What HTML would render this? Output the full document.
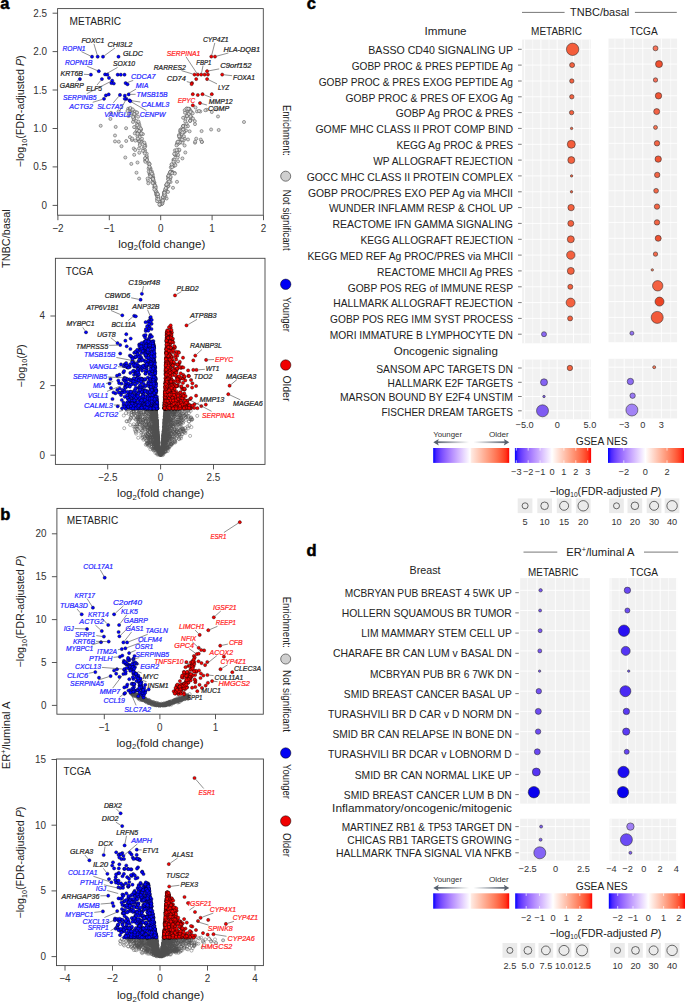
<!DOCTYPE html>
<html><head><meta charset="utf-8"><style>
html,body{margin:0;padding:0;background:#fff;}
svg{display:block;font-family:"Liberation Sans", sans-serif;}
</style></head><body>
<svg width="685" height="1003" viewBox="0 0 685 1003">
<rect width="685" height="1003" fill="#fff"/>
<defs><marker id="mg" markerWidth="4.94" markerHeight="4.94" refX="2.47" refY="2.47" markerUnits="userSpaceOnUse" overflow="visible"><circle cx="2.47" cy="2.47" r="1.55" fill="none" stroke="#505050" stroke-width="0.42"/></marker><marker id="mgw" markerWidth="5.10" markerHeight="5.10" refX="2.55" refY="2.55" markerUnits="userSpaceOnUse" overflow="visible"><circle cx="2.55" cy="2.55" r="1.55" fill="#d8d8d8" stroke="#4a4a4a" stroke-width="0.5"/></marker><marker id="mb" markerWidth="4.96" markerHeight="4.96" refX="2.48" refY="2.48" markerUnits="userSpaceOnUse" overflow="visible"><circle cx="2.48" cy="2.48" r="1.6" fill="#0000ff" stroke="#000" stroke-width="0.38"/></marker><marker id="mr" markerWidth="4.96" markerHeight="4.96" refX="2.48" refY="2.48" markerUnits="userSpaceOnUse" overflow="visible"><circle cx="2.48" cy="2.48" r="1.6" fill="#f50000" stroke="#000" stroke-width="0.38"/></marker></defs>
<rect x="57.6" y="8.6" width="205.7" height="206.6" fill="none" stroke="#444" stroke-width="0.9"/>
<line x1="52.6" y1="205.4" x2="57.6" y2="205.4" stroke="#444" stroke-width="0.9"/>
<text x="41.6" y="208.8" font-size="10.6" fill="#333" textLength="5.5" lengthAdjust="spacingAndGlyphs">0</text>
<line x1="52.6" y1="166.9" x2="57.6" y2="166.9" stroke="#444" stroke-width="0.9"/>
<text x="33.3" y="170.4" font-size="10.6" fill="#333" textLength="13.8" lengthAdjust="spacingAndGlyphs">0.5</text>
<line x1="52.6" y1="128.5" x2="57.6" y2="128.5" stroke="#444" stroke-width="0.9"/>
<text x="33.3" y="131.9" font-size="10.6" fill="#333" textLength="13.8" lengthAdjust="spacingAndGlyphs">1.0</text>
<line x1="52.6" y1="90.0" x2="57.6" y2="90.0" stroke="#444" stroke-width="0.9"/>
<text x="33.3" y="93.5" font-size="10.6" fill="#333" textLength="13.8" lengthAdjust="spacingAndGlyphs">1.5</text>
<line x1="52.6" y1="51.6" x2="57.6" y2="51.6" stroke="#444" stroke-width="0.9"/>
<text x="33.3" y="55.0" font-size="10.6" fill="#333" textLength="13.8" lengthAdjust="spacingAndGlyphs">2.0</text>
<line x1="52.6" y1="13.2" x2="57.6" y2="13.2" stroke="#444" stroke-width="0.9"/>
<text x="33.3" y="16.6" font-size="10.6" fill="#333" textLength="13.8" lengthAdjust="spacingAndGlyphs">2.5</text>
<line x1="57.9" y1="215.2" x2="57.9" y2="220.2" stroke="#444" stroke-width="0.9"/>
<text x="52.2" y="231.9" font-size="10.6" fill="#333" textLength="11.3" lengthAdjust="spacingAndGlyphs">−2</text>
<line x1="109.3" y1="215.2" x2="109.3" y2="220.2" stroke="#444" stroke-width="0.9"/>
<text x="103.6" y="231.9" font-size="10.6" fill="#333" textLength="11.3" lengthAdjust="spacingAndGlyphs">−1</text>
<line x1="160.7" y1="215.2" x2="160.7" y2="220.2" stroke="#444" stroke-width="0.9"/>
<text x="157.9" y="231.9" font-size="10.6" fill="#333" textLength="5.5" lengthAdjust="spacingAndGlyphs">0</text>
<line x1="212.1" y1="215.2" x2="212.1" y2="220.2" stroke="#444" stroke-width="0.9"/>
<text x="209.3" y="231.9" font-size="10.6" fill="#333" textLength="5.5" lengthAdjust="spacingAndGlyphs">1</text>
<line x1="263.5" y1="215.2" x2="263.5" y2="220.2" stroke="#444" stroke-width="0.9"/>
<text x="260.7" y="231.9" font-size="10.6" fill="#333" textLength="5.5" lengthAdjust="spacingAndGlyphs">2</text>
<path d="M178.4 141.6 162.1 201.4 186.5 116.5 162.1 203.4 140.0 128.6 159.8 205.1 216.4 109.3 170.6 182.0 134.0 117.1 172.4 172.2 150.6 168.6 142.9 134.1 218.7 130.0 161.7 204.0 154.5 182.8 178.9 150.7 100.7 125.8 195.0 142.7 143.3 148.8 115.0 135.5 189.4 108.9 177.7 157.3 162.5 200.9 138.7 140.9 173.0 187.8 189.0 109.8 176.0 155.0 133.2 111.3 164.0 194.3 182.3 127.8 173.9 166.1 174.7 173.0 161.6 203.6 181.3 139.4 201.6 131.1 206.7 109.8 168.5 186.0 180.2 131.8 179.6 137.7 162.7 201.5 153.2 180.5 158.4 198.3 167.8 183.1 139.1 178.6 150.3 174.5 142.4 142.5 184.6 145.5 172.4 165.5 118.6 111.5 156.0 192.2 126.2 141.0 184.7 110.2 144.8 144.1 131.0 109.1 165.3 190.7 162.4 203.4 135.3 127.1 179.4 143.0 140.6 130.6 150.5 172.7 186.0 130.5 191.3 117.6 173.4 159.9 149.5 164.0 136.5 172.7 151.8 173.7 175.3 155.1 186.5 124.4 187.9 126.2 140.6 134.4 188.0 139.5 155.1 187.7 139.6 141.7 145.3 146.0 146.5 159.5 163.1 198.1 185.3 152.5 152.2 176.9 168.2 178.9 156.3 194.8 176.9 144.3 159.3 201.3 191.4 112.0 137.0 123.7 153.0 178.9 138.6 122.7 136.2 120.9 156.4 193.4 184.7 117.5 142.2 141.9 154.3 187.2 150.7 176.9 170.2 178.9 181.2 135.7 155.8 191.1 152.6 182.4 137.5 162.5 136.3 131.6 129.9 137.1 157.7 197.5 133.8 148.5 138.1 116.7 152.1 178.0 172.2 171.8 154.3 184.6 164.1 192.2 190.3 120.4 171.7 164.8 151.9 171.6 157.6 194.5 166.1 189.9 152.9 177.8 153.3 182.5 180.3 129.8 183.4 129.1 184.3 132.0 174.7 164.3 169.5 173.8 162.7 201.6 141.3 142.6 150.2 169.4 145.0 150.2 129.9 113.2 174.1 159.3 135.2 150.0 166.6 198.5 134.2 154.8 144.7 147.2 170.8 167.3 148.5 162.5 158.7 200.3 183.6 125.8 195.2 141.6 154.1 184.0 170.8 171.2 195.0 124.1 178.3 149.6 149.7 173.9 144.1 145.5 181.2 133.1 200.3 111.5 153.8 181.6 131.7 110.0 184.7 138.8 148.5 163.9 133.5 117.7 118.8 141.7 163.6 197.3 137.8 132.0 152.7 174.3 159.2 201.2 177.5 144.2 163.3 197.5 200.8 139.6 133.0 121.9 166.9 187.5 189.6 131.3 115.0 141.4 164.1 197.1 157.5 194.9 165.3 191.2 186.0 112.6 170.8 172.8 173.3 164.3 185.6 126.5 163.8 198.8 165.5 196.1 131.3 163.9 139.2 124.5 146.8 157.0 148.0 180.5 133.8 111.7 174.2 163.3 183.5 140.4 178.0 161.3 211.1 129.5 145.1 160.5 146.6 155.9 168.2 185.7 167.5 182.8 140.1 143.8 168.0 184.0 175.4 165.2 157.4 194.2 172.3 165.6 152.7 176.0 178.1 154.8 182.4 142.8 158.6 200.2 196.2 138.7 134.8 133.4 187.5 113.7 174.9 150.4 166.2 189.0 152.3 181.7 190.4 110.6 180.5 130.8 153.2 177.8 190.5 116.8 160.0 203.9 185.5 119.1 144.3 142.6 164.1 197.2 190.4 117.3 138.4 121.6 140.8 129.3 154.6 187.1 172.1 167.2 138.2 139.1 121.5 146.2 146.7 153.7 115.7 126.9 168.2 176.4 135.0 111.6 164.1 192.8 149.5 164.1 145.4 161.8 133.9 119.3 136.8 112.7 153.5 179.8 156.7 192.2 138.6 128.3 189.1 108.9 174.5 159.9 171.6 164.3 155.5 188.8 182.4 158.4 168.3 176.7 165.1 189.4 155.1 189.5 202.0 141.9 170.5 177.2 155.5 190.7 110.4 118.9 133.6 118.6 142.0 138.7 185.0 112.7 179.6 136.8 141.4 133.5 139.6 126.3 179.4 149.8 147.6 178.6 182.0 139.6 138.7 130.6 181.4 131.3 158.0 197.5 158.2 198.0 137.4 125.2 183.1 125.9 190.2 120.9 128.2 108.7 156.7 194.3 171.3 172.4 138.6 135.5 173.5 161.7 179.4 136.1 183.1 126.1 145.3 158.4 137.5 136.2 156.9 193.7 150.1 173.5 139.0 148.4 190.4 114.4 140.8 129.4 134.7 114.9 186.5 123.5 157.4 196.4 183.9 131.8 139.0 127.4 132.0 140.0 144.7 151.8 157.5 196.4 157.8 194.1 132.3 112.6 183.9 136.2 125.3 157.5 169.5 173.8 185.2 121.4 179.7 142.3 170.5 171.8 166.4 185.0 190.5 116.1 149.7 173.9 178.9 135.1 201.8 141.9 168.0 191.9 111.0 112.8 137.1 130.2 166.2 185.2 146.9 159.0 162.8 200.6 139.3 152.7 148.6 168.5 150.4 175.0 130.0 108.7 148.3 183.3 162.9 197.0 134.1 127.1 158.4 197.0 194.8 121.1 133.4 115.5 151.0 176.3 168.8 177.6 142.4 144.4 135.4 140.6 139.8 145.2 168.2 179.5 177.0 181.8 181.9 134.1 164.2 195.4 165.0 193.6 170.1 172.1 150.0 171.1 145.1 158.2 134.4 114.0 155.7 186.5 149.7 167.3 133.1 117.0 174.7 154.5 126.1 128.2 177.0 152.6 177.2 142.4 137.5 133.7 183.1 129.6 182.5 132.5 187.0 108.5 164.6 194.8 165.8 188.0 197.0 111.4 189.2 112.5 176.6 150.1 175.6 153.7 156.9 198.9 188.8 114.0 152.5 178.2 150.3 176.4 155.5 187.8 151.1 173.0 142.9 150.8 140.7 128.6 137.0 112.5 186.5 108.7 159.3 204.4 130.3 108.8 146.9 160.0 148.7 171.6 164.4 192.7 139.7 137.1 158.6 201.3 153.0 179.0 190.1 120.8 172.2 173.2 192.7 113.3 169.2 181.5 166.6 184.4 154.3 189.4 183.1 117.8 128.8 113.5 132.2 138.6 154.9 185.5 169.0 175.6 157.1 201.1 139.1 131.0 153.2 183.0 211.8 112.0 174.2 153.8 158.4 199.2 150.7 172.1 179.1 136.3 177.9 141.7 152.6 183.1 170.5 176.9 149.4 166.7 188.3 108.7 174.8 173.6 151.9 173.6 168.4 175.8 137.9 138.6 176.5 145.4 144.8 153.4 195.5 107.5 205.3 110.2 190.5 112.0 199.0 111.0 218.0 116.5 244.0 122.0 187.0 116.0 193.0 118.5 130.4 108.0 132.8 109.5 127.5 111.0 131.0 113.5 128.5 116.0" fill="none" stroke="none" marker-start="url(#mgw)" marker-mid="url(#mgw)" marker-end="url(#mgw)"/>
<line x1="93.9" y1="43.8" x2="97.2" y2="54.9" stroke="#333" stroke-width="0.55"/>
<text x="81.4" y="42.8" font-size="7.4" fill="#222" font-style="italic" textLength="22.9" lengthAdjust="spacingAndGlyphs" stroke="#222" stroke-width="0.22">FOXC1</text>
<line x1="81.4" y1="51.6" x2="90.3" y2="55.9" stroke="#333" stroke-width="0.55"/>
<text x="62.5" y="50.6" font-size="7.4" fill="#2626ff" font-style="italic" textLength="22.9" lengthAdjust="spacingAndGlyphs" stroke="#2626ff" stroke-width="0.22">ROPN1</text>
<line x1="115.0" y1="48.0" x2="104.5" y2="55.6" stroke="#333" stroke-width="0.55"/>
<text x="107.4" y="47.0" font-size="7.4" fill="#222" font-style="italic" textLength="25.0" lengthAdjust="spacingAndGlyphs" stroke="#222" stroke-width="0.22">CHI3L2</text>
<text x="122.9" y="56.2" font-size="7.4" fill="#222" font-style="italic" textLength="20.0" lengthAdjust="spacingAndGlyphs" stroke="#222" stroke-width="0.22">GLDC</text>
<line x1="87.1" y1="66.2" x2="97.1" y2="70.5" stroke="#333" stroke-width="0.55"/>
<text x="64.9" y="65.2" font-size="7.4" fill="#2626ff" font-style="italic" textLength="27.6" lengthAdjust="spacingAndGlyphs" stroke="#2626ff" stroke-width="0.22">ROPN1B</text>
<line x1="117.6" y1="67.4" x2="106.8" y2="73.5" stroke="#333" stroke-width="0.55"/>
<text x="113.0" y="66.4" font-size="7.4" fill="#222" font-style="italic" textLength="22.0" lengthAdjust="spacingAndGlyphs" stroke="#222" stroke-width="0.22">SOX10</text>
<line x1="84.0" y1="74.3" x2="89.0" y2="74.6" stroke="#333" stroke-width="0.55"/>
<text x="60.5" y="76.2" font-size="7.4" fill="#222" font-style="italic" textLength="22.5" lengthAdjust="spacingAndGlyphs" stroke="#222" stroke-width="0.22">KRT6B</text>
<line x1="133.2" y1="80.4" x2="127.4" y2="82.5" stroke="#333" stroke-width="0.55"/>
<text x="131.1" y="79.4" font-size="7.4" fill="#2626ff" font-style="italic" textLength="24.4" lengthAdjust="spacingAndGlyphs" stroke="#2626ff" stroke-width="0.22">CDCA7</text>
<line x1="76.6" y1="81.5" x2="78.4" y2="80.2" stroke="#333" stroke-width="0.55"/>
<text x="59.8" y="87.7" font-size="7.4" fill="#222" font-style="italic" textLength="24.0" lengthAdjust="spacingAndGlyphs" stroke="#222" stroke-width="0.22">GABRP</text>
<line x1="97.0" y1="85.0" x2="100.7" y2="80.6" stroke="#333" stroke-width="0.55"/>
<text x="86.2" y="91.2" font-size="7.4" fill="#222" font-style="italic" textLength="15.8" lengthAdjust="spacingAndGlyphs" stroke="#222" stroke-width="0.22">ELF5</text>
<line x1="136.1" y1="89.0" x2="126.4" y2="94.7" stroke="#333" stroke-width="0.55"/>
<text x="135.8" y="88.0" font-size="7.4" fill="#2626ff" font-style="italic" textLength="12.6" lengthAdjust="spacingAndGlyphs" stroke="#2626ff" stroke-width="0.22">MIA</text>
<line x1="86.7" y1="93.7" x2="110.5" y2="81.6" stroke="#333" stroke-width="0.55"/>
<text x="63.0" y="99.9" font-size="7.4" fill="#2626ff" font-style="italic" textLength="33.4" lengthAdjust="spacingAndGlyphs" stroke="#2626ff" stroke-width="0.22">SERPINB5</text>
<line x1="135.6" y1="94.3" x2="130.6" y2="94.4" stroke="#333" stroke-width="0.55"/>
<text x="136.6" y="96.7" font-size="7.4" fill="#2626ff" font-style="italic" textLength="31.0" lengthAdjust="spacingAndGlyphs" stroke="#2626ff" stroke-width="0.22">TMSB15B</text>
<line x1="92.7" y1="102.3" x2="102.2" y2="99.4" stroke="#333" stroke-width="0.55"/>
<text x="69.3" y="108.5" font-size="7.4" fill="#2626ff" font-style="italic" textLength="23.7" lengthAdjust="spacingAndGlyphs" stroke="#2626ff" stroke-width="0.22">ACTG2</text>
<line x1="113.3" y1="102.8" x2="118.8" y2="96.3" stroke="#333" stroke-width="0.55"/>
<text x="97.2" y="109.0" font-size="7.4" fill="#2626ff" font-style="italic" textLength="26.0" lengthAdjust="spacingAndGlyphs" stroke="#2626ff" stroke-width="0.22">SLC7A5</text>
<line x1="140.3" y1="102.0" x2="131.4" y2="100.7" stroke="#333" stroke-width="0.55"/>
<text x="141.3" y="106.9" font-size="7.4" fill="#2626ff" font-style="italic" textLength="28.0" lengthAdjust="spacingAndGlyphs" stroke="#2626ff" stroke-width="0.22">CALML3</text>
<line x1="119.7" y1="111.0" x2="125.5" y2="100.5" stroke="#333" stroke-width="0.55"/>
<text x="104.3" y="117.2" font-size="7.4" fill="#2626ff" font-style="italic" textLength="26.8" lengthAdjust="spacingAndGlyphs" stroke="#2626ff" stroke-width="0.22">VANGL2</text>
<line x1="146.5" y1="110.7" x2="131.9" y2="102.2" stroke="#333" stroke-width="0.55"/>
<text x="139.8" y="116.9" font-size="7.4" fill="#2626ff" font-style="italic" textLength="25.6" lengthAdjust="spacingAndGlyphs" stroke="#2626ff" stroke-width="0.22">CENPW</text>
<line x1="214.8" y1="42.9" x2="211.8" y2="54.8" stroke="#333" stroke-width="0.55"/>
<text x="202.9" y="41.9" font-size="7.4" fill="#222" font-style="italic" textLength="25.7" lengthAdjust="spacingAndGlyphs" stroke="#222" stroke-width="0.22">CYP4Z1</text>
<line x1="228.4" y1="53.0" x2="216.8" y2="56.1" stroke="#333" stroke-width="0.55"/>
<text x="223.4" y="52.0" font-size="7.4" fill="#222" font-style="italic" textLength="36.6" lengthAdjust="spacingAndGlyphs" stroke="#222" stroke-width="0.22">HLA‐DQB1</text>
<line x1="186.0" y1="56.8" x2="196.7" y2="73.0" stroke="#333" stroke-width="0.55"/>
<text x="166.8" y="55.8" font-size="7.4" fill="#ff2020" font-style="italic" textLength="33.6" lengthAdjust="spacingAndGlyphs" stroke="#ff2020" stroke-width="0.22">SERPINA1</text>
<line x1="203.0" y1="65.6" x2="201.6" y2="72.7" stroke="#333" stroke-width="0.55"/>
<text x="196.2" y="64.6" font-size="7.4" fill="#222" font-style="italic" textLength="15.1" lengthAdjust="spacingAndGlyphs" stroke="#222" stroke-width="0.22">FBP1</text>
<line x1="181.4" y1="70.6" x2="192.7" y2="74.0" stroke="#333" stroke-width="0.55"/>
<text x="153.7" y="69.6" font-size="7.4" fill="#222" font-style="italic" textLength="32.1" lengthAdjust="spacingAndGlyphs" stroke="#222" stroke-width="0.22">RARRES2</text>
<line x1="219.2" y1="68.9" x2="209.0" y2="70.8" stroke="#333" stroke-width="0.55"/>
<text x="220.2" y="68.3" font-size="7.4" fill="#222" font-style="italic" textLength="31.4" lengthAdjust="spacingAndGlyphs" stroke="#222" stroke-width="0.22">C9orf152</text>
<line x1="232.1" y1="75.7" x2="224.1" y2="74.8" stroke="#333" stroke-width="0.55"/>
<text x="233.1" y="79.7" font-size="7.4" fill="#222" font-style="italic" textLength="21.8" lengthAdjust="spacingAndGlyphs" stroke="#222" stroke-width="0.22">FOXA1</text>
<line x1="186.8" y1="81.6" x2="190.2" y2="82.5" stroke="#333" stroke-width="0.55"/>
<text x="166.8" y="81.4" font-size="7.4" fill="#222" font-style="italic" textLength="19.0" lengthAdjust="spacingAndGlyphs" stroke="#222" stroke-width="0.22">CD74</text>
<line x1="217.0" y1="83.9" x2="208.8" y2="79.9" stroke="#333" stroke-width="0.55"/>
<text x="218.0" y="89.7" font-size="7.4" fill="#222" font-style="italic" textLength="11.2" lengthAdjust="spacingAndGlyphs" stroke="#222" stroke-width="0.22">LYZ</text>
<text x="177.7" y="102.8" font-size="7.4" fill="#ff2020" font-style="italic" textLength="17.6" lengthAdjust="spacingAndGlyphs" stroke="#ff2020" stroke-width="0.22">EPYC</text>
<line x1="211.2" y1="97.5" x2="204.3" y2="94.9" stroke="#333" stroke-width="0.55"/>
<text x="208.8" y="103.7" font-size="7.4" fill="#222" font-style="italic" textLength="23.8" lengthAdjust="spacingAndGlyphs" stroke="#222" stroke-width="0.22">MMP12</text>
<line x1="206.9" y1="105.0" x2="201.8" y2="103.6" stroke="#333" stroke-width="0.55"/>
<text x="207.9" y="110.7" font-size="7.4" fill="#222" font-style="italic" textLength="21.3" lengthAdjust="spacingAndGlyphs" stroke="#222" stroke-width="0.22">COMP</text>
<path d="M92.0 56.7 97.7 56.7 103.0 56.7 118.5 56.7 98.8 71.2 90.9 74.7 105.1 74.4 107.4 74.7 117.7 74.7 120.8 74.7 124.5 74.7 79.9 79.1 101.9 79.1 109.0 77.9 112.2 80.7 111.4 83.1 113.8 83.5 125.6 83.1 127.5 84.3 105.9 95.4 108.7 94.4 104.0 98.8 120.0 94.9 124.8 95.7 128.7 94.4 126.4 98.8 129.5 100.4 130.3 101.2 124.8 98.8" fill="none" stroke="none" marker-start="url(#mb)" marker-mid="url(#mb)" marker-end="url(#mb)"/>
<path d="M211.3 56.6 215.0 56.6 194.5 74.6 197.8 74.6 201.2 74.6 204.6 74.6 207.9 74.6 207.1 71.2 196.2 79.1 207.1 79.1 222.2 74.6 192.0 83.0 191.6 84.1 192.8 94.2 197.8 95.0 202.5 94.2 211.8 94.2 200.0 103.1 192.8 105.3" fill="none" stroke="none" marker-start="url(#mr)" marker-mid="url(#mr)" marker-end="url(#mr)"/>
<text x="69.6" y="24.5" font-size="11.2" fill="#222" textLength="51.5" lengthAdjust="spacingAndGlyphs">METABRIC</text>
<rect x="55.4" y="258.3" width="209.6" height="206.1" fill="none" stroke="#444" stroke-width="0.9"/>
<line x1="50.4" y1="455.2" x2="55.4" y2="455.2" stroke="#444" stroke-width="0.9"/>
<text x="39.4" y="458.6" font-size="10.6" fill="#333" textLength="5.5" lengthAdjust="spacingAndGlyphs">0</text>
<line x1="50.4" y1="385.6" x2="55.4" y2="385.6" stroke="#444" stroke-width="0.9"/>
<text x="39.4" y="389.0" font-size="10.6" fill="#333" textLength="5.5" lengthAdjust="spacingAndGlyphs">2</text>
<line x1="50.4" y1="316.0" x2="55.4" y2="316.0" stroke="#444" stroke-width="0.9"/>
<text x="39.4" y="319.4" font-size="10.6" fill="#333" textLength="5.5" lengthAdjust="spacingAndGlyphs">4</text>
<line x1="107.7" y1="464.4" x2="107.7" y2="469.4" stroke="#444" stroke-width="0.9"/>
<text x="97.9" y="481.1" font-size="10.6" fill="#333" textLength="19.6" lengthAdjust="spacingAndGlyphs">−2.5</text>
<line x1="160.6" y1="464.4" x2="160.6" y2="469.4" stroke="#444" stroke-width="0.9"/>
<text x="157.8" y="481.1" font-size="10.6" fill="#333" textLength="5.5" lengthAdjust="spacingAndGlyphs">0</text>
<line x1="213.5" y1="464.4" x2="213.5" y2="469.4" stroke="#444" stroke-width="0.9"/>
<text x="206.6" y="481.1" font-size="10.6" fill="#333" textLength="13.8" lengthAdjust="spacingAndGlyphs">2.5</text>
<path d="M167.6 432.0 147.9 434.0 154.5 424.8 159.8 452.8 137.3 426.3 156.1 443.0 152.6 441.9 160.8 454.3 153.7 413.4 163.5 437.0 145.5 429.0 165.4 409.8 162.8 452.2 166.5 419.9 168.5 415.6 138.6 410.4 165.9 409.9 142.1 425.5 156.3 431.3 157.3 429.2 168.9 424.3 164.3 446.7 170.0 420.5 163.4 438.2 173.3 418.2 153.5 413.0 146.5 424.6 156.1 420.7 138.9 430.9 173.3 409.9 157.5 435.0 164.8 429.8 165.5 412.4 181.4 422.6 155.9 411.1 158.0 442.2 146.8 418.8 173.8 413.5 164.6 419.3 145.4 435.6 137.6 417.4 166.4 419.2 175.2 411.0 157.4 454.6 185.2 418.1 165.0 415.9 135.9 432.2 165.8 429.7 154.1 433.2 155.4 416.2 161.5 453.1 170.9 440.5 155.9 410.8 154.6 442.6 168.7 433.9 147.2 426.9 163.1 439.5 138.5 416.9 162.8 445.8 149.8 419.7 144.3 428.8 165.9 420.6 166.7 421.8 146.8 435.9 155.0 425.8 141.3 435.0 165.0 437.1 165.2 413.0 164.9 417.1 162.8 444.7 166.0 423.9 164.2 426.7 161.7 450.3 164.9 416.3 170.8 423.1 170.3 424.1 158.0 437.7 182.2 413.4 170.8 425.0 157.7 449.5 152.9 440.3 165.5 409.4 149.9 410.0 188.2 417.2 163.2 440.9 166.3 413.6 165.7 410.9 167.6 417.4 164.1 426.4 166.6 438.0 156.2 440.4 149.0 423.7 174.4 424.4 139.0 422.1 170.8 428.4 157.2 434.8 156.7 428.2 155.1 431.0 135.5 419.4 155.5 440.0 173.1 412.8 156.2 449.5 176.5 414.9 145.6 421.5 147.7 427.6 150.8 426.9 150.4 442.6 170.6 437.2 152.1 435.0 155.0 411.4 164.4 436.1 140.3 419.6 167.8 451.0 150.8 428.6 164.5 423.2 157.7 433.5 142.6 422.3 190.7 410.9 148.3 420.7 163.4 435.1 166.6 419.5 154.0 426.6 157.1 449.0 163.1 438.9 157.0 424.8 164.6 449.1 153.0 436.7 154.0 427.7 174.2 441.6 150.8 412.7 157.6 448.1 155.9 412.4 154.6 436.3 157.9 436.9 156.8 433.5 154.6 415.0 164.0 434.2 167.4 414.9 152.1 420.7 153.3 414.1 154.6 424.9 155.8 446.0 164.7 421.4 150.6 412.2 156.8 445.7 157.4 434.2 152.1 446.6 158.0 438.2 151.7 427.4 155.4 424.9 156.9 429.4 164.7 437.2 165.5 440.6 163.3 436.9 165.0 437.1 165.1 417.3 157.0 434.9 158.4 443.5 151.8 428.2 179.7 434.1 174.6 424.2 156.3 415.8 158.4 443.8 152.1 414.9 163.5 433.6 184.9 409.7 188.6 416.3 164.9 416.0 174.8 429.5 169.6 432.7 155.1 426.9 157.6 443.1 164.9 433.6 146.5 418.2 153.4 415.2 157.0 449.0 154.5 436.7 171.4 428.6 171.0 422.3 187.6 426.5 174.3 432.4 157.1 429.1 168.6 409.8 154.0 450.4 153.7 421.7 146.5 443.9 139.6 417.9 156.2 447.2 167.6 429.7 154.0 432.1 159.6 451.1 176.2 438.2 157.3 437.2 155.7 425.8 156.1 419.9 148.9 414.2 157.5 440.3 176.9 410.5 156.6 420.1 166.8 427.9 170.3 419.3 163.6 440.2 154.9 419.7 156.8 423.2 149.3 442.4 137.0 418.4 154.7 409.9 155.3 412.5 147.8 437.1 171.4 412.4 190.1 435.9 153.1 411.0 170.5 443.1 152.1 418.8 134.0 411.9 154.5 416.1 156.5 420.4 180.4 417.5 166.0 416.3 164.4 437.9 126.0 413.1 156.6 420.0 166.1 413.7 173.3 423.4 156.6 421.1 162.8 445.9 172.4 443.5 168.9 438.1 150.7 441.8 157.5 432.6 164.4 423.7 170.2 425.5 161.6 453.7 167.6 428.1 156.3 418.6 164.6 429.7 163.6 437.2 156.7 425.8 163.8 431.8 157.4 431.1 184.7 415.1 152.3 413.9 167.3 439.5 156.5 419.5 165.4 437.2 163.9 430.2 148.1 442.4 156.2 436.6 136.1 433.6 183.6 429.0 163.5 433.4 157.8 434.9 158.0 438.9 171.5 411.1 173.0 411.9 148.1 430.5 147.0 443.1 189.4 425.4 176.3 414.6 168.0 429.4 151.3 447.2 163.1 445.3 157.7 435.5 139.9 424.5 163.0 453.0 151.3 408.6 151.9 426.1 165.7 432.8 155.5 443.9 156.9 423.6 163.6 451.1 140.7 414.3 157.0 437.4 126.5 409.2 158.2 440.6 181.1 417.7 174.9 439.7 140.9 412.2 158.2 441.5 153.9 439.1 161.0 454.5 137.0 424.4 158.3 442.8 157.7 437.2 154.0 445.7 163.4 434.8 173.4 412.1 168.8 447.3 169.4 429.2 155.1 418.3 157.9 438.3 166.5 437.5 163.4 439.5 164.5 426.7 165.7 438.5 153.9 436.4 158.0 440.2 152.3 416.9 155.4 429.5 144.1 419.4 179.1 434.6 165.9 451.6 157.3 433.5 163.0 441.3 158.1 439.3 156.0 441.8 162.8 442.8 144.4 437.0 165.4 423.2 134.8 426.8 157.4 434.3 156.2 431.6 144.8 414.2 169.5 425.5 169.4 446.5 160.1 453.7 173.0 414.8 155.9 441.6 179.0 434.9 154.7 408.7 142.6 424.1 156.7 423.6 148.9 424.7 171.0 411.2 166.5 425.9 141.5 430.0 177.3 430.1 161.5 453.9 156.5 436.5 164.0 442.3 163.9 437.7 154.0 433.7 157.2 427.4 158.2 449.7 167.7 427.3 157.0 431.9 155.3 438.9 155.1 450.3 150.7 418.6 157.9 441.2 163.3 440.3 157.9 442.4 165.4 411.7 178.7 411.5 165.8 439.3 164.5 422.8 163.3 438.5 183.6 430.7 155.2 423.2 166.3 419.3 155.8 416.8 156.6 435.0 159.2 448.7 162.5 448.1 149.2 432.1 177.7 434.8 154.8 424.3 170.2 418.9 157.6 446.0 166.6 418.7 154.8 419.2 156.5 444.0 144.7 414.6 172.4 420.9 155.6 432.2 157.1 441.6 153.6 416.8 134.2 418.0 154.2 449.2 179.0 424.8 146.7 436.1 147.3 436.5 147.3 444.0 181.0 438.3 149.3 424.1 164.7 432.0 197.2 415.9 181.8 431.2 154.0 417.4 144.3 424.2 158.3 448.7 166.9 413.8 151.8 418.7 153.9 416.2 153.8 443.8 165.9 433.3 169.2 408.8 171.8 417.0 166.1 417.4 156.2 415.7 164.7 427.6 135.4 431.0 158.1 441.0 145.8 414.0 162.4 452.0 155.3 409.2 167.7 433.0 131.8 414.9 154.0 418.4 158.1 438.7 140.2 420.5 165.3 424.5 156.8 444.2 177.6 417.4 174.3 414.3 163.0 443.3 165.4 412.5 157.2 453.7 155.3 411.5 155.3 418.6 159.3 449.6 179.5 413.9 154.4 448.7 157.5 431.9 171.3 428.5 154.5 415.6 180.0 426.6 155.5 443.1 150.0 428.4 149.7 430.0 164.7 427.2 165.4 415.7 174.5 411.3 154.0 419.4 145.5 432.2 178.9 438.7 163.7 452.8 162.9 444.1 153.2 419.7 156.3 429.0 168.6 414.3 156.8 441.9 166.3 412.0 167.7 419.9 154.4 434.1 154.6 434.6 157.5 436.3 157.2 429.0 143.1 422.0 165.5 417.5 177.9 419.7 152.2 417.2 163.2 440.6 173.2 442.6 174.7 437.2 168.5 420.8 159.2 449.1 165.2 427.9 166.8 422.4 143.5 439.8 123.8 415.5 165.0 443.2 167.9 447.3 146.5 440.5 168.4 442.8 163.5 444.0 153.1 424.0 143.2 414.4 166.4 411.0 168.7 410.4 164.3 424.3 147.9 428.0 158.7 450.3 177.7 411.0 157.1 432.4 167.5 446.1 156.6 447.4 138.7 412.7 148.2 423.6 170.2 421.2 150.9 415.9 157.6 440.0 171.5 445.1 156.1 434.3 165.0 419.5 155.8 423.1 191.0 417.9 161.6 451.6 139.1 414.1 165.4 411.8 149.9 418.3 140.7 413.1 166.3 437.9 155.5 438.5 158.1 439.0 156.2 428.2 155.7 408.7 150.8 426.9 153.7 440.2 165.8 443.4 157.7 436.8 159.5 453.9 177.9 421.8 160.5 454.9 142.2 438.0 170.0 415.1 152.8 412.1 168.7 412.3 156.1 413.0 165.5 409.3 165.9 435.1 153.3 410.0 181.9 422.3 167.4 442.3 152.3 431.2 158.9 447.3 151.4 431.1 177.3 422.0 139.1 423.8 176.0 434.7 164.2 429.0 156.6 444.4 155.7 426.8 185.4 433.0 144.8 409.7 162.3 447.5 167.0 447.9 164.0 431.2 161.0 454.0 163.2 437.2 164.5 426.8 145.7 434.0 138.7 421.7 149.2 424.9 157.5 437.7 178.6 419.7 149.5 442.2 166.7 411.3 159.6 450.6 165.8 410.7 157.8 449.4 152.8 419.0 157.7 443.9 167.0 413.1 158.9 449.5 167.8 438.4 158.0 437.5 181.6 434.2 164.4 427.1 153.6 430.9 156.4 426.5 126.9 409.4 154.9 426.9 179.1 415.8 139.5 419.4 156.5 424.0 152.4 448.5 163.4 435.5 152.5 426.5 184.7 431.6 167.3 415.6 153.3 427.4 177.9 409.8 163.5 448.8 165.7 445.0 156.2 414.4 154.8 429.3 164.5 428.3 156.4 416.9 162.4 454.3 166.5 417.8 167.0 446.9 174.5 416.4 163.4 442.0 166.2 415.6 162.0 449.3 175.1 416.0 156.4 422.3 158.2 440.4 151.3 411.2 147.6 434.0 154.8 429.3 156.3 417.5 157.0 424.3 167.5 425.1 180.1 412.0 155.1 409.1 163.9 429.6 164.5 440.1 166.5 412.6 153.7 444.4 146.8 411.3 186.3 414.0 160.9 453.7 151.7 412.4 163.8 436.7 164.5 439.8 166.7 429.6 164.6 424.9 158.9 448.4 164.1 427.3 155.9 417.0 142.7 416.7 163.9 437.9 151.0 413.9 174.3 428.7 173.1 417.8 147.3 413.3 155.5 411.3 139.8 411.2 165.2 451.9 173.3 427.0 188.9 413.1 165.0 416.8 161.8 450.4 185.3 428.1 159.1 449.2 175.4 442.0 164.0 432.0 163.6 437.8 161.9 450.7 158.6 448.2 149.2 410.8 164.1 434.9 162.3 451.3 154.7 426.8 158.8 447.5 164.1 425.8 154.7 423.1 166.0 411.5 152.9 431.4 163.0 443.8 150.9 416.4 140.4 417.6 148.9 419.6 187.2 410.4 157.1 426.4 174.8 414.4 144.0 427.7 133.8 424.3 163.6 433.2 153.7 423.1 169.3 412.7 161.1 453.3 157.3 430.1 166.6 436.4 166.3 418.8 169.9 430.0 163.0 447.5 191.1 417.3 154.9 419.3 149.7 414.4 169.2 436.0 154.3 416.5 166.6 408.7 138.2 437.8 155.3 429.4 165.3 412.8 156.3 415.3 171.9 433.6 165.6 420.1 162.9 441.4 158.0 438.1 157.8 441.3 151.1 443.7 176.1 431.6 156.0 444.5 169.7 420.9 152.2 411.3 163.5 442.4 155.8 409.3 165.3 422.7 174.7 414.3 168.4 426.1 165.6 409.1 158.7 446.4 181.5 420.7 167.5 433.3 163.8 447.7 157.2 427.5 138.4 417.9 162.8 446.0 157.0 426.0 145.8 444.7 167.7 421.6 166.2 413.5 155.3 416.0 152.3 427.9 158.3 442.3 157.4 436.7 164.5 430.4 141.3 432.6 168.6 444.0 168.2 415.5 146.0 412.2 159.2 451.6 160.9 453.8 157.4 430.8 156.7 421.7 149.3 437.8 129.2 412.0 167.3 416.4 164.8 419.4 163.1 438.8 161.7 452.5 153.6 439.7 158.3 442.1 160.8 454.7 156.1 414.9 164.6 422.8 158.0 439.8 150.2 428.8 158.9 448.3 166.0 435.3 155.3 429.2 142.7 430.8 153.3 450.3 165.4 426.6 168.1 424.1 157.3 429.1 154.4 420.2 182.4 428.9 177.0 409.7 158.3 445.9 165.6 435.2 155.7 410.2 174.6 412.0 154.8 425.5 169.3 410.7 182.4 434.2 135.2 415.9 163.6 436.3 155.5 412.3 148.6 416.2 157.1 426.5 166.6 429.5 153.2 416.9 168.4 415.9 172.4 414.7 190.1 419.1 167.6 438.1 154.9 442.5 179.9 410.3 167.2 427.2 164.5 443.3 172.6 424.2 141.0 410.1 158.3 446.1 169.0 411.4 157.9 451.6 156.8 442.5 174.6 433.4 159.2 453.0 170.0 436.3 162.5 447.3 191.0 419.3 146.7 427.7 141.9 415.5 167.7 429.6 181.1 436.4 156.5 428.2 155.5 410.1 162.7 444.1 133.6 412.4 164.9 422.7 165.8 434.2 163.8 430.8 177.9 421.2 153.2 415.9 168.7 448.5 192.1 419.4 157.5 443.8 138.4 422.8 155.4 443.0 150.6 434.0 166.4 441.1 167.0 409.3 164.2 436.8 157.5 435.6 165.3 434.4 165.0 428.7 167.2 432.6 183.5 408.7 161.3 452.2 165.1 414.8 152.8 437.3 153.1 431.4 158.1 441.9 182.3 428.3 172.1 443.2 152.3 416.1 151.5 435.0 156.7 431.7 147.4 433.0 158.1 438.3 164.3 432.1 157.4 431.2 154.5 416.6 154.8 422.1 154.3 410.8 164.9 421.1 174.8 414.4 177.0 431.1 150.9 437.2 165.5 421.4 154.1 444.2 151.6 430.4 166.3 420.6 157.3 435.0 152.8 443.0 164.8 436.6 156.9 442.2 174.4 410.9 156.2 436.8 175.1 433.1 167.6 409.7 169.4 433.8 172.2 422.7 155.3 413.1 150.0 437.6 167.6 445.4 166.4 409.9 154.4 418.7 136.9 409.5 153.4 437.2 164.6 446.3 163.3 435.9 172.6 410.1 171.8 419.6 155.6 411.6 146.5 440.5 156.8 422.1 169.4 434.8 156.1 414.3 162.6 447.3 164.4 444.4 166.5 435.2 153.5 412.3 171.1 439.2 178.9 409.0 145.9 421.3 137.5 419.6 164.0 438.6 168.7 420.6 180.3 430.2 165.8 419.2 168.9 431.6 165.8 413.9 156.1 442.0 177.3 411.1 148.1 425.6 151.4 417.7 152.4 420.2 167.2 422.1 166.4 411.5 154.0 437.3 156.7 435.8 165.4 418.9 169.1 421.2 158.7 447.3 160.0 452.4 148.5 414.3 155.8 412.6 158.4 442.2 157.8 448.8 162.1 449.3 156.9 425.4 157.5 448.6 150.6 425.5 165.3 441.5 163.8 443.8 156.8 427.3 167.3 415.5 173.4 432.3 163.7 432.2 164.9 419.5 156.0 437.7 165.5 419.1 166.8 427.6 173.9 432.3 165.0 414.2 152.4 408.7 179.8 423.0 156.9 424.6 168.7 436.0 151.4 412.9 171.7 410.5 165.1 425.6 157.4 438.5 188.5 410.9 172.6 426.6 157.4 432.9 164.8 444.5 138.0 419.0 147.3 417.7 166.4 429.7 158.2 450.8 189.0 421.4 155.8 424.5 142.7 436.7 166.8 435.9 148.5 443.5 168.8 412.4 150.6 436.4 163.7 442.7 165.3 414.0 157.8 438.9 131.0 410.4 172.8 431.9 155.1 448.1 168.3 436.0 150.6 442.0 157.4 432.3 166.3 421.8 181.2 417.3 168.2 431.6 162.8 450.0 162.8 443.2 170.4 444.3 155.8 439.8 171.9 424.6 170.2 426.8 164.1 432.9 142.9 434.9 165.1 414.3 155.7 418.1 145.7 419.8 143.4 412.2 165.4 410.3 157.5 448.7 165.1 443.2 152.4 421.6 136.1 419.7 137.4 414.0 157.4 439.6 164.9 424.7 156.1 414.8 163.3 454.6 155.3 411.3 167.8 447.2 171.1 434.0 131.1 418.1 165.0 433.3 158.9 451.8 183.4 421.4 153.9 410.9 156.9 426.5 166.4 439.5 146.7 423.1 167.1 442.4 154.9 422.8 164.5 429.0 164.8 440.3 172.6 437.1 170.3 430.8 138.5 417.8 155.3 428.3 163.4 435.2 152.5 437.7 156.9 447.9 150.2 438.3 171.1 444.1 181.9 429.1 169.3 418.3 140.2 416.5 184.8 415.5 171.9 410.7 155.9 414.8 163.3 436.5 153.8 447.4 163.4 435.4 164.4 423.0 184.1 432.2 156.1 414.0 158.3 453.4 155.7 423.4 145.2 425.1 180.3 415.3 163.7 431.3 148.9 432.0 188.1 428.3 158.0 439.2 165.5 428.3 166.0 439.5 165.6 417.8 166.1 433.5 180.3 414.3 169.9 426.4 169.5 420.3 161.2 454.2 159.0 447.8 156.1 417.8 154.1 431.2 156.1 423.0 168.0 419.3 183.2 431.2 158.3 441.4 167.4 416.3 148.2 438.6 156.7 452.9 181.6 427.1 155.9 442.8 165.8 424.0 143.4 421.7 155.8 439.4 176.1 414.4 156.4 449.0 164.5 446.7 156.9 424.8 167.2 425.1 155.0 412.2 150.0 410.2 153.0 436.9 174.3 436.9 163.5 439.3 177.3 436.0 151.7 412.1 165.5 449.0 149.7 409.4 158.9 451.1 136.8 428.9 181.2 419.0 191.5 420.0 165.4 449.7 148.4 441.0 183.1 429.6 179.1 421.7 165.9 411.0 149.2 444.8 173.5 420.3 145.1 418.7 151.4 416.0 154.5 430.9 157.1 426.5 159.3 451.4 153.3 410.9 162.2 448.0 156.6 432.7 170.3 415.2 164.5 420.7 172.8 408.7 174.6 441.1 154.3 417.9 153.5 434.7 159.1 449.8 164.3 437.9 176.8 429.3 167.4 448.4 156.7 437.8 156.8 423.0 157.4 440.3 171.0 433.5 146.9 412.9 154.1 443.5 159.6 453.8 169.2 436.6 175.7 419.4 148.4 421.9 164.1 436.3 162.3 448.6 162.0 449.0 165.0 415.5 165.7 440.4 162.9 445.9 128.1 409.3 168.0 419.2 153.0 412.2 135.8 426.7 157.3 445.2 150.4 429.3 177.3 419.7 171.0 438.8 153.7 443.8 126.5 421.3 158.4 442.8 168.4 425.0 144.3 427.3 179.7 437.5 172.6 412.9 154.2 427.4 166.7 441.0 150.5 440.5 160.1 453.7 168.5 435.0 164.9 418.9 142.6 426.7 162.3 451.8 166.6 418.7 156.4 426.2 155.6 439.7 162.8 445.5 154.6 418.2 154.4 440.8 157.8 436.6 147.5 441.8 154.0 439.8 128.7 413.8 165.0 418.3 156.4 417.5 152.3 421.7 147.4 415.7 165.3 433.0 170.7 432.6 164.3 429.4 155.7 423.0 178.4 428.8 182.3 420.0 154.7 418.4 140.0 416.6 167.3 414.5 151.6 422.2 156.1 417.5 166.7 434.6 164.8 418.1 154.8 442.8 163.9 433.1 173.9 422.3 160.2 453.7 162.0 452.8 161.0 453.4 181.7 409.6 165.8 447.7 170.6 435.1 156.6 420.0 162.5 453.0 151.5 435.3 180.7 415.9 144.2 438.7 159.3 449.3 164.9 419.7 163.5 440.1 179.4 417.1 157.4 435.1 178.0 408.6 165.7 410.3 157.8 440.1 163.5 452.5 130.7 417.1 170.1 411.7 156.3 444.3 172.6 423.2 166.7 409.8 156.8 442.3 176.7 429.6 163.6 433.9 167.7 435.2 133.2 411.2 159.2 448.9 154.4 423.7 167.2 447.5 142.2 431.1 145.7 409.3 157.4 436.9 152.4 414.2 154.4 443.9 157.9 441.8 163.3 438.7 153.9 415.2 152.0 409.9 166.3 443.1 182.6 419.8 161.8 449.6 154.9 427.4 156.4 421.9 156.8 422.9 147.5 410.8 133.2 411.3 130.7 418.4 152.3 409.3 167.1 436.1 174.8 411.9 154.6 436.3 167.2 438.2 169.0 422.2 162.3 455.1 162.5 448.5 185.4 414.5 167.8 418.3 165.8 419.1 151.3 425.3 157.0 424.8 164.4 422.0 164.1 441.8 154.4 411.8 150.4 449.2 166.1 418.5 171.9 438.7 160.4 454.3 138.9 426.8 171.7 416.9 164.3 423.8 164.1 426.5 163.7 431.8 164.1 449.9 184.0 415.9 169.6 431.8 164.6 448.1 146.9 424.6 158.2 445.9 148.9 428.4 163.1 440.7 133.7 414.0 180.1 430.6 164.6 420.6 168.0 447.3 166.4 410.4 163.2 440.6 151.3 434.2 155.8 413.4 181.3 413.5 164.5 421.5 156.9 424.3 159.2 448.9 171.5 444.1 154.8 446.5 148.1 422.4 166.0 415.2 176.2 425.6 154.7 435.2 148.9 423.7 155.5 437.2 155.6 411.8 157.2 438.1 156.1 447.6 156.3 447.0 155.4 425.0 163.4 440.6 124.2 428.2 162.9 452.3 165.6 411.7 192.2 419.1 156.9 424.9 166.0 447.2 165.1 423.0 156.1 415.2 165.2 420.1 163.4 435.1 143.1 408.7 161.8 451.4 165.0 431.1 154.2 425.2 145.5 409.0 156.1 413.5 139.1 414.5 168.9 416.9 169.5 427.4 155.8 447.8 157.2 438.5 164.4 434.1 166.7 435.8 155.8 412.4 156.7 421.2 163.6 443.6 179.9 415.3 178.8 417.9 151.0 427.3 156.4 426.4 168.9 437.2 158.0 441.1 172.4 429.6 165.5 429.5 156.5 427.2 159.9 455.1 134.9 429.5 147.8 429.8 151.6 426.7 164.2 430.4 157.4 434.1 157.9 449.5 145.1 418.4 162.1 450.2 158.5 450.6 185.7 416.7 130.2 424.9 155.8 409.3 155.3 410.9 164.3 425.1 156.8 427.5 163.5 446.7 169.3 414.6 160.5 454.9 165.2 421.2 163.0 443.3 154.5 434.0 175.8 423.6 164.0 427.3 173.2 425.6 153.7 447.0 153.6 432.9 155.7 409.4 157.6 435.5 149.7 410.5 165.3 410.1 142.5 428.3 134.6 413.9 173.6 431.0 156.0 427.6 173.1 436.5 156.6 436.9 172.2 414.8 157.6 440.8 180.6 424.8 138.0 429.5 155.2 414.1 163.7 438.6 179.1 439.2 169.8 446.5 164.8 419.6 183.2 414.0 181.7 418.2 149.9 437.5 162.9 449.3 157.8 435.9 156.6 438.6 164.9 416.5 151.9 432.1 162.3 447.4 176.9 433.7 151.4 419.5 157.5 431.8 152.1 416.9 154.0 446.9 155.9 412.0 165.1 413.7 177.6 424.8 176.9 431.6 165.2 416.3 167.1 420.5 170.1 439.2 164.2 434.8 163.5 443.7 157.3 443.9 177.7 424.4 174.5 412.6 167.9 417.1 156.6 420.2 156.0 415.6 165.6 428.8 157.7 433.9 128.9 421.1 164.9 428.2 157.4 440.9 157.3 433.9 168.4 414.8 155.8 410.8 170.7 420.5 137.4 423.6 155.7 424.5 162.6 450.3 143.3 427.0 164.9 415.9 157.0 429.1 143.2 425.7 165.1 451.1 168.0 410.5 178.4 421.7 154.8 436.9 152.4 448.5 140.8 422.2 157.4 447.9 163.7 431.3 168.5 420.3 154.3 442.0 164.7 419.8 166.8 440.2 129.9 419.7 158.1 441.4 133.5 426.5 165.2 418.1 149.7 445.2 184.9 411.4 151.9 413.9 163.7 438.1 156.7 420.9 147.5 429.3 158.6 446.1 164.2 429.7 164.1 452.6 186.3 417.5 167.6 427.9 150.9 419.0 171.2 424.9 174.1 410.1 175.9 421.6 156.5 420.3 165.5 408.6 156.5 431.3 169.3 440.2 166.6 409.0 162.9 441.9 165.1 413.5 143.7 412.8 164.9 439.6 171.6 426.1 158.5 449.9 162.2 448.0 166.5 441.0 156.7 420.8 131.6 412.0 157.2 429.6 183.1 422.9 163.7 436.0 157.5 448.5 156.2 414.7 165.5 418.6 163.1 440.9 171.9 409.6 149.9 409.1 164.8 419.7 156.4 420.3 154.9 425.9 162.7 446.2 151.6 435.3 168.3 417.0 133.1 409.1 127.1 421.3 158.0 437.4 155.9 420.2 153.1 434.0 164.6 440.7 158.1 439.9 166.2 432.4 156.0 412.9 136.7 411.1 167.6 448.6 175.0 433.3 152.7 413.0 149.2 437.5 174.2 419.7 157.7 435.3 166.3 429.3 152.9 429.6 188.9 421.5 167.7 413.8 153.1 417.9 153.8 426.2 154.8 419.7 162.3 449.6 163.2 439.6 152.1 414.9 164.2 432.9 151.0 421.2 154.7 418.1 164.0 432.3 153.1 442.3 174.1 426.6 179.0 411.9 143.6 414.1 180.7 431.8 156.8 446.5 165.6 445.8 157.8 442.9 131.3 415.2 162.7 446.1 156.9 423.0 180.9 418.3 156.4 428.4 159.0 451.9 185.5 430.7 155.4 418.6 177.0 422.4 153.6 448.5 174.7 411.1 156.0 424.6 164.2 438.9 154.9 409.5 155.9 411.2 158.9 447.6 178.7 432.6 156.9 427.9 169.9 439.4 164.7 420.4 158.4 442.9 147.3 431.9 155.4 440.4 152.3 418.8 165.8 422.4 153.2 418.0 157.9 437.2 165.3 433.7 150.5 436.7 159.2 449.7 170.1 413.6 155.8 410.9 151.3 443.8 167.9 435.7 142.9 420.5 164.2 431.8 156.3 430.3 158.0 439.8 165.0 451.1 155.7 408.7 156.7 421.2 156.1 423.8 165.4 435.5 148.9 446.4 156.1 420.6 161.4 451.5 155.6 409.6 163.3 443.0 153.3 410.0 157.0 445.7 154.7 410.8 150.2 428.6 139.0 419.7 153.3 439.5 158.0 447.0 186.5 410.7 156.5 419.2 156.4 417.2 171.3 443.8 158.8 454.6 164.6 420.3 166.1 428.4 169.5 411.2 154.9 411.2 157.9 440.5 161.2 452.7 148.0 437.3 151.1 441.0 143.0 419.9 152.2 444.2 165.4 410.2 161.3 452.5 135.5 415.1 162.6 448.8 165.2 421.1 175.0 441.1 172.4 436.4 139.4 412.6 173.9 420.3 165.5 428.1 152.0 417.4 169.4 438.8 146.1 409.5 163.7 449.4 152.9 438.0 168.6 416.3 156.0 434.0 166.3 440.8 149.9 440.3 155.7 437.2 173.9 416.1 173.5 416.9 156.9 422.9 164.8 418.9 145.3 438.5 188.3 409.2 170.6 410.6 154.8 444.6 170.9 430.5 158.4 443.1 151.9 424.1 165.1 431.1 154.5 411.8 152.0 412.5 150.3 420.2 164.8 426.7 155.8 435.4 153.6 422.2 180.2 423.4 152.0 409.6 152.4 417.8 149.9 432.1 175.8 425.3 150.2 439.7 153.7 412.5 154.4 431.1 158.6 448.3 137.2 413.8 148.1 410.0 158.3 442.5 174.9 442.6 168.7 417.2 164.0 427.6 178.5 432.7 166.1 423.5 143.3 420.0 146.3 435.0 166.3 451.0 154.3 417.8 168.1 431.6 153.4 421.5 169.7 441.1 161.0 455.0 155.8 448.7 126.3 408.6 144.9 418.2 187.5 415.9 167.8 433.4 151.5 410.4 164.9 430.8 146.3 425.1 175.0 430.0 163.4 443.8 148.4 416.4 157.5 432.3 165.3 420.3 191.4 427.1 162.6 445.9 137.3 426.8 146.3 410.3 166.4 410.1 160.5 454.8 164.8 416.8 158.0 441.3 157.2 449.8 174.2 414.6 142.3 422.9 158.5 444.8 185.9 419.8 153.7 411.1 169.8 412.6 171.2 419.7 162.9 444.6 170.4 419.2 182.7 408.6 157.3 437.9 162.5 446.6 165.5 434.6 156.7 426.9 153.4 426.4 163.0 444.9 153.7 419.5 157.3 437.2 156.0 425.4 163.4 435.9 153.1 420.8 148.3 438.2 164.4 422.2 151.2 415.4 157.1 426.5 155.8 436.6 165.0 441.8 156.0 418.1 156.2 422.1 173.6 436.5 166.9 444.9 162.0 448.8 155.1 443.2 167.2 414.1 161.7 450.4 165.9 441.8 179.6 423.6 147.9 445.3 164.6 441.0 147.3 443.4 171.1 444.3 165.4 441.0 155.6 414.3 165.4 445.7 154.6 432.2 165.6 409.0 153.6 430.7 149.9 435.9 153.9 433.1 180.8 429.6 155.7 445.9 155.4 453.0 183.7 413.0" fill="none" stroke="none" marker-start="url(#mg)" marker-mid="url(#mg)" marker-end="url(#mg)"/>
<path d="M154.2 353.6 133.9 406.9 152.2 401.5 146.6 408.5 150.5 389.0 151.5 405.9 155.9 405.7 140.6 299.7 148.7 342.6 154.4 402.9 153.5 406.5 127.6 407.4 142.3 390.4 152.6 346.9 138.1 368.0 151.6 400.4 112.5 399.0 144.2 408.1 147.4 357.2 156.0 401.0 155.7 378.1 128.8 395.5 137.1 377.3 144.0 367.4 140.4 358.2 148.6 339.2 142.2 370.7 142.6 408.3 155.8 383.0 138.4 398.5 156.7 399.8 149.1 342.2 134.0 374.8 150.4 395.1 156.0 393.1 146.7 408.2 148.4 408.5 152.0 364.3 146.8 368.4 153.3 379.7 138.9 350.0 145.7 330.9 86.0 332.3 136.2 392.6 144.7 403.8 148.0 342.2 143.4 398.0 133.7 397.4 147.9 377.5 130.3 399.4 120.2 345.0 124.6 364.4 139.9 402.6 142.2 378.9 153.4 343.7 150.4 356.6 150.6 406.3 142.7 379.5 152.2 408.5 148.3 353.6 149.7 395.4 146.1 340.3 130.0 401.3 135.2 384.9 121.0 395.0 135.5 401.9 154.0 391.5 134.6 404.9 127.9 398.4 148.0 401.4 131.4 407.0 155.4 400.9 138.6 361.3 151.6 358.7 152.6 390.5 152.3 408.0 134.3 408.1 153.6 407.5 154.0 360.5 149.9 386.7 147.3 341.1 125.2 384.7 145.0 406.5 144.9 408.3 154.9 407.8 146.6 354.9 153.0 343.5 124.7 396.8 155.6 379.5 155.8 391.4 155.1 404.6 156.5 407.7 136.5 388.1 139.5 398.7 142.5 391.3 147.1 362.1 154.5 373.9 152.2 406.6 155.0 371.5 152.5 396.3 148.7 346.7 153.7 347.3 154.2 407.1 155.5 384.9 147.0 406.8 130.7 393.1 149.0 401.3 147.9 408.0 145.2 347.8 153.1 345.2 139.3 344.4 149.4 363.7 138.9 370.1 135.6 352.0 145.4 373.7 154.1 354.2 141.7 408.5 154.1 389.0 115.4 393.3 143.4 399.6 139.5 345.2 136.4 407.7 135.1 400.4 151.7 408.3 151.6 323.8 140.9 382.1 133.4 399.1 151.6 408.5 151.6 389.1 151.3 344.8 152.5 366.2 140.7 348.9 152.1 371.2 138.0 377.8 149.0 347.4 150.4 343.6 143.9 400.9 132.7 405.3 144.2 344.3 147.9 383.7 154.3 353.6 153.7 389.0 156.9 401.2 147.7 352.9 125.4 340.7 136.4 402.7 136.2 406.6 129.8 366.9 151.8 360.1 151.5 398.3 157.4 408.2 151.1 352.7 149.7 397.2 142.8 379.7 126.0 405.9 130.8 405.3 146.7 408.5 127.6 384.2 155.2 380.9 149.5 400.7 134.8 357.6 121.8 400.0 134.8 403.0 151.5 382.9 137.4 352.8 150.9 404.2 148.5 353.0 153.5 344.9 149.6 337.6 154.0 391.5 155.1 377.9 155.8 408.4 134.2 315.8 133.7 391.3 143.6 394.9 135.9 356.8 152.9 408.6 141.2 345.7 138.3 380.7 139.6 406.5 153.3 349.9 130.1 364.3 142.7 407.1 156.6 398.8 139.0 397.8 134.6 395.1 147.3 365.5 148.5 381.8 152.5 405.2 156.7 397.9 141.0 387.5 147.3 396.1 150.8 356.8 157.1 406.2 145.0 349.5 147.0 404.6 137.6 408.3 154.3 362.0 153.1 396.2 152.2 391.6 156.1 407.4 128.7 394.1 136.5 408.3 132.5 405.9 140.2 349.8 153.0 345.1 155.0 384.6 119.4 374.7 154.6 374.2 149.5 360.5 153.3 390.3 120.9 392.5 152.6 397.7 153.5 397.8 152.3 378.9 131.3 380.2 152.3 390.0 148.5 345.3 134.9 390.4 150.0 399.9 154.1 370.7 144.3 389.9 144.0 349.2 128.7 383.5 150.0 352.7 151.7 397.6 150.3 405.1 126.7 346.3 152.0 382.3 150.7 400.6 151.7 407.8 150.1 403.6 154.1 359.9 131.2 402.6 139.0 402.4 152.2 358.1 153.5 344.8 139.1 387.6 147.8 400.9 155.4 392.6 140.6 378.3 143.1 349.7 127.7 367.4 130.7 338.6 150.5 334.9 143.0 391.5 139.3 386.9 156.8 396.5 150.4 352.5 147.4 365.2 143.0 386.8 151.5 329.0 123.5 405.0 154.1 370.2 133.8 401.3 139.0 391.0 117.3 389.9 135.3 379.1 143.4 406.7 155.7 390.3 146.1 351.6 135.1 381.4 121.6 383.5 154.2 380.2 149.0 347.6 156.2 390.8 133.0 407.3 149.5 394.3 148.5 395.5 155.0 395.7 133.4 379.1 130.1 396.1 138.9 402.9 145.6 406.7 130.3 391.9 153.9 363.3 149.0 407.0 143.9 380.0 151.3 389.0 154.1 360.3 155.6 398.0 155.1 367.5 154.5 396.6 153.0 384.1 147.7 396.5 147.7 351.5 110.5 379.0 133.1 401.4 153.5 361.5 146.1 370.9 150.0 398.5 155.3 371.4 145.4 385.9 144.1 391.0 154.4 375.3 148.9 405.4 141.6 368.4 143.5 404.0 157.0 405.3 155.0 366.6 152.3 341.6 148.9 400.1 143.2 396.3 123.8 366.2 152.3 406.9 152.9 397.4 143.2 403.7 135.4 388.5 137.9 397.5 149.5 347.0 138.5 408.6 147.0 370.8 153.9 347.9 147.8 344.1 127.1 405.6 129.3 379.3 143.7 391.6 142.4 402.0 131.6 357.0 149.1 401.8 122.1 408.3 133.3 405.1 149.5 326.7 156.2 408.0 154.7 362.3 153.4 341.1 152.2 407.8 126.4 378.6 145.5 355.8 149.0 408.6 137.4 394.8 138.9 407.3 147.9 401.0 150.2 395.1 148.8 359.3 124.4 377.9 127.1 367.2 154.4 380.2 144.2 365.4 140.4 389.5 148.9 386.2 154.5 362.8 140.6 387.6 150.5 371.7 157.2 408.4 130.7 392.4 152.8 362.0 153.7 392.0 139.1 405.2 144.4 360.6 134.1 366.3 139.2 397.7 151.2 361.7 134.2 363.7 128.1 398.7 132.9 407.3 148.0 360.5 142.8 406.4 136.3 373.5 149.4 320.6 134.5 398.3 154.5 357.6 151.0 367.5 146.3 400.1 130.9 380.7 150.9 362.4 132.5 383.9 153.7 347.7 157.4 407.9 148.2 343.7 155.0 398.7 136.5 396.0 153.5 398.3 134.2 352.8 127.4 397.6 147.4 404.0 145.8 406.6 148.5 408.1 134.4 407.3 117.5 343.1 144.3 341.8 154.2 381.4 150.1 372.5 156.8 408.4 122.4 392.5 146.0 343.8 124.9 387.1 133.6 396.9 142.1 406.4 151.5 403.5 132.6 381.2 143.4 346.7 117.0 375.7 149.0 343.1 131.4 396.6 152.0 408.0 127.1 366.0 141.5 387.2 132.4 361.0 141.6 403.2 136.4 379.1 153.4 401.2 117.7 406.3 150.1 335.8 141.7 366.6 145.7 370.5 144.4 404.4 141.4 357.9 153.5 386.3 135.0 371.9 141.5 402.8 149.1 404.5 154.9 373.7 133.8 378.5 152.6 349.4 155.4 408.3 145.1 353.3 136.2 404.3 118.8 392.6 154.8 406.3 154.0 346.9 152.6 408.5 132.3 403.2 125.8 366.5 156.8 399.7 150.8 352.5 150.0 344.3 152.8 375.0 153.5 355.7 150.2 400.5 153.0 358.1 126.6 386.3 124.7 379.6 149.5 405.0 145.6 373.5 154.0 354.2 141.9 293.8 150.8 342.0 132.5 380.8 143.8 407.5 155.9 403.1 131.9 407.2 153.8 393.6 150.5 336.7 127.1 395.1 143.8 406.6 142.3 392.8 153.3 356.4 127.3 402.2 136.2 371.9 138.8 374.9 152.8 342.2 151.2 343.6 150.4 364.6 125.5 387.8 139.6 366.6 145.5 390.6 155.7 383.7 130.4 349.0 134.8 404.4 149.4 379.1 139.5 401.7 132.1 408.3 142.4 398.3 137.6 398.0 127.5 386.2 149.6 374.2 154.2 380.0 153.2 408.1 146.3 403.4 155.2 373.2 139.1 405.9 156.4 399.2 154.0 383.1 119.1 383.1 157.0 404.9 129.3 404.5 111.0 388.0 150.3 408.5 147.6 398.4 150.6 405.8 149.8 353.1 121.0 364.4 150.3 317.8 135.6 351.8 155.4 379.8 154.9 370.2 155.5 405.2 156.0 406.9 122.3 315.3 155.1 368.4 152.8 407.6 123.5 379.8 154.8 389.0 154.9 407.7 140.3 408.4 128.4 367.6 141.5 353.1 151.6 381.9 128.8 407.8 139.4 408.0 141.9 379.3 139.2 360.1 140.5 386.9 149.2 408.0 147.4 392.7 143.4 350.6 154.3 382.3 143.6 343.6 148.8 345.5 130.3 372.9 150.2 345.2 153.4 407.6 150.5 358.9 149.2 406.5 156.0 402.6 146.8 364.8 155.6 390.5 147.0 404.0 151.2 366.4 132.9 408.2 154.5 382.4 150.7 385.1 148.3 321.5 137.2 374.5 144.0 335.5 153.0 378.2 138.0 408.1 145.3 342.1 145.2 379.5 151.2 341.7 142.2 391.5 142.2 390.4 138.9 393.0 123.4 372.4 150.7 343.1 155.3 407.1 132.0 401.0 135.9 407.3 134.6 406.7 137.9 369.0 150.8 373.9 144.8 408.3 142.6 367.7 144.4 346.4 122.6 389.9 156.0 384.1 154.8 403.6 153.3 364.2 138.9 397.2 150.7 317.0 156.4 407.0 142.6 408.4 153.7 357.2 153.5 394.0 141.8 392.0 153.0 382.5 140.9 399.6 151.0 392.4 155.2 408.5 143.7 394.4 134.6 408.3 142.7 351.4 152.0 363.4 151.4 351.3 155.4 404.1 156.5 408.5 126.3 334.2 152.0 351.8 154.8 385.4 138.5 351.0 133.3 362.0 155.1 376.9 139.9 405.2 135.9 373.7 132.8 357.4 131.7 403.3 153.1 359.6 156.9 401.9 145.5 361.8 151.5 391.7 154.7 366.1 141.2 360.7 147.2 326.2 148.8 328.6 153.8 345.8 144.5 407.9 144.3 367.1 140.1 403.0 138.2 393.8 138.7 399.1 150.4 354.8 140.1 402.5 153.0 399.8 153.3 401.6 155.8 397.0 130.9 384.8 154.0 394.0 141.7 348.7 135.6 356.7 144.9 379.2 153.6 345.9 153.3 381.7 145.2 396.9 150.4 384.3 148.8 406.5 151.9 336.6 145.6 322.2 138.9 380.5 150.1 378.9 151.9 376.7 151.4 358.6 154.3 353.7 151.7 319.9 153.4 346.1 150.3 322.0 154.0 350.2 120.2 353.5 126.7 365.3 140.4 356.5 154.4 406.1 145.8 341.2 138.0 365.5 145.7 408.6 142.3 398.2 126.6 403.9 129.9 355.5 134.4 400.3 154.1 348.3 154.2 368.6 148.3 407.0 131.7 403.3 157.2 404.6 135.0 407.3 129.7 392.4 155.4 388.8 133.2 395.9 135.8 316.3 152.4 400.6 148.9 349.0 146.6 357.4 154.9 379.5 109.5 383.5 155.6 378.8 149.2 383.6 145.1 354.2 127.2 379.3 148.3 330.7 142.7 351.0 155.3 407.8 157.1 408.5 157.4 408.4 130.3 407.7 156.7 402.6 151.1 386.1 156.1 390.4 127.6 391.8 133.7 370.6 118.3 380.5 155.9 389.9 138.2 372.0 119.7 388.5 146.7 364.5 149.5 364.5 133.9 395.1 152.3 349.0 147.4 408.5 124.5 390.7 150.0 398.7 149.0 324.1 133.1 408.3 139.8 397.9 147.7 349.1 144.9 347.7 137.3 383.0 143.1 365.8 136.7 373.1 148.5 357.7 135.5 405.1 154.9 404.3 148.7 392.2 153.9 354.6 154.9 407.6 129.8 386.7 139.1 404.3 157.1 405.6 148.0 408.3 139.5 346.5 152.2 371.0 131.9 393.9 150.8 386.9 150.8 369.3 154.4 406.0 140.3 385.2 125.8 408.6 141.5 407.8 132.4 358.9 154.7 366.7 146.0 329.1 154.7 366.5 154.7 364.0 155.9 399.0 130.9 394.3 157.1 403.3 154.8 378.2 149.0 372.2 145.0 407.1 137.8 402.2 126.2 363.0 130.8 356.1 132.1 362.1 147.3 391.1 154.9 400.3 134.3 396.8 148.5 404.3 151.1 363.8 139.1 355.3 151.7 401.4 144.8 399.9 141.6 343.0 149.1 402.9 151.1 384.1 157.0 402.4 142.4 359.9 146.7 392.0 152.4 394.9 151.4 355.5 154.4 384.2 128.4 406.7 124.6 392.2 145.1 337.4 153.3 366.7 145.7 347.6 141.5 379.4 137.1 370.5 137.4 365.1 136.5 363.7 154.2 352.3 130.8 391.8 150.4 408.5 145.5 385.8 146.3 365.3 140.1 389.7 152.1 357.2 145.2 391.4 147.7 351.9 150.0 391.9 143.5 383.6 154.5 399.1 135.6 366.7 147.4 402.2 141.1 346.4 125.0 378.4 151.3 356.3 132.9 371.4 155.6 388.7 154.4 393.0 125.0 381.2 124.4 406.7 146.7 364.2 142.5 395.7 156.7 408.3 137.4 407.1 156.0 386.2 145.9 345.8 124.1 371.1 153.9 408.4 154.5 356.2 145.8 355.1 152.4 342.2 137.2 349.9 123.5 402.6 133.4 405.9 138.6 357.0 155.2 405.3 156.2 391.1 113.5 392.5 153.4 379.5 138.8 374.2 153.8 385.2 145.6 335.0 147.6 404.4 141.5 400.3 152.7 343.8 155.3 406.3 151.8 398.4 137.9 372.5 126.2 382.2 133.5 364.7 151.8 353.4 148.5 341.7 135.3 365.4 141.5 397.0 152.8 346.1 143.0 396.4 156.3 406.3 153.0 368.0 132.2 403.6 147.9 349.7 153.2 368.5 151.8 390.1 131.3 408.5 153.7 377.0 132.3 395.3 135.6 408.6 137.5 354.3 153.6 383.7 136.0 398.1 146.8 407.9 130.9 406.1 129.1 400.0 132.9 408.3 141.0 381.6 133.5 381.4 138.7 405.8 137.8 396.3" fill="none" stroke="none" marker-start="url(#mb)" marker-mid="url(#mb)" marker-end="url(#mb)"/>
<path d="M165.4 403.0 170.7 327.6 168.4 343.2 176.4 391.8 186.8 408.4 170.2 407.2 165.6 374.3 184.0 408.3 164.4 407.8 175.9 394.8 191.2 408.1 165.2 383.4 173.2 352.1 171.6 407.8 167.6 383.4 166.0 362.1 171.0 402.3 170.5 386.4 187.5 385.9 196.1 386.0 168.8 333.6 205.8 404.6 172.8 400.7 167.8 408.5 178.5 352.1 169.8 385.3 166.4 384.0 166.5 389.6 168.6 360.8 165.6 371.4 167.5 361.3 167.0 378.6 170.8 357.4 168.3 389.4 183.8 398.9 172.5 398.3 169.4 340.5 167.5 388.7 174.4 396.5 166.4 350.0 181.7 406.5 166.3 352.1 169.0 407.8 166.7 337.8 170.4 343.2 186.4 402.4 166.3 366.9 170.7 406.1 165.5 407.2 165.1 405.1 168.6 403.1 170.3 347.3 167.3 361.0 178.4 408.3 170.3 406.6 184.2 393.3 180.3 405.0 172.3 404.9 176.5 370.8 165.9 364.4 165.0 407.4 168.8 333.3 167.0 394.8 166.7 405.6 167.5 403.8 167.5 331.8 171.5 379.5 164.5 405.5 166.5 368.0 164.8 399.1 170.4 349.4 171.4 399.9 165.1 394.7 167.3 350.9 177.2 406.4 165.6 408.3 165.9 362.9 179.5 363.1 170.5 406.2 185.2 407.5 165.4 408.3 168.9 354.4 174.2 368.1 170.5 354.7 176.3 394.4 172.4 372.9 164.9 403.0 172.0 362.1 169.1 327.2 165.2 403.6 179.5 399.2 167.4 377.3 187.0 406.6 169.3 402.8 168.0 350.6 188.4 375.9 165.6 373.3 189.0 406.6 167.9 403.2 169.7 331.6 181.0 395.9 181.8 378.4 172.0 365.7 168.1 335.7 183.2 389.0 183.2 374.8 166.4 353.4 170.9 390.0 170.8 347.3 165.5 396.9 165.3 401.4 173.1 394.5 167.8 391.3 170.4 368.9 168.4 342.4 179.4 378.4 186.0 404.6 174.1 363.4 170.8 369.4 170.2 359.5 165.4 383.3 175.5 381.0 169.0 391.1 165.3 394.7 166.3 357.9 167.6 337.0 167.3 345.3 164.6 404.3 166.3 358.2 172.2 356.8 175.2 371.8 165.9 383.0 190.4 408.4 166.1 402.5 206.1 359.9 166.8 347.9 166.8 357.4 168.0 348.0 169.9 344.4 187.6 403.5 168.0 391.6 172.3 349.5 165.7 408.5 165.8 377.9 165.7 383.5 172.5 339.8 166.6 356.6 165.5 381.3 176.5 376.5 165.3 391.8 166.2 371.0 166.1 374.5 178.6 394.1 171.8 404.3 179.3 381.9 164.5 408.5 168.6 365.0 174.4 407.7 182.4 389.3 171.3 335.8 179.4 400.0 167.6 363.9 164.5 407.2 167.4 344.1 169.6 393.7 166.0 406.9 174.1 389.3 164.5 408.6 172.3 402.2 185.3 380.4 166.5 362.3 178.2 408.5 186.9 400.7 180.2 392.4 189.0 376.0 166.0 398.8 165.9 406.3 176.3 407.9 167.0 337.8 170.4 334.3 169.1 403.7 165.9 362.8 165.6 394.1 168.8 404.0 167.6 406.9 178.2 404.3 165.4 392.8 165.7 370.0 174.6 371.5 172.0 371.9 167.7 358.4 166.2 379.8 165.9 400.3 168.3 344.3 177.4 385.9 167.3 391.6 176.5 405.1 166.6 341.8 180.1 408.3 171.1 356.9 183.8 404.6 173.3 399.1 167.1 368.6 167.6 400.2 187.3 400.9 166.3 349.1 169.3 402.7 166.3 352.7 169.4 399.1 179.3 401.5 191.0 380.0 170.5 393.2 167.9 403.8 169.3 339.9 167.5 365.3 166.6 408.0 166.5 408.4 165.9 369.4 166.9 383.8 167.8 336.2 170.3 391.4 170.4 393.2 165.7 408.1 173.9 408.5 171.4 385.1 184.9 400.6 167.6 387.3 164.7 402.6 179.1 379.6 165.9 399.1 176.4 408.3 174.4 387.4 164.6 408.4 178.1 402.7 171.7 382.3 168.0 337.7 169.1 346.6 170.3 399.0 196.1 395.7 165.8 407.7 170.7 348.6 166.6 390.0 165.1 391.7 168.4 406.0 166.5 357.9 168.9 398.3 165.5 408.5 166.4 371.9 168.0 392.7 167.6 349.4 177.3 378.3 165.6 408.3 169.2 389.0 170.5 336.1 176.4 351.8 171.7 386.9 177.4 368.8 192.4 383.3 183.1 378.6 164.6 408.5 166.2 367.1 172.2 361.3 170.6 383.6 169.7 368.2 176.2 359.4 168.8 381.5 171.1 398.3 164.9 407.4 167.6 334.1 167.7 338.4 170.4 407.4 169.2 399.8 189.6 408.5 173.0 403.0 165.7 394.0 166.3 403.4 171.0 340.1 168.1 333.7 169.2 396.3 189.7 405.2 165.4 383.7 177.8 385.1 179.8 361.8 166.3 405.3 175.6 408.6 176.4 402.3 166.4 353.3 164.6 402.8 178.3 380.1 169.3 393.0 229.6 385.7 171.0 333.8 173.9 405.4 167.4 356.5 190.0 399.1 166.6 340.0 164.6 404.5 169.1 395.8 167.0 408.2 166.7 398.1 167.1 381.3 166.5 347.6 164.9 407.5 165.9 385.9 171.9 332.6 165.7 398.7 179.2 407.4 169.4 351.5 177.0 386.0 180.9 408.4 175.3 370.0 164.6 405.8 167.7 400.3 168.5 362.9 166.4 385.2 172.4 408.1 165.7 370.8 174.9 401.6 175.0 408.3 175.3 398.7 176.2 397.0 170.8 377.9 165.9 375.0 174.7 407.6 174.9 403.0 166.4 391.7 166.0 365.5 165.5 399.9 185.6 396.1 165.1 399.3 165.0 396.3 166.7 340.5 169.3 399.8 170.8 340.2 172.0 359.3 175.6 407.3 180.3 404.3 194.5 404.2 185.8 407.7 170.4 347.2 165.3 392.1 168.5 339.0 171.7 390.0 177.3 378.3 174.5 385.6 177.3 404.1 165.0 390.7 177.9 408.0 182.3 398.2 165.5 378.3 168.6 338.2 166.3 381.4 167.9 385.6 166.8 333.1 175.6 357.1 173.4 398.8 190.6 405.6 165.1 403.2 169.1 335.0 165.9 379.8 167.3 396.3 175.2 372.1 169.2 355.2 165.9 384.5 172.0 388.5 173.1 395.9 171.4 364.4 166.7 382.2 165.7 374.9 167.1 332.9 166.1 375.5 181.2 387.1 164.9 394.0 165.4 408.3 169.2 350.0 173.1 408.6 167.2 359.5 170.6 400.8 175.4 406.6 171.3 338.0 173.3 342.4 167.4 334.4 180.4 377.5 169.0 378.9 168.2 393.7 177.3 355.7 182.2 396.9 164.6 403.2 168.9 332.7 173.4 381.4 169.7 333.9 169.3 374.4 172.5 406.0 193.3 369.9 171.4 334.8 167.9 398.1 166.1 404.8 165.2 387.0 172.5 375.2 175.7 399.2 166.1 408.6 165.1 406.5 171.8 380.0 165.2 408.6 180.9 368.0 167.3 345.6 166.8 402.0 172.3 365.7 170.8 339.5 166.4 379.4 169.5 386.2 183.0 357.7 184.2 377.1 173.0 387.8 183.0 382.9 164.8 397.4 165.8 394.5 165.9 407.7 176.8 364.5 170.2 348.0 165.6 391.6 168.3 333.1 164.7 405.3 169.2 401.1 169.2 407.1 165.8 366.1 175.0 370.8 184.7 389.6 176.6 401.3 168.4 395.1 169.5 408.1 175.0 407.9 177.4 404.7 169.2 369.2 168.3 390.2 167.3 404.7 178.1 407.5 181.7 398.1 168.9 403.9 169.8 408.6 166.7 348.7 174.3 402.1 185.0 405.2 167.9 407.4 165.1 388.4 173.7 370.5 166.8 345.0 176.4 408.6 172.8 392.9 167.9 355.5 172.1 401.3 177.2 385.8 171.9 383.4 169.5 371.0 167.3 405.0 187.4 402.9 165.4 397.9 166.2 351.7 164.9 406.8 165.2 407.2 165.7 368.3 171.3 384.1 169.5 397.7 182.6 394.7 164.8 396.7 164.9 402.6 166.7 384.9 166.3 357.2 181.3 398.2 177.3 407.9 170.5 387.1 164.6 408.3 166.4 359.2 228.3 394.2 193.3 360.4 191.0 398.1 169.4 408.4 174.4 386.1 166.3 349.3 182.1 367.2 170.7 403.8 184.9 406.9 168.9 356.8 173.5 401.8 168.5 408.1 177.7 381.7 168.0 373.3 165.1 405.6 169.8 333.3 174.3 384.6 183.3 367.5 182.4 398.4 171.5 362.9 181.4 386.3 169.9 405.2 170.7 325.4 167.9 358.6 164.8 406.0 167.5 402.3 172.0 399.2 165.4 391.4 166.9 332.0 178.3 365.0 168.9 397.0 194.3 407.9 174.5 348.1 164.5 408.5 166.8 340.1 172.9 404.2 186.5 407.8 168.5 378.1 164.9 407.0 170.0 405.6 167.3 383.6 169.4 354.4 174.8 392.6 183.6 396.0 171.4 382.1 167.5 333.0 164.9 404.7 165.1 386.3 164.7 407.6 169.0 396.2 170.7 347.7 165.4 406.5 172.1 389.4 169.8 390.8 166.1 388.6 165.2 405.8 173.0 350.6 171.3 407.8 164.7 406.0 189.3 405.5 169.8 376.1 175.0 347.1 176.4 372.9 170.5 393.0 180.8 408.5 171.9 402.2 169.1 400.0 170.9 361.6 184.4 388.8 167.6 372.1 167.6 333.2 165.6 406.7 165.3 386.9 166.8 346.1 166.8 353.1 169.8 341.2 166.6 341.6 172.8 338.6 179.1 376.3 171.2 381.2 164.8 404.6 167.5 369.3 170.3 407.5 169.1 391.9 167.1 339.1 169.9 396.2 168.8 408.1 166.6 349.4 172.0 389.4 170.0 333.6 178.4 403.9 172.7 365.3 184.5 408.6 171.0 399.1 172.5 407.3 172.4 407.3 167.1 381.5 172.4 404.7 167.1 342.3 170.9 405.9 166.1 370.2 177.2 408.5 166.6 341.3 174.7 407.5 165.0 408.4 166.6 344.9 167.1 386.6 166.8 334.7 184.6 388.9 167.6 395.3 172.6 394.6 167.2 333.3 170.4 400.4 196.5 369.9 167.7 379.0 175.5 354.5 178.7 408.5 177.8 396.8 168.9 398.3 192.1 387.6 175.1 385.0 169.5 355.3 165.0 392.9 171.1 393.6 189.1 407.9 182.5 402.6 166.8 335.3 175.3 396.4 164.6 405.6 167.4 359.4 166.4 404.3 178.0 395.7 172.8 365.5 166.8 361.8 164.7 401.0 166.7 385.6 173.3 391.0 165.3 397.7 167.0 335.3 166.6 400.3 168.5 374.9 171.3 361.3 197.4 408.2 169.6 404.9 171.6 408.0 176.3 403.5 166.6 380.0 166.7 373.6 176.1 407.4 172.0 385.3 169.3 338.3 168.6 402.8 166.1 360.6 183.9 408.1 184.9 404.0 180.5 392.6 168.2 356.1 168.4 331.3 165.3 407.4 166.7 339.0 166.8 382.1 170.0 394.2 177.4 364.6 177.2 368.5 170.0 395.7 170.8 406.5 192.6 405.5 195.3 355.6 172.1 394.5 169.8 359.6 171.8 341.9 164.9 394.3 167.1 336.7 180.7 373.3 166.2 353.0 166.2 363.8 172.5 397.8 167.2 330.3 166.6 400.2 167.9 344.2 165.7 394.5 169.0 333.1 166.9 368.7 172.8 386.7 174.2 346.0 168.4 347.2 167.0 338.3 172.8 408.6 180.1 407.9 173.8 392.5 170.5 351.2 165.6 402.5 169.5 389.4 178.0 399.2 184.6 376.5 166.6 408.6 167.8 374.9 164.5 408.3 166.6 344.3 166.1 374.6 166.9 332.6 166.1 358.9 175.0 295.4 166.9 335.2 179.6 366.9 175.9 400.5 180.9 401.1 175.5 375.5 186.5 325.4 173.8 362.0 164.5 408.1 174.7 388.8 166.1 354.7 167.1 366.3 171.0 381.6 168.6 365.7 168.3 405.4 170.7 337.7 168.0 334.0 166.4 353.1 174.9 403.1 170.0 341.5 176.3 386.0 181.2 402.6 170.2 373.1 172.0 405.4 171.5 330.0 178.9 352.7 165.8 384.2 164.8 402.7 165.0 392.4 168.7 406.3 167.5 337.8 167.6 391.6 168.8 350.8 165.9 399.7 169.5 394.7 186.1 402.7 173.1 400.6 168.4 337.6 164.9 401.1 168.1 338.1 182.4 404.5 168.5 333.3 180.0 405.9 188.1 370.4 168.1 407.4 166.6 340.6 166.0 401.0 169.4 406.0 169.1 390.4 168.2 330.6 167.9 367.6 201.3 406.1 166.0 359.3 177.5 379.4 166.2 369.6 176.0 408.4 171.5 388.0 174.1 395.0 169.9 408.5 165.8 365.3 173.1 408.5 167.6 401.0 169.4 408.0 173.6 403.9 164.5 407.9" fill="none" stroke="none" marker-start="url(#mr)" marker-mid="url(#mr)" marker-end="url(#mr)"/>
<line x1="143.5" y1="286.1" x2="142.3" y2="291.9" stroke="#333" stroke-width="0.55"/>
<text x="128.3" y="285.1" font-size="7.4" fill="#222" font-style="italic" textLength="31.8" lengthAdjust="spacingAndGlyphs" stroke="#222" stroke-width="0.22">C19orf48</text>
<line x1="131.2" y1="297.8" x2="138.7" y2="299.3" stroke="#333" stroke-width="0.55"/>
<text x="104.7" y="297.5" font-size="7.4" fill="#222" font-style="italic" textLength="25.5" lengthAdjust="spacingAndGlyphs" stroke="#222" stroke-width="0.22">CBWD6</text>
<line x1="111.0" y1="310.5" x2="120.6" y2="314.6" stroke="#333" stroke-width="0.55"/>
<text x="86.5" y="309.5" font-size="7.4" fill="#222" font-style="italic" textLength="32.1" lengthAdjust="spacingAndGlyphs" stroke="#222" stroke-width="0.22">ATP6V1B1</text>
<line x1="147.5" y1="309.7" x2="149.9" y2="315.3" stroke="#333" stroke-width="0.55"/>
<text x="132.3" y="308.7" font-size="7.4" fill="#222" font-style="italic" textLength="27.3" lengthAdjust="spacingAndGlyphs" stroke="#222" stroke-width="0.22">ANP32B</text>
<line x1="82.8" y1="327.4" x2="85.0" y2="330.7" stroke="#333" stroke-width="0.55"/>
<text x="66.4" y="326.4" font-size="7.4" fill="#222" font-style="italic" textLength="28.1" lengthAdjust="spacingAndGlyphs" stroke="#222" stroke-width="0.22">MYBPC1</text>
<line x1="128.1" y1="320.7" x2="132.7" y2="317.0" stroke="#333" stroke-width="0.55"/>
<text x="111.4" y="326.9" font-size="7.4" fill="#222" font-style="italic" textLength="24.4" lengthAdjust="spacingAndGlyphs" stroke="#222" stroke-width="0.22">BCL11A</text>
<line x1="110.8" y1="337.8" x2="116.0" y2="341.9" stroke="#333" stroke-width="0.55"/>
<text x="97.0" y="336.8" font-size="7.4" fill="#222" font-style="italic" textLength="18.7" lengthAdjust="spacingAndGlyphs" stroke="#222" stroke-width="0.22">UGT8</text>
<line x1="109.2" y1="345.4" x2="118.3" y2="345.1" stroke="#333" stroke-width="0.55"/>
<text x="76.1" y="348.6" font-size="7.4" fill="#222" font-style="italic" textLength="32.1" lengthAdjust="spacingAndGlyphs" stroke="#222" stroke-width="0.22">TMPRSS5</text>
<line x1="116.4" y1="357.5" x2="138.1" y2="361.6" stroke="#333" stroke-width="0.55"/>
<text x="84.1" y="356.9" font-size="7.4" fill="#2626ff" font-style="italic" textLength="31.3" lengthAdjust="spacingAndGlyphs" stroke="#2626ff" stroke-width="0.22">TMSB15B</text>
<line x1="118.0" y1="366.7" x2="125.2" y2="367.1" stroke="#333" stroke-width="0.55"/>
<text x="88.9" y="368.6" font-size="7.4" fill="#2626ff" font-style="italic" textLength="28.1" lengthAdjust="spacingAndGlyphs" stroke="#2626ff" stroke-width="0.22">VANGL2</text>
<line x1="108.1" y1="377.0" x2="126.1" y2="377.9" stroke="#333" stroke-width="0.55"/>
<text x="72.9" y="378.6" font-size="7.4" fill="#2626ff" font-style="italic" textLength="34.2" lengthAdjust="spacingAndGlyphs" stroke="#2626ff" stroke-width="0.22">SERPINB5</text>
<line x1="106.0" y1="383.5" x2="113.2" y2="381.5" stroke="#333" stroke-width="0.55"/>
<text x="92.9" y="388.0" font-size="7.4" fill="#2626ff" font-style="italic" textLength="12.1" lengthAdjust="spacingAndGlyphs" stroke="#2626ff" stroke-width="0.22">MIA</text>
<line x1="107.0" y1="391.4" x2="121.2" y2="385.7" stroke="#333" stroke-width="0.55"/>
<text x="87.8" y="397.6" font-size="7.4" fill="#2626ff" font-style="italic" textLength="20.4" lengthAdjust="spacingAndGlyphs" stroke="#2626ff" stroke-width="0.22">VGLL1</text>
<line x1="114.0" y1="405.0" x2="120.1" y2="405.0" stroke="#333" stroke-width="0.55"/>
<text x="84.1" y="407.6" font-size="7.4" fill="#2626ff" font-style="italic" textLength="28.9" lengthAdjust="spacingAndGlyphs" stroke="#2626ff" stroke-width="0.22">CALML3</text>
<line x1="119.3" y1="411.3" x2="123.1" y2="410.4" stroke="#333" stroke-width="0.55"/>
<text x="94.5" y="416.9" font-size="7.4" fill="#2626ff" font-style="italic" textLength="23.8" lengthAdjust="spacingAndGlyphs" stroke="#2626ff" stroke-width="0.22">ACTG2</text>
<line x1="181.4" y1="291.7" x2="176.6" y2="294.4" stroke="#333" stroke-width="0.55"/>
<text x="176.6" y="290.7" font-size="7.4" fill="#222" font-style="italic" textLength="22.0" lengthAdjust="spacingAndGlyphs" stroke="#222" stroke-width="0.22">PLBD2</text>
<line x1="197.0" y1="319.4" x2="188.2" y2="324.5" stroke="#333" stroke-width="0.55"/>
<text x="190.0" y="318.4" font-size="7.4" fill="#222" font-style="italic" textLength="26.7" lengthAdjust="spacingAndGlyphs" stroke="#222" stroke-width="0.22">ATP8B3</text>
<line x1="202.0" y1="349.4" x2="196.7" y2="354.3" stroke="#333" stroke-width="0.55"/>
<text x="190.0" y="348.4" font-size="7.4" fill="#222" font-style="italic" textLength="31.8" lengthAdjust="spacingAndGlyphs" stroke="#222" stroke-width="0.22">RANBP3L</text>
<line x1="214.0" y1="359.5" x2="208.0" y2="359.8" stroke="#333" stroke-width="0.55"/>
<text x="215.0" y="361.7" font-size="7.4" fill="#ff2020" font-style="italic" textLength="18.1" lengthAdjust="spacingAndGlyphs" stroke="#ff2020" stroke-width="0.22">EPYC</text>
<line x1="204.8" y1="369.3" x2="198.4" y2="369.8" stroke="#333" stroke-width="0.55"/>
<text x="205.8" y="371.4" font-size="7.4" fill="#222" font-style="italic" textLength="13.6" lengthAdjust="spacingAndGlyphs" stroke="#222" stroke-width="0.22">WT1</text>
<line x1="192.7" y1="379.2" x2="190.9" y2="379.6" stroke="#333" stroke-width="0.55"/>
<text x="193.7" y="379.4" font-size="7.4" fill="#222" font-style="italic" textLength="18.8" lengthAdjust="spacingAndGlyphs" stroke="#222" stroke-width="0.22">TDO2</text>
<line x1="236.9" y1="379.6" x2="231.1" y2="384.5" stroke="#333" stroke-width="0.55"/>
<text x="225.9" y="378.6" font-size="7.4" fill="#222" font-style="italic" textLength="30.5" lengthAdjust="spacingAndGlyphs" stroke="#222" stroke-width="0.22">MAGEA3</text>
<line x1="199.1" y1="402.9" x2="196.3" y2="403.7" stroke="#333" stroke-width="0.55"/>
<text x="199.4" y="401.9" font-size="7.4" fill="#222" font-style="italic" textLength="24.9" lengthAdjust="spacingAndGlyphs" stroke="#222" stroke-width="0.22">MMP13</text>
<line x1="240.3" y1="399.8" x2="230.0" y2="395.0" stroke="#333" stroke-width="0.55"/>
<text x="233.1" y="406.0" font-size="7.4" fill="#222" font-style="italic" textLength="29.7" lengthAdjust="spacingAndGlyphs" stroke="#222" stroke-width="0.22">MAGEA6</text>
<line x1="211.6" y1="411.3" x2="187.7" y2="398.9" stroke="#333" stroke-width="0.55"/>
<text x="202.1" y="417.5" font-size="7.4" fill="#ff2020" font-style="italic" textLength="32.9" lengthAdjust="spacingAndGlyphs" stroke="#ff2020" stroke-width="0.22">SERPINA1</text>
<text x="65.7" y="275.1" font-size="11.2" fill="#222" textLength="27.4" lengthAdjust="spacingAndGlyphs">TCGA</text>
<rect x="56.9" y="508.4" width="206.4" height="205.8" fill="none" stroke="#444" stroke-width="0.9"/>
<line x1="51.9" y1="705.4" x2="56.9" y2="705.4" stroke="#444" stroke-width="0.9"/>
<text x="40.9" y="708.8" font-size="10.6" fill="#333" textLength="5.5" lengthAdjust="spacingAndGlyphs">0</text>
<line x1="51.9" y1="662.5" x2="56.9" y2="662.5" stroke="#444" stroke-width="0.9"/>
<text x="40.9" y="665.9" font-size="10.6" fill="#333" textLength="5.5" lengthAdjust="spacingAndGlyphs">5</text>
<line x1="51.9" y1="619.6" x2="56.9" y2="619.6" stroke="#444" stroke-width="0.9"/>
<text x="35.4" y="623.0" font-size="10.6" fill="#333" textLength="11.0" lengthAdjust="spacingAndGlyphs">10</text>
<line x1="51.9" y1="576.7" x2="56.9" y2="576.7" stroke="#444" stroke-width="0.9"/>
<text x="35.4" y="580.1" font-size="10.6" fill="#333" textLength="11.0" lengthAdjust="spacingAndGlyphs">15</text>
<line x1="51.9" y1="533.8" x2="56.9" y2="533.8" stroke="#444" stroke-width="0.9"/>
<text x="35.4" y="537.2" font-size="10.6" fill="#333" textLength="11.0" lengthAdjust="spacingAndGlyphs">20</text>
<line x1="104.3" y1="714.2" x2="104.3" y2="719.2" stroke="#444" stroke-width="0.9"/>
<text x="98.6" y="730.9" font-size="10.6" fill="#333" textLength="11.3" lengthAdjust="spacingAndGlyphs">−1</text>
<line x1="159.9" y1="714.2" x2="159.9" y2="719.2" stroke="#444" stroke-width="0.9"/>
<text x="157.1" y="730.9" font-size="10.6" fill="#333" textLength="5.5" lengthAdjust="spacingAndGlyphs">0</text>
<line x1="215.5" y1="714.2" x2="215.5" y2="719.2" stroke="#444" stroke-width="0.9"/>
<text x="212.7" y="730.9" font-size="10.6" fill="#333" textLength="5.5" lengthAdjust="spacingAndGlyphs">1</text>
<path d="M139.4 698.1 160.1 704.9 177.6 701.3 144.7 698.9 165.5 703.0 144.7 699.6 187.0 696.1 166.8 703.1 161.1 703.8 153.6 702.2 137.8 695.5 163.7 705.4 142.2 696.6 144.0 699.6 186.1 695.5 174.4 702.4 138.3 697.9 141.8 697.1 155.4 704.6 153.3 702.6 133.3 692.1 188.4 697.1 162.2 704.9 165.8 705.1 142.1 697.7 185.5 698.3 148.9 701.3 177.2 700.0 168.9 703.5 187.8 699.1 185.7 698.3 159.8 705.3 181.9 698.6 176.6 700.1 179.6 699.0 148.0 701.6 136.5 695.6 186.9 696.4 145.3 699.1 173.2 701.3 177.8 699.1 166.3 705.1 181.1 699.7 146.8 700.8 170.6 702.5 164.0 705.3 165.6 704.4 186.2 696.5 136.6 695.3 158.1 703.6 169.6 702.5 149.8 702.6 141.3 697.3 172.0 702.5 171.1 701.1 176.8 699.6 134.1 694.4 173.4 702.2 149.3 700.9 148.5 701.1 159.5 704.8 136.1 696.4 173.3 701.0 171.3 703.5 132.6 693.5 153.9 703.9 137.4 695.5 177.2 700.0 167.1 702.6 156.5 705.4 154.5 703.8 157.4 704.4 177.3 700.2 145.3 700.5 167.4 703.3 158.8 705.1 181.3 698.2 173.4 702.1 170.8 702.7 184.8 698.8 178.1 697.4 132.0 692.8 154.4 702.9 137.5 695.6 174.0 702.0 185.7 697.1 149.4 703.1 145.9 699.7 145.3 699.9 171.4 702.4 148.4 702.3 158.4 705.2 147.9 700.5 148.7 699.9 131.2 692.7 171.8 701.3 132.4 694.7 144.9 698.7 137.3 695.8 183.0 698.7 175.8 700.1 134.6 693.6 164.4 704.6 179.0 697.9 131.8 693.2 181.6 698.3 142.4 696.8 165.4 704.7 177.8 700.8 152.5 703.1 182.6 698.2 160.1 705.4 146.7 700.4 158.5 705.3 141.3 695.8 162.8 705.2 173.0 702.2 179.1 699.8 151.1 703.9 140.1 698.1 139.1 696.6 182.9 698.4 175.4 700.0 183.4 697.2 184.9 695.9 132.6 693.4 164.9 704.0 139.9 696.6 184.8 697.8 161.7 704.6 182.3 698.9 155.4 703.4 178.4 700.4 133.1 694.2 132.0 693.5 136.7 694.9 182.7 698.8 145.4 700.9 174.4 701.0 146.0 700.9 160.3 705.4 157.9 703.3 163.6 703.9 173.2 701.0 153.8 702.4 163.3 704.9 143.7 698.4 178.0 700.4 151.5 702.7 158.4 705.3 164.0 704.8 174.9 701.9 174.4 700.3 141.0 697.6 136.6 695.3 138.9 696.7 171.0 702.9 143.0 700.2 142.9 699.5 168.9 703.7 139.6 695.7 156.1 702.8 169.0 701.8 165.7 705.2 187.5 697.7 168.3 704.1 173.9 701.9 162.1 705.0 131.4 693.6 143.2 700.2 136.0 695.7 177.9 700.8 143.6 698.6 138.6 698.4 144.4 698.5 138.5 697.3 141.7 699.1 137.0 695.1 137.6 695.2 178.1 701.3 132.2 692.9 184.9 698.9 133.0 695.3 175.3 701.5 185.6 695.7 174.9 701.1 141.5 698.3 169.9 704.4 134.4 694.2 148.4 701.7 140.0 697.3 169.5 703.7 152.0 702.6 170.3 703.2 163.6 705.2 160.3 705.3 141.3 697.5 142.7 698.1 182.3 699.6 143.6 700.1 173.4 702.5 146.3 702.2 171.1 703.3 182.1 698.2 169.0 702.6 186.3 696.3 189.3 696.4 188.2 696.1 167.8 703.8 176.0 701.6 175.4 699.4 178.5 698.9 171.4 704.6 169.4 704.4 148.6 700.7 138.9 696.4 157.0 704.8 168.4 702.7 148.5 702.6 155.7 705.1 138.7 696.9 179.2 699.0 168.3 704.2 180.5 698.9 186.1 698.1 179.8 700.3 131.6 692.7 151.2 702.5 178.4 699.8 161.7 703.8 168.2 703.1 136.3 694.9 146.4 700.0 175.7 699.7 173.9 701.8 149.3 703.1 189.7 694.1 184.4 699.1 177.4 700.3 186.5 695.0 134.9 695.3 184.5 697.5 136.7 695.8 133.2 693.5 167.5 703.8 185.8 696.2 165.0 705.3 154.5 705.1 143.1 698.7 144.8 697.7 140.6 698.1 146.9 701.0 137.6 696.4 136.1 694.7 152.3 702.9 169.3 704.6 171.7 703.1 173.8 702.9 167.3 703.0 169.7 701.9 184.1 697.0 145.5 700.5 162.6 705.1 180.1 699.8 139.8 696.7 142.4 700.0 159.8 704.8 177.1 700.7 154.1 704.7 145.3 700.7 132.7 693.0 140.1 699.9 183.7 698.7 158.5 705.0 135.1 694.8 150.8 702.7 170.1 702.2 143.0 699.0 143.6 699.4 164.2 704.4 135.4 693.5 157.9 704.5 141.7 699.0 157.9 704.5 141.1 699.3 158.1 705.1 150.3 702.8 161.1 705.1 151.0 701.7 168.3 704.7 159.3 704.0 152.0 703.8 162.1 705.2 160.2 705.4 152.8 704.6 174.0 700.0 154.6 704.2 176.3 700.7 159.8 705.3 153.8 703.9 176.5 701.4 185.4 696.7 150.6 702.6 148.1 703.0 137.4 695.5 183.2 697.2 176.6 699.8 145.6 699.5 138.5 698.7 141.9 699.4 186.8 697.7 182.8 698.2 178.8 702.1 186.7 697.7 144.7 699.5 140.4 697.8 164.8 705.3 163.5 704.0 136.0 696.0 187.5 695.1 180.2 699.7 153.8 703.9 158.5 705.3 163.8 703.4 162.5 705.4 170.0 702.7 165.7 704.6 133.2 694.0 173.4 701.2 140.9 697.1 180.7 700.2 176.6 699.9 169.7 702.2 151.3 704.1 145.6 701.3 181.4 699.3 144.3 698.6 166.9 704.7 140.3 698.6 145.7 699.9 146.4 699.2 170.9 702.8 169.6 702.9 181.9 699.9 139.2 697.1 187.0 697.2 142.5 698.6 180.9 700.0 182.7 698.9 167.4 704.3 168.8 703.6 130.8 693.5 178.3 699.7 157.0 705.1 161.5 705.1 138.8 696.4 133.7 695.8 187.9 697.0 185.3 697.5 145.5 701.3 136.0 695.2 152.1 701.9 155.3 704.8 177.8 702.5 177.1 700.3 166.5 704.2 180.8 698.1 179.8 701.8 158.3 704.8 152.2 704.7 160.3 705.0 169.1 702.5 132.2 693.0 149.4 700.4 140.4 697.8 141.2 699.5 134.6 695.3 167.0 703.6 134.9 694.1 167.3 703.1 184.5 697.7 180.0 698.3 169.5 704.2 148.1 702.6 187.8 696.1 141.9 698.5 173.5 702.1 158.3 705.2 156.0 704.0 182.3 698.9 134.3 695.8 150.2 702.9 135.6 694.8 157.1 705.1 181.6 700.4 139.5 698.1 179.9 699.2 178.6 700.7 137.4 696.0 174.6 700.5 165.8 704.5 156.6 705.1 188.1 697.1 148.0 701.5 180.7 698.5 165.6 704.9 159.3 704.6 155.3 704.4 154.4 704.5 163.9 704.5 160.8 705.2 176.9 699.9 186.4 697.8 156.3 703.0 177.9 700.4 141.6 699.4 134.8 691.7 150.8 701.4 135.7 695.1 166.2 703.5" fill="none" stroke="none" marker-start="url(#mg)" marker-mid="url(#mg)" marker-end="url(#mg)"/>
<path d="M134.3 690.6 126.4 664.5 139.2 683.0 130.6 665.4 130.1 690.2 132.6 683.7 123.9 660.9 148.7 689.4 133.1 662.8 136.3 673.6 138.2 676.6 134.3 684.2 124.2 669.9 134.0 687.1 140.6 687.1 129.1 659.0 99.0 677.7 137.6 690.4 136.9 690.2 135.1 674.2 141.0 681.9 95.3 672.1 139.5 685.5 108.7 641.6 136.8 663.7 145.6 690.8 103.9 636.6 133.5 658.9 133.4 678.9 132.6 688.3 138.1 690.2 138.8 679.5 128.0 664.7 139.4 678.8 129.3 665.1 131.7 683.9 133.5 666.3 125.4 648.3 129.6 668.3 127.3 684.6 133.6 689.8 118.6 632.0 142.6 692.4 141.2 688.5 144.2 693.2 138.1 681.1 141.5 685.2 132.5 669.8 128.5 690.5 133.7 671.3 143.5 697.4 134.9 667.2 145.3 684.8 140.3 685.2 129.1 653.1 129.3 679.2 129.1 660.4 87.0 629.0 137.0 676.2 140.6 678.7 142.0 691.6 133.4 684.2 134.3 691.6 127.9 659.7 129.1 668.3 142.5 695.2 136.5 681.1 138.3 675.7 135.3 662.4 134.3 664.0 133.4 674.0 101.8 631.0 129.5 666.4 124.3 669.2 141.2 687.4 126.6 668.1 125.3 663.4 133.2 691.8 133.3 672.8 127.1 642.4 133.9 672.5 134.5 656.0 134.1 684.2 129.4 666.0 141.4 682.4 104.7 577.7 133.2 659.2 119.9 656.8 140.0 693.4 119.4 676.9 121.8 649.1 81.7 614.3 130.2 670.7 123.4 674.0 119.4 636.3 119.1 625.0 125.6 673.6 124.3 693.8 140.6 686.2 136.5 676.4 126.7 663.0 114.1 614.3 139.6 692.3 140.5 683.6 125.1 693.0 117.0 669.2 136.4 677.5 123.7 662.5 129.9 666.7 114.1 670.5 139.6 688.9 125.7 671.5 132.0 664.5 130.5 692.5 116.2 673.7 132.7 667.4 133.4 671.8 125.1 662.1 143.9 694.8 108.2 625.0 143.1 692.9 138.3 696.2 145.1 692.8 142.6 692.9 136.0 673.8 144.2 687.7 142.9 691.2 101.0 642.2 92.9 607.7 128.1 657.9 138.7 680.3 132.7 667.1 143.2 690.0 122.3 655.6 124.3 687.4 126.7 686.6 138.0 678.5 134.2 668.7 110.6 676.1 132.9 677.2 140.7 687.3 139.3 687.8 123.4 642.4" fill="none" stroke="none" marker-start="url(#mb)" marker-mid="url(#mb)" marker-end="url(#mb)"/>
<path d="M220.5 669.2 182.8 677.7 197.3 691.2 178.5 694.1 193.9 656.0 185.0 682.9 187.9 672.2 186.9 682.0 195.3 682.3 173.7 691.3 185.1 689.1 187.7 677.5 177.4 691.5 176.7 685.6 182.5 684.0 178.4 685.3 180.5 690.0 188.3 682.7 205.1 665.1 178.9 686.4 187.6 674.9 189.4 674.5 192.1 687.7 213.8 617.3 195.1 675.0 186.3 676.4 178.5 687.8 190.9 677.5 180.9 693.9 177.0 686.6 182.6 684.9 183.9 671.9 183.4 674.9 200.5 678.0 184.1 684.6 186.1 680.7 188.8 675.1 181.6 689.2 182.7 686.1 177.2 692.5 196.4 671.8 176.0 690.1 201.5 663.1 190.7 680.4 184.2 674.9 199.5 684.8 186.4 662.1 189.2 677.8 186.3 683.0 200.9 673.5 192.3 667.1 193.0 664.8 189.4 676.5 232.3 672.2 194.7 657.6 198.5 661.3 181.0 691.0 191.7 676.4 223.9 656.7 187.1 687.2 188.8 679.1 181.9 677.3 182.5 688.4 184.1 672.4 175.4 693.6 239.8 522.2 176.1 688.6 186.5 674.4 195.4 680.6 188.1 682.6 194.6 670.9 196.7 654.1 192.8 660.8 204.1 650.4 175.6 687.9 182.1 675.7 191.3 665.9 195.3 687.0 185.7 683.1 212.1 681.1 193.5 666.2 180.8 684.7 192.6 675.1 198.7 647.8 179.5 688.6 189.6 678.0 186.2 678.4 180.2 691.6 191.6 665.3 183.4 688.5 205.7 685.6 188.3 666.0 187.2 673.7 177.3 684.6 199.0 670.5 189.9 665.8 184.3 688.1 183.9 692.8 192.3 665.0 178.0 692.2 201.2 650.0 191.3 668.7 181.7 686.1 194.3 662.0 190.9 662.4 194.3 664.1 190.0 676.3 196.2 670.9 202.0 688.0 179.4 687.0 188.4 679.4 180.3 689.3 190.4 669.8 192.3 666.5 183.3 685.7 192.6 662.8 185.5 667.2 191.4 669.6 193.9 671.4 175.8 692.0 186.9 675.8 203.4 675.5 178.7 691.3 207.3 662.0 186.6 687.7 179.9 681.1 184.4 683.9 190.1 674.3 190.7 674.4 174.7 693.5 192.7 661.8 190.9 674.2 207.4 675.0 184.0 694.4 185.2 685.4 207.9 682.8 187.1 675.2 208.3 630.2 177.1 689.8 192.7 668.4 199.7 634.9 186.3 684.6 220.2 645.7 179.8 686.5 194.6 679.3 187.0 671.9 198.7 653.7 186.3 675.9 193.8 659.4 186.6 680.2" fill="none" stroke="none" marker-start="url(#mr)" marker-mid="url(#mr)" marker-end="url(#mr)"/>
<line x1="100.2" y1="569.7" x2="103.8" y2="576.0" stroke="#333" stroke-width="0.55"/>
<text x="83.3" y="568.7" font-size="7.4" fill="#2626ff" font-style="italic" textLength="29.7" lengthAdjust="spacingAndGlyphs" stroke="#2626ff" stroke-width="0.22">COL17A1</text>
<line x1="87.1" y1="598.6" x2="91.9" y2="606.1" stroke="#333" stroke-width="0.55"/>
<text x="74.5" y="597.6" font-size="7.4" fill="#2626ff" font-style="italic" textLength="20.5" lengthAdjust="spacingAndGlyphs" stroke="#2626ff" stroke-width="0.22">KRT17</text>
<line x1="77.0" y1="609.0" x2="80.4" y2="612.9" stroke="#333" stroke-width="0.55"/>
<text x="60.0" y="608.0" font-size="7.4" fill="#2626ff" font-style="italic" textLength="27.8" lengthAdjust="spacingAndGlyphs" stroke="#2626ff" stroke-width="0.22">TUBA3D</text>
<line x1="123.5" y1="605.8" x2="115.5" y2="613.0" stroke="#333" stroke-width="0.55"/>
<text x="113.0" y="604.8" font-size="7.4" fill="#2626ff" font-style="italic" textLength="28.9" lengthAdjust="spacingAndGlyphs" stroke="#2626ff" stroke-width="0.22">C2orf40</text>
<line x1="101.7" y1="617.9" x2="106.9" y2="623.6" stroke="#333" stroke-width="0.55"/>
<text x="88.1" y="616.9" font-size="7.4" fill="#2626ff" font-style="italic" textLength="20.6" lengthAdjust="spacingAndGlyphs" stroke="#2626ff" stroke-width="0.22">KRT14</text>
<line x1="126.8" y1="614.7" x2="120.2" y2="623.5" stroke="#333" stroke-width="0.55"/>
<text x="121.0" y="613.7" font-size="7.4" fill="#2626ff" font-style="italic" textLength="16.9" lengthAdjust="spacingAndGlyphs" stroke="#2626ff" stroke-width="0.22">KLK5</text>
<line x1="95.4" y1="625.1" x2="100.4" y2="629.7" stroke="#333" stroke-width="0.55"/>
<text x="79.3" y="624.1" font-size="7.4" fill="#2626ff" font-style="italic" textLength="24.4" lengthAdjust="spacingAndGlyphs" stroke="#2626ff" stroke-width="0.22">ACTG2</text>
<line x1="132.2" y1="623.8" x2="120.8" y2="635.0" stroke="#333" stroke-width="0.55"/>
<text x="123.8" y="622.8" font-size="7.4" fill="#2626ff" font-style="italic" textLength="24.1" lengthAdjust="spacingAndGlyphs" stroke="#2626ff" stroke-width="0.22">GABRP</text>
<line x1="74.7" y1="628.5" x2="85.1" y2="628.9" stroke="#333" stroke-width="0.55"/>
<text x="63.7" y="630.9" font-size="7.4" fill="#2626ff" font-style="italic" textLength="10.0" lengthAdjust="spacingAndGlyphs" stroke="#2626ff" stroke-width="0.22">IGJ</text>
<line x1="131.6" y1="631.9" x2="124.6" y2="640.9" stroke="#333" stroke-width="0.55"/>
<text x="125.4" y="630.9" font-size="7.4" fill="#2626ff" font-style="italic" textLength="18.1" lengthAdjust="spacingAndGlyphs" stroke="#2626ff" stroke-width="0.22">GAS1</text>
<line x1="147.7" y1="634.3" x2="128.9" y2="641.7" stroke="#333" stroke-width="0.55"/>
<text x="145.6" y="633.3" font-size="7.4" fill="#2626ff" font-style="italic" textLength="22.4" lengthAdjust="spacingAndGlyphs" stroke="#2626ff" stroke-width="0.22">TAGLN</text>
<line x1="96.3" y1="635.6" x2="102.0" y2="636.4" stroke="#333" stroke-width="0.55"/>
<text x="75.0" y="636.8" font-size="7.4" fill="#2626ff" font-style="italic" textLength="20.3" lengthAdjust="spacingAndGlyphs" stroke="#2626ff" stroke-width="0.22">SFRP1</text>
<line x1="96.0" y1="641.3" x2="106.8" y2="641.6" stroke="#333" stroke-width="0.55"/>
<text x="72.9" y="643.7" font-size="7.4" fill="#2626ff" font-style="italic" textLength="22.1" lengthAdjust="spacingAndGlyphs" stroke="#2626ff" stroke-width="0.22">KRT6B</text>
<line x1="140.5" y1="642.6" x2="127.2" y2="647.6" stroke="#333" stroke-width="0.55"/>
<text x="137.9" y="641.6" font-size="7.4" fill="#2626ff" font-style="italic" textLength="24.1" lengthAdjust="spacingAndGlyphs" stroke="#2626ff" stroke-width="0.22">OLFM4</text>
<line x1="91.6" y1="645.0" x2="99.2" y2="642.7" stroke="#333" stroke-width="0.55"/>
<text x="66.0" y="651.2" font-size="7.4" fill="#2626ff" font-style="italic" textLength="27.3" lengthAdjust="spacingAndGlyphs" stroke="#2626ff" stroke-width="0.22">MYBPC1</text>
<line x1="118.0" y1="649.7" x2="119.9" y2="649.4" stroke="#333" stroke-width="0.55"/>
<text x="97.0" y="654.1" font-size="7.4" fill="#2626ff" font-style="italic" textLength="20.0" lengthAdjust="spacingAndGlyphs" stroke="#2626ff" stroke-width="0.22">ITM2A</text>
<line x1="135.7" y1="650.3" x2="130.8" y2="652.4" stroke="#333" stroke-width="0.55"/>
<text x="135.0" y="649.3" font-size="7.4" fill="#2626ff" font-style="italic" textLength="18.2" lengthAdjust="spacingAndGlyphs" stroke="#2626ff" stroke-width="0.22">OSR1</text>
<line x1="139.3" y1="657.6" x2="130.9" y2="659.9" stroke="#333" stroke-width="0.55"/>
<text x="135.5" y="656.6" font-size="7.4" fill="#2626ff" font-style="italic" textLength="33.5" lengthAdjust="spacingAndGlyphs" stroke="#2626ff" stroke-width="0.22">SERPINB5</text>
<line x1="113.5" y1="657.3" x2="118.0" y2="656.9" stroke="#333" stroke-width="0.55"/>
<text x="88.9" y="660.9" font-size="7.4" fill="#2626ff" font-style="italic" textLength="23.6" lengthAdjust="spacingAndGlyphs" stroke="#2626ff" stroke-width="0.22">PTHLH</text>
<line x1="102.0" y1="667.4" x2="122.4" y2="669.0" stroke="#333" stroke-width="0.55"/>
<text x="75.0" y="668.9" font-size="7.4" fill="#2626ff" font-style="italic" textLength="26.0" lengthAdjust="spacingAndGlyphs" stroke="#2626ff" stroke-width="0.22">CXCL13</text>
<line x1="139.3" y1="664.3" x2="134.9" y2="663.2" stroke="#333" stroke-width="0.55"/>
<text x="140.3" y="669.4" font-size="7.4" fill="#2626ff" font-style="italic" textLength="18.7" lengthAdjust="spacingAndGlyphs" stroke="#2626ff" stroke-width="0.22">EGR2</text>
<line x1="89.1" y1="673.2" x2="93.4" y2="672.4" stroke="#333" stroke-width="0.55"/>
<text x="66.9" y="677.9" font-size="7.4" fill="#2626ff" font-style="italic" textLength="21.2" lengthAdjust="spacingAndGlyphs" stroke="#2626ff" stroke-width="0.22">CLIC6</text>
<line x1="141.7" y1="673.0" x2="137.8" y2="671.6" stroke="#333" stroke-width="0.55"/>
<text x="142.7" y="678.7" font-size="7.4" fill="#222" font-style="italic" textLength="15.8" lengthAdjust="spacingAndGlyphs" stroke="#222" stroke-width="0.22">MYC</text>
<line x1="98.1" y1="680.1" x2="108.8" y2="676.7" stroke="#333" stroke-width="0.55"/>
<text x="70.1" y="686.3" font-size="7.4" fill="#2626ff" font-style="italic" textLength="33.8" lengthAdjust="spacingAndGlyphs" stroke="#2626ff" stroke-width="0.22">SERPINA5</text>
<line x1="146.5" y1="681.6" x2="142.8" y2="680.5" stroke="#333" stroke-width="0.55"/>
<text x="147.5" y="687.6" font-size="7.4" fill="#222" font-style="italic" textLength="21.0" lengthAdjust="spacingAndGlyphs" stroke="#222" stroke-width="0.22">INSM1</text>
<line x1="112.7" y1="688.1" x2="122.3" y2="675.5" stroke="#333" stroke-width="0.55"/>
<text x="99.7" y="694.3" font-size="7.4" fill="#2626ff" font-style="italic" textLength="20.5" lengthAdjust="spacingAndGlyphs" stroke="#2626ff" stroke-width="0.22">MMP7</text>
<line x1="119.5" y1="697.1" x2="122.7" y2="694.9" stroke="#333" stroke-width="0.55"/>
<text x="103.4" y="703.3" font-size="7.4" fill="#2626ff" font-style="italic" textLength="21.6" lengthAdjust="spacingAndGlyphs" stroke="#2626ff" stroke-width="0.22">CCL19</text>
<line x1="136.1" y1="705.4" x2="131.3" y2="694.2" stroke="#333" stroke-width="0.55"/>
<text x="124.3" y="711.6" font-size="7.4" fill="#2626ff" font-style="italic" textLength="26.8" lengthAdjust="spacingAndGlyphs" stroke="#2626ff" stroke-width="0.22">SLC7A2</text>
<line x1="223.9" y1="532.5" x2="238.2" y2="523.2" stroke="#333" stroke-width="0.55"/>
<text x="210.4" y="538.7" font-size="7.4" fill="#ff2020" font-style="italic" textLength="16.0" lengthAdjust="spacingAndGlyphs" stroke="#ff2020" stroke-width="0.22">ESR1</text>
<line x1="220.8" y1="611.0" x2="215.2" y2="616.0" stroke="#333" stroke-width="0.55"/>
<text x="213.0" y="610.0" font-size="7.4" fill="#ff2020" font-style="italic" textLength="23.5" lengthAdjust="spacingAndGlyphs" stroke="#ff2020" stroke-width="0.22">IGSF21</text>
<line x1="217.5" y1="626.3" x2="210.0" y2="629.5" stroke="#333" stroke-width="0.55"/>
<text x="215.8" y="625.3" font-size="7.4" fill="#ff2020" font-style="italic" textLength="20.2" lengthAdjust="spacingAndGlyphs" stroke="#ff2020" stroke-width="0.22">REEP1</text>
<line x1="195.1" y1="630.1" x2="198.4" y2="633.5" stroke="#333" stroke-width="0.55"/>
<text x="178.9" y="629.1" font-size="7.4" fill="#ff2020" font-style="italic" textLength="25.7" lengthAdjust="spacingAndGlyphs" stroke="#ff2020" stroke-width="0.22">LIMCH1</text>
<line x1="192.4" y1="641.9" x2="197.3" y2="646.5" stroke="#333" stroke-width="0.55"/>
<text x="181.1" y="640.9" font-size="7.4" fill="#ff2020" font-style="italic" textLength="15.1" lengthAdjust="spacingAndGlyphs" stroke="#ff2020" stroke-width="0.22">NFIX</text>
<line x1="189.1" y1="648.6" x2="195.2" y2="653.0" stroke="#333" stroke-width="0.55"/>
<text x="174.3" y="647.6" font-size="7.4" fill="#ff2020" font-style="italic" textLength="19.7" lengthAdjust="spacingAndGlyphs" stroke="#ff2020" stroke-width="0.22">GPC4</text>
<line x1="227.9" y1="644.1" x2="222.1" y2="645.3" stroke="#333" stroke-width="0.55"/>
<text x="228.9" y="645.1" font-size="7.4" fill="#ff2020" font-style="italic" textLength="13.8" lengthAdjust="spacingAndGlyphs" stroke="#ff2020" stroke-width="0.22">CFB</text>
<line x1="216.9" y1="655.6" x2="206.6" y2="663.9" stroke="#333" stroke-width="0.55"/>
<text x="209.6" y="654.6" font-size="7.4" fill="#ff2020" font-style="italic" textLength="23.5" lengthAdjust="spacingAndGlyphs" stroke="#ff2020" stroke-width="0.22">ACOX2</text>
<line x1="227.5" y1="664.9" x2="222.1" y2="668.2" stroke="#333" stroke-width="0.55"/>
<text x="220.5" y="663.9" font-size="7.4" fill="#ff2020" font-style="italic" textLength="25.5" lengthAdjust="spacingAndGlyphs" stroke="#ff2020" stroke-width="0.22">CYP4Z1</text>
<line x1="184.6" y1="663.2" x2="189.1" y2="663.8" stroke="#333" stroke-width="0.55"/>
<text x="154.2" y="663.9" font-size="7.4" fill="#ff2020" font-style="italic" textLength="29.4" lengthAdjust="spacingAndGlyphs" stroke="#ff2020" stroke-width="0.22">TNFSF10</text>
<text x="233.9" y="670.6" font-size="7.4" fill="#222" font-style="italic" textLength="27.2" lengthAdjust="spacingAndGlyphs" stroke="#222" stroke-width="0.22">CLEC3A</text>
<line x1="213.6" y1="675.6" x2="209.3" y2="675.2" stroke="#333" stroke-width="0.55"/>
<text x="214.6" y="679.8" font-size="7.4" fill="#222" font-style="italic" textLength="28.6" lengthAdjust="spacingAndGlyphs" stroke="#222" stroke-width="0.22">COL11A1</text>
<line x1="217.5" y1="681.7" x2="214.0" y2="681.3" stroke="#333" stroke-width="0.55"/>
<text x="218.5" y="686.0" font-size="7.4" fill="#ff2020" font-style="italic" textLength="31.4" lengthAdjust="spacingAndGlyphs" stroke="#ff2020" stroke-width="0.22">HMGCS2</text>
<text x="201.2" y="693.2" font-size="7.4" fill="#222" font-style="italic" textLength="19.6" lengthAdjust="spacingAndGlyphs" stroke="#222" stroke-width="0.22">MUC1</text>
<text x="186.9" y="700.0" font-size="7.4" fill="#222" font-style="italic" textLength="15.5" lengthAdjust="spacingAndGlyphs" stroke="#222" stroke-width="0.22">SPP1</text>
<text x="66.8" y="523.6" font-size="11.2" fill="#222" textLength="51.4" lengthAdjust="spacingAndGlyphs">METABRIC</text>
<rect x="56.5" y="759.0" width="206.9" height="206.6" fill="none" stroke="#444" stroke-width="0.9"/>
<line x1="51.5" y1="956.6" x2="56.5" y2="956.6" stroke="#444" stroke-width="0.9"/>
<text x="40.5" y="960.0" font-size="10.6" fill="#333" textLength="5.5" lengthAdjust="spacingAndGlyphs">0</text>
<line x1="51.5" y1="890.9" x2="56.5" y2="890.9" stroke="#444" stroke-width="0.9"/>
<text x="40.5" y="894.3" font-size="10.6" fill="#333" textLength="5.5" lengthAdjust="spacingAndGlyphs">5</text>
<line x1="51.5" y1="825.2" x2="56.5" y2="825.2" stroke="#444" stroke-width="0.9"/>
<text x="35.0" y="828.6" font-size="10.6" fill="#333" textLength="11.0" lengthAdjust="spacingAndGlyphs">10</text>
<line x1="51.5" y1="759.5" x2="56.5" y2="759.5" stroke="#444" stroke-width="0.9"/>
<text x="35.0" y="762.9" font-size="10.6" fill="#333" textLength="11.0" lengthAdjust="spacingAndGlyphs">15</text>
<line x1="65.0" y1="965.6" x2="65.0" y2="970.6" stroke="#444" stroke-width="0.9"/>
<text x="59.3" y="982.3" font-size="10.6" fill="#333" textLength="11.3" lengthAdjust="spacingAndGlyphs">−4</text>
<line x1="112.5" y1="965.6" x2="112.5" y2="970.6" stroke="#444" stroke-width="0.9"/>
<text x="106.8" y="982.3" font-size="10.6" fill="#333" textLength="11.3" lengthAdjust="spacingAndGlyphs">−2</text>
<line x1="160.0" y1="965.6" x2="160.0" y2="970.6" stroke="#444" stroke-width="0.9"/>
<text x="157.2" y="982.3" font-size="10.6" fill="#333" textLength="5.5" lengthAdjust="spacingAndGlyphs">0</text>
<line x1="207.5" y1="965.6" x2="207.5" y2="970.6" stroke="#444" stroke-width="0.9"/>
<text x="204.7" y="982.3" font-size="10.6" fill="#333" textLength="5.5" lengthAdjust="spacingAndGlyphs">2</text>
<line x1="255.0" y1="965.6" x2="255.0" y2="970.6" stroke="#444" stroke-width="0.9"/>
<text x="252.2" y="982.3" font-size="10.6" fill="#333" textLength="5.5" lengthAdjust="spacingAndGlyphs">4</text>
<path d="M162.7 946.1 175.7 951.4 171.7 945.4 164.2 939.2 171.3 951.1 171.7 950.9 155.2 946.4 146.2 949.6 161.9 954.0 163.2 954.2 157.4 950.4 208.9 939.1 165.8 948.0 162.0 951.6 166.0 948.6 175.2 940.8 153.9 947.7 165.0 948.9 165.2 951.2 146.6 944.4 130.9 939.6 169.4 948.6 164.4 947.2 161.0 956.1 148.1 941.0 162.2 948.9 150.3 938.9 121.9 939.0 189.3 942.0 128.5 937.8 167.1 937.8 194.4 944.8 164.7 937.5 158.3 955.1 154.7 945.9 139.1 938.1 139.0 940.8 147.9 946.5 188.2 938.0 143.8 939.5 179.8 943.2 163.6 942.7 143.2 937.6 174.4 938.4 162.5 949.4 162.4 950.6 193.9 945.7 158.7 953.8 190.4 943.1 151.5 941.7 163.1 943.8 168.6 938.4 156.2 949.7 157.1 947.1 163.1 943.4 132.1 946.0 154.6 950.7 159.5 956.1 202.7 947.4 151.3 947.6 165.4 937.8 166.1 948.1 157.0 947.4 157.7 950.9 130.2 942.8 180.7 950.6 151.0 947.9 162.8 955.8 156.0 937.8 158.1 955.5 169.8 940.5 156.1 940.3 163.1 950.5 191.5 945.8 153.1 951.5 144.0 944.3 155.6 955.6 157.8 949.1 176.6 948.6 152.0 944.8 151.7 943.3 142.6 943.8 145.5 938.2 160.4 955.7 186.6 948.9 167.4 938.0 162.2 955.2 198.6 937.9 134.0 943.5 155.9 939.5 147.5 941.8 186.9 946.3 162.0 954.4 154.1 949.8 163.2 954.7 194.3 942.9 173.0 949.6 157.7 950.9 161.4 953.3 157.9 952.2 152.3 953.9 162.9 953.2 183.4 940.1 163.8 950.9 143.0 952.3 175.6 939.4 156.1 949.1 176.2 949.0 163.9 940.3 195.5 939.6 162.3 949.3 176.3 939.8 152.7 946.2 160.7 955.0 142.1 953.2 169.8 952.2 140.8 941.0 138.8 949.2 176.7 940.3 159.1 955.0 151.3 949.2 162.9 948.8 174.3 945.8 153.7 954.7 171.8 946.1 162.6 949.1 156.5 942.5 160.3 956.1 191.7 942.5 156.7 940.9 162.6 954.0 166.7 953.3 184.4 947.6 155.6 938.4 123.6 944.6 141.8 948.8 156.4 938.7 163.1 949.2 152.4 940.8 147.7 949.8 162.3 952.1 146.5 952.0 165.1 953.0 155.0 953.6 157.4 945.9 185.6 938.8 164.4 955.5 163.9 946.8 157.2 947.2 163.0 944.2 139.9 937.8 145.1 945.0 178.8 941.3 141.6 940.2 142.6 943.5 162.6 948.1 150.6 939.4 153.0 943.9 153.0 946.2 165.0 938.3 157.5 950.2 168.4 950.0 155.1 947.2 168.9 943.2 129.3 942.1 158.1 954.3 167.2 945.4 139.8 941.4 156.9 947.8 164.1 940.6 156.0 938.7 169.3 940.2 156.8 948.6 154.4 945.5 215.0 939.4 189.1 942.9 134.8 945.5 156.5 952.8 158.1 955.3 157.5 948.4 156.4 940.3 151.0 951.3 168.1 950.1 131.2 941.3 139.4 948.0 131.2 946.6 142.2 940.8 154.6 938.1 128.0 946.3 141.5 952.0 158.6 953.4 172.5 951.4 173.4 937.4 176.5 950.8 156.1 938.9 151.7 952.0 167.1 947.1 120.3 943.9 151.1 938.2 150.1 943.1 162.8 948.2 158.1 951.4 139.0 947.9 135.1 937.6 156.4 939.0 154.8 949.2 153.3 942.1 161.8 952.0 184.4 947.1 148.1 947.9 178.1 948.7 190.8 943.3 163.8 946.4 174.1 950.5 162.4 952.7 153.8 942.5 163.0 944.4 166.4 939.7 128.3 946.4 153.5 953.8 157.2 944.5 165.2 946.9 155.0 948.5 153.7 953.7 166.5 941.7 168.4 945.4 158.3 954.3 166.3 951.7 153.2 944.1 168.3 949.5 139.0 944.7 152.9 946.3 170.0 938.5 166.6 942.3 141.5 949.2 157.5 951.2 187.0 938.1 152.3 947.7 169.7 945.3 133.9 943.1 169.6 941.9 154.1 941.8 157.8 950.7 157.9 950.0 153.5 953.1 183.5 937.9 173.7 947.3 166.2 948.9 157.1 952.1 157.0 944.0 155.7 955.3 173.7 941.0 167.1 950.3 163.3 955.3 163.2 950.2 151.4 949.6 163.8 948.5 155.1 950.0 147.0 939.4 170.4 941.7 163.6 940.1 156.4 956.2 169.8 945.9 120.1 940.9 139.3 946.8 155.7 950.3 143.4 938.8 153.6 952.6 164.1 944.4 178.4 952.9 134.7 946.0 135.2 937.5 175.9 945.4 163.5 947.2 142.1 944.4 138.9 944.3 165.0 942.1 155.8 940.4 156.8 949.1 165.3 940.9 163.2 942.8 153.5 950.4 191.5 950.6 155.6 952.8 149.2 943.2 157.2 944.8 169.9 938.2 156.9 942.2 152.9 946.1 156.7 953.0 163.7 954.0 155.2 944.8 164.1 940.9 162.9 949.2 163.8 950.0 148.3 949.7 170.9 942.1 171.7 941.3 165.7 945.7 167.6 947.5 154.5 951.4 170.9 944.0 151.1 948.6 149.4 943.7 167.1 938.4 155.8 939.4 154.5 951.2 155.1 939.0 157.5 950.1 162.1 953.5 164.3 949.5 147.1 948.8 156.8 955.1 164.0 954.4 162.0 952.7 157.4 950.5 167.5 948.7 162.7 946.7 134.9 942.0 164.3 937.5 166.5 938.7 148.2 938.9 150.1 944.8 165.8 940.5 160.8 955.3 162.6 947.5 163.9 939.1 161.8 956.1 175.4 949.5 140.0 945.7 165.9 947.9 159.7 955.9 156.3 941.9 155.9 940.0 158.3 952.6 182.6 941.2 155.8 948.1 180.8 940.5 154.0 945.5 153.0 947.0 168.9 943.8 157.4 951.1 156.1 938.5 169.6 944.5 182.3 940.6 170.8 950.3 157.4 948.3 158.5 954.1 163.7 941.8 162.0 955.6 204.0 942.6 191.6 939.6 164.4 942.6 175.1 942.8 177.0 948.8 178.3 942.9 146.2 945.5 165.1 942.9 153.3 946.0 162.6 954.6 156.4 949.3 167.5 938.5 161.8 952.1 178.1 942.8 175.4 938.9 157.3 947.4 156.4 948.0 163.6 953.7 153.0 943.2 152.7 949.7 156.0 945.4 161.5 953.1 149.2 940.5 157.3 945.0 174.6 951.8 142.4 942.3 192.7 948.1 156.9 953.2 151.4 939.0 155.4 939.0 141.7 942.5 169.3 949.0 166.4 954.1 161.9 952.4 139.3 940.9 170.7 939.6 155.5 951.5 125.9 941.4 168.4 938.5 163.9 938.6 155.9 944.4 146.8 951.6 145.7 942.8 172.7 943.9 163.3 944.3 156.1 937.6 153.1 941.9 183.0 943.3 166.8 954.0 152.3 937.9 161.9 956.2 170.9 944.3 140.3 943.4 159.6 956.2 172.8 941.2 173.3 943.8 164.1 946.5 148.6 940.6 157.8 948.7 155.5 946.1 155.6 949.3 155.0 938.3 156.6 943.4 155.0 945.5 124.2 942.4 134.7 942.8 165.9 941.7 153.6 939.6 164.5 952.3 180.9 946.6 181.5 944.1 165.6 950.3 157.5 949.9 153.4 955.1 176.3 944.1 157.1 949.0 155.0 951.5 148.4 943.5 152.4 945.9 158.6 954.6 161.8 951.6 166.3 949.8 164.6 945.7 175.5 946.8 160.2 956.3 177.8 943.1 189.0 944.0 171.6 939.0 177.0 946.6 171.9 949.2 137.1 945.8 147.8 950.1 150.9 937.5 166.2 953.1 156.2 955.6 131.3 947.4 164.8 938.4 135.4 946.8 177.2 948.9 156.7 941.3 171.9 946.1 151.6 952.1 130.7 944.2 134.3 946.7 172.7 944.0 162.7 947.8 135.9 943.3 153.1 941.4 155.8 940.9 154.8 939.8 172.5 947.7 156.3 939.3 167.3 946.0 146.6 946.6 184.9 939.9 148.8 944.0 172.8 948.7 157.6 952.6 174.1 950.5 159.1 954.5 150.1 952.5 175.3 951.2 164.4 938.1 178.1 942.5 161.5 954.0 120.8 941.7 167.7 948.4 160.7 955.7 136.3 944.9 150.0 944.7 156.6 940.8 172.2 945.4 161.4 955.5 129.5 940.7 160.6 956.0 193.7 946.1 163.5 949.1 161.1 956.2 185.0 938.4 155.4 942.6 156.3 946.5 152.0 944.5 170.4 944.1 161.4 953.8 155.3 941.0 194.6 937.8 183.2 942.4 163.5 955.3 165.4 939.6 181.1 946.7 162.0 950.2 202.9 941.7 152.2 946.2 179.5 944.0 163.9 949.7 156.7 945.1 167.1 952.5 145.4 952.3 135.4 949.8 158.2 951.8 127.6 942.5 153.6 949.5 181.4 941.9 142.5 940.5 166.4 937.9 162.5 947.8 168.4 952.1 142.3 939.2 164.9 941.2 158.2 953.0 134.2 940.0 147.5 943.4 140.2 940.6 161.7 956.0 176.9 949.8 156.5 939.5 158.9 954.8 147.9 939.4 162.3 948.8 172.0 948.7 155.9 938.7 161.4 953.4 150.0 947.8 157.0 943.5 162.4 951.7 168.6 951.6 160.6 955.3 166.7 949.8 163.9 939.6 157.4 947.9 156.2 945.7 180.0 951.8 155.5 944.7 139.0 939.7 154.1 941.6 147.2 941.4 149.2 952.0 166.3 938.1 158.3 954.7 167.0 943.7 156.5 942.9 149.2 939.0 154.3 947.1 141.6 940.3 171.8 940.3 152.9 951.6 138.7 946.9 172.7 941.2 155.6 942.2 164.0 950.6 174.1 941.0 176.0 939.6 177.3 938.0 164.1 950.6 144.8 948.5 176.4 940.7 166.9 938.7 150.5 939.7 136.2 939.4 138.0 946.8 151.8 940.0 156.4 953.5 157.4 951.5 157.7 954.4 150.1 941.7 167.2 953.6 133.9 950.1 147.5 939.5 155.6 948.3 153.2 943.4 124.2 945.5 156.9 952.5 166.7 938.8 198.4 943.7 158.0 950.1 152.3 948.7 151.6 953.8 162.8 946.9 203.2 940.7 154.4 938.0 176.7 947.1 172.4 952.0 176.7 951.6 154.4 937.9 154.8 950.3 145.2 945.9 138.0 938.5 129.1 939.4 160.9 955.7 156.8 951.8 205.2 939.4 163.1 951.5 163.0 948.5 176.8 950.6 155.2 941.8 173.0 941.5 155.0 940.6 162.4 948.3 155.1 946.7 191.1 940.4 156.8 941.4 152.0 941.4 165.7 939.0 154.5 946.9 182.9 945.2 138.1 946.5 190.2 940.5 168.7 948.2 154.4 939.8 161.0 956.1 167.1 940.7 167.0 954.7 164.2 945.8 165.4 940.2 170.6 951.1 167.0 938.7 172.9 945.7 145.4 945.6 153.6 951.4 179.8 937.8 175.9 945.8 134.1 940.0 161.6 952.8 159.3 955.3 164.0 947.8 152.4 940.7 189.6 947.9 170.4 951.1 148.8 942.1 169.6 954.4 153.3 949.4 167.2 940.4 156.9 953.2 176.5 950.2 173.1 938.5 164.5 939.8 153.4 937.9 163.0 948.5 150.7 939.4 156.5 952.5 163.1 943.6 147.3 953.5 174.5 951.4 156.0 948.0 156.9 950.8 164.0 945.5 180.9 950.4 165.2 950.7 145.5 949.2 187.7 938.1 141.3 941.9 168.8 943.6 141.6 944.2 156.3 955.2 162.4 948.4 155.9 940.1 148.8 945.3 136.6 943.0 139.1 942.7 199.4 938.6 170.8 953.8 169.5 947.2 152.0 950.9 157.1 944.1 163.7 939.8 155.6 948.0 164.7 954.1 162.6 955.3 157.5 950.0 164.2 942.1 138.4 946.2 149.8 943.3 156.7 941.2 163.2 942.9 147.4 937.9 154.6 951.9 155.4 945.6 167.5 949.3 162.4 949.7 158.4 955.7 195.0 942.5 154.0 955.1 176.1 938.1 163.8 948.6 156.3 950.6 184.2 948.3 185.2 939.2 146.7 941.8 181.5 946.4 188.1 942.4 186.7 940.9 146.8 949.9 167.3 952.9 163.8 940.9 150.5 945.3 156.2 940.5 143.7 939.8 144.2 940.6 155.4 941.8 166.8 939.6 167.8 938.4 173.3 951.1 178.5 951.6 154.4 948.9 153.0 938.1 169.0 938.3 176.5 941.0 139.7 943.7 165.8 939.8 140.8 945.4 168.3 948.9 148.3 939.4 163.8 949.6 171.0 937.4 155.3 939.3 146.1 941.2 156.2 939.4 158.0 950.6 164.0 947.8 162.9 945.2 164.1 949.9 155.7 943.0 147.2 950.5 148.3 939.5 181.9 950.6 163.9 939.8 161.1 954.0 164.1 951.2 168.5 942.1 167.3 954.4 162.7 946.6 184.7 943.1 161.9 954.5 128.9 941.1 164.7 938.4 174.3 944.9 189.2 944.8 177.3 938.3 167.8 938.3 169.4 944.6 150.1 950.7 164.7 955.1 155.7 953.2 163.0 952.6 168.8 939.8 170.7 944.7 135.8 940.4 157.4 948.2 166.8 937.7 172.2 941.3 178.9 940.8 127.1 938.6 164.6 950.4 154.4 941.5 173.8 941.5 149.2 944.0 164.8 940.4 164.7 941.8 182.6 940.1 151.7 940.6 185.1 946.2 169.8 940.3 169.7 941.7 129.9 939.1 156.1 952.9 156.0 940.1 162.0 956.4 143.3 945.3 165.5 948.2 149.6 943.4 164.8 949.9 143.0 947.4 160.6 955.3 170.1 946.1 163.7 950.6 165.2 942.9 165.1 940.9 141.3 938.0 164.2 952.4 158.8 954.0 177.9 949.1 174.1 947.6 158.7 955.6 173.6 948.6 171.8 946.1 164.2 949.4 171.3 942.1 153.5 945.2 168.2 950.1 191.4 938.7 140.2 941.6 136.1 942.8 151.0 953.8 164.7 950.9 179.2 949.1 156.5 940.9 166.3 945.1 154.6 940.6 141.6 945.1 194.7 945.7 181.1 948.4 179.6 938.8 196.7 943.5 162.5 948.8 181.1 941.1 155.1 945.2 175.1 945.9 163.6 945.6 129.3 939.0 167.5 950.6 156.9 947.3 155.2 939.3 135.9 938.8 166.7 940.0 165.9 947.8 148.0 948.9 132.8 948.1 153.9 945.1 136.7 942.3 162.6 947.0 152.4 944.4 156.4 954.5 155.3 954.3 162.7 948.2 173.2 947.0 127.7 937.9 171.9 942.4 157.0 947.3 163.7 942.9 169.4 941.8 155.4 942.3 165.9 940.1 137.6 945.2 152.3 939.1 155.5 949.4 149.1 940.5 157.8 952.0 143.8 943.0 170.2 948.7 173.0 950.4 157.7 956.2 163.2 946.5 157.9 952.2 143.1 945.4 162.0 951.4 162.7 947.4 147.0 937.6 167.9 938.9 166.4 949.6 143.7 943.2 155.1 954.0 128.1 938.8 133.0 940.9 183.1 939.7 158.5 953.3 155.9 941.2 154.6 944.0 158.3 952.6 153.4 944.1 170.7 954.5 164.5 949.4 164.4 948.2 154.5 938.1 159.1 955.1 163.1 943.5 144.8 938.0 164.3 955.4 167.9 941.1 163.9 938.9 157.3 947.2 160.7 955.9 189.3 940.0 148.9 953.8 189.1 940.1 191.5 940.6 155.5 950.6 164.8 950.5 131.1 938.7 177.8 950.1 164.1 944.6 150.0 944.3 159.1 954.5 167.7 953.0 130.6 940.7 156.5 946.2 187.2 938.8 161.3 953.6 155.2 941.2 155.0 950.6 157.5 951.0 163.6 947.5 147.2 944.9 162.9 945.0 172.9 943.1 158.8 955.6 162.2 955.9 154.8 941.6 194.6 944.1 136.5 945.7 155.1 939.1 164.1 937.5 164.0 950.7 150.1 939.8 172.5 942.1 190.5 938.1 186.0 943.8 153.0 948.9 172.1 950.2 133.2 939.4 176.0 947.1 138.4 945.7 165.8 939.1 171.5 950.6 158.1 951.0 162.6 946.9 182.6 937.5 168.6 954.1 154.3 948.7 147.0 948.6 144.0 941.7 154.0 942.8 157.3 945.6 157.4 945.9 176.6 943.4 145.4 948.3 153.8 953.0 169.6 949.4 174.9 950.0 164.4 943.9 145.7 937.5 151.9 945.7 145.6 951.3 155.3 938.0 162.9 953.2 156.2 938.8 153.5 940.7 148.3 940.8 168.7 952.2 166.2 952.2 157.3 952.6 176.0 952.7 144.0 950.0 178.5 938.6 155.9 942.9 152.7 939.1 169.0 948.1 187.2 943.2 155.6 946.3 151.6 941.0 184.3 941.4 154.0 950.4 145.5 948.9 172.8 938.7 162.8 946.4 163.9 938.4 176.7 946.7 164.4 942.6 162.3 953.9 168.8 948.2 166.0 951.2 147.0 946.2 156.0 951.6 164.6 944.3 164.3 947.1 169.8 943.2 157.3 951.0 153.0 947.4 150.5 945.3 151.3 940.1 161.6 955.2 162.4 952.3 162.7 950.9 155.5 946.3 157.8 948.9 164.1 955.2 185.9 942.5 147.7 948.7 164.4 948.8 157.8 953.8 127.4 938.1 158.0 950.7 167.1 949.4 144.6 944.8 154.1 943.5 150.0 939.1 157.3 953.0 157.5 949.5 157.1 947.1 201.0 937.6 157.1 944.9 154.9 938.9 164.5 943.7 162.6 950.8 147.8 951.5 157.3 953.1 136.1 941.3 162.9 955.2 140.1 947.2 163.3 942.4 164.8 946.9 155.1 944.8 158.5 954.0 163.6 940.7 136.4 950.2 146.6 950.4 162.3 949.5 164.2 939.0 148.6 943.5 140.9 942.7 156.8 941.4 187.9 949.4 155.9 950.5 166.9 946.3 154.6 952.7 148.0 942.3 163.3 943.9 123.9 939.6 163.5 943.5 142.8 946.8 153.3 941.5 168.0 953.5 180.0 944.9 162.0 951.2 166.5 943.4 150.8 945.7 156.6 946.8 133.2 941.4 163.2 948.0 139.3 938.7 162.0 950.6" fill="none" stroke="none" marker-start="url(#mg)" marker-mid="url(#mg)" marker-end="url(#mg)"/>
<path d="M150.0 924.5 152.2 935.6 138.7 922.8 123.0 894.9 140.4 928.2 156.1 935.7 140.9 927.2 133.2 937.4 133.4 900.0 149.4 891.5 147.5 883.5 134.9 916.7 143.4 931.0 123.9 901.7 141.6 933.5 131.5 854.4 144.7 934.7 142.2 916.4 150.7 910.4 146.0 923.2 146.3 885.1 118.3 873.1 129.3 935.3 123.5 927.2 121.8 930.2 146.6 908.5 138.5 888.4 146.4 884.0 151.8 932.6 119.5 854.3 152.0 935.7 156.3 936.8 141.1 884.0 123.3 931.3 124.2 868.9 151.1 906.2 143.1 935.5 137.7 933.4 155.2 934.1 152.6 913.4 135.6 933.9 154.8 929.2 150.3 937.2 132.5 884.7 139.6 909.4 147.0 936.4 148.2 884.6 129.5 907.8 149.0 889.1 150.6 900.4 146.3 916.9 148.0 889.3 121.5 859.1 138.2 921.7 130.1 928.0 156.3 936.4 148.9 903.7 146.8 937.4 144.4 916.7 141.0 895.0 128.5 921.0 131.3 909.5 147.1 886.5 113.5 906.0 153.6 935.0 144.4 900.8 138.9 910.7 149.1 936.9 147.0 891.5 118.6 855.0 147.2 909.0 130.2 928.6 139.0 932.6 121.1 931.5 136.1 897.8 151.3 904.0 115.7 877.2 128.2 934.1 138.4 925.8 154.9 930.0 145.0 932.5 142.1 935.7 131.4 936.9 140.4 894.4 156.0 937.4 130.4 910.9 136.7 854.9 115.0 918.6 144.1 928.7 147.8 926.9 147.7 888.9 154.1 922.5 136.9 905.7 147.3 894.3 149.8 894.4 151.2 907.3 153.3 917.2 115.6 928.6 120.6 813.3 113.0 862.3 103.7 855.0 151.2 919.7 134.7 890.9 155.5 934.7 120.8 919.4 148.9 892.6 148.1 907.8 128.8 885.8 137.4 936.8 120.4 888.0 152.9 918.6 151.2 915.5 134.1 895.0 148.5 899.0 156.1 935.4 150.0 896.4 148.1 885.7 137.5 877.8 145.1 888.9 138.4 927.4 152.1 934.1 145.4 933.3 149.0 912.2 141.5 921.5 146.0 885.4 140.7 915.5 136.1 893.7 138.4 929.7 137.5 935.6 151.7 916.1 141.6 891.9 133.5 935.2 138.8 936.6 147.8 937.4 152.8 933.0 116.1 874.4 146.8 887.0 126.1 926.8 136.0 937.1 144.1 906.6 125.0 909.8 125.7 935.4 156.1 937.1 133.1 937.2 122.3 853.0 134.4 902.9 153.4 917.7 152.7 937.3 149.2 926.0 145.2 887.2 153.6 936.7 145.7 897.6 156.0 937.0 141.7 892.6 141.5 920.6 148.8 935.4 142.5 922.2 149.6 916.2 144.5 916.6 150.5 902.3 154.0 931.3 142.9 906.6 128.4 911.3 127.2 877.2 144.9 907.0 134.9 895.8 156.3 936.9 136.4 858.7 137.0 935.7 138.7 885.0 146.2 931.0 137.0 899.7 107.4 873.8 123.9 873.9 130.0 937.0 139.0 886.8 155.3 936.8 144.8 890.5 148.6 896.3 116.2 852.3 147.6 912.1 141.9 935.9 145.7 886.5 143.7 919.0 112.2 865.5 137.1 895.0 146.8 937.4 138.0 867.3 143.6 936.9 150.2 898.6 147.7 937.4 124.6 845.4 147.2 883.5 133.4 906.0 137.0 868.6 151.6 906.4 124.3 905.7 139.1 859.2 150.0 937.3 132.3 901.4 130.1 904.1 148.1 898.0 146.2 884.7 143.4 908.2 138.6 928.0 136.6 937.0 89.4 860.3 151.2 903.4 133.0 933.7 145.6 899.9 138.8 896.7 146.2 883.9 136.6 907.5 122.0 909.0 153.4 930.5 155.2 936.9 133.5 919.7 151.0 904.8 126.5 922.5 148.1 883.6 140.6 894.3 148.0 927.3 154.5 925.8 148.9 888.4 142.8 887.6 102.9 911.4 148.8 894.0 151.1 906.2 134.8 937.0 117.0 926.8 145.2 929.1 152.5 923.5 143.6 897.5 149.9 902.5 146.2 899.4 150.6 908.7 153.2 923.4 155.6 935.7 142.5 900.1 148.5 887.9 142.2 871.6 149.4 917.2 124.7 930.9 124.7 868.8 130.9 937.2 126.8 928.3 147.2 930.3 136.9 907.4 147.2 935.6 148.9 892.9 143.7 895.0 133.7 911.7 143.4 904.5 142.7 890.1 152.9 934.7 149.1 918.6 128.5 937.2 150.3 909.1 151.8 929.5 146.0 891.5 139.4 919.4 139.6 936.9 121.3 920.1 141.5 900.8 153.5 930.0 146.1 937.4 141.2 889.8 135.4 899.9 144.9 906.1 118.3 920.4 130.5 930.7 132.1 909.8 141.9 911.7 152.3 918.3 134.1 901.7 155.5 935.8 128.8 927.8 147.6 895.9 148.3 889.3 147.0 901.9 122.4 904.9 148.9 888.5 146.8 937.1 123.0 887.8 137.2 930.8 137.8 893.0 112.5 903.0 154.8 931.1 131.1 937.0 139.7 892.1 121.6 902.5 133.2 874.0 141.9 912.3 126.4 893.3 153.1 932.3 122.5 919.9 128.9 907.7 151.8 918.8 147.0 887.6 131.3 895.4 125.5 906.2 127.9 903.5 134.7 921.7 147.6 884.4 146.9 908.7 145.6 923.7 148.0 918.2 145.1 904.9 137.1 898.8 127.2 928.0 151.4 918.8 152.8 924.7 137.6 888.2 143.5 874.0 151.8 917.8 144.1 905.3 147.5 892.1 148.1 891.9 148.8 936.9 155.3 931.4 148.5 885.3 148.0 897.7 122.7 923.7 150.7 937.3 138.7 886.5 148.3 886.4 142.9 915.6 145.1 885.4 149.3 900.4 131.8 927.8 128.2 886.8 124.6 900.9 137.1 933.0 127.5 935.7 150.4 930.4 132.8 857.6 136.8 849.7 151.8 934.5 150.2 902.2 135.5 918.2 151.3 926.0 141.6 912.9 146.4 935.3 151.9 934.7 146.0 918.5 126.3 865.5 122.4 894.5 136.3 937.4 128.2 886.4 117.0 919.0 146.9 916.8 146.9 894.8 150.3 919.5 132.5 918.3 124.0 859.0 149.8 936.3 127.3 907.3 153.3 936.3 141.1 898.8 147.4 934.8 150.1 910.8 120.9 854.1 116.9 880.9 141.9 892.1 143.9 909.9 139.3 920.3 136.8 923.3 148.3 885.9 123.5 911.1 128.5 899.9 153.0 917.1 147.1 916.9 147.6 900.5 135.9 928.1 152.7 914.7 117.2 911.1 137.6 920.5 137.9 932.9 143.4 900.5 151.6 906.2 115.9 882.6 128.5 897.3 144.8 909.0 115.2 880.1 147.9 913.7 143.0 929.9 140.1 937.0 134.9 921.1 120.6 929.4 153.8 936.4 146.1 887.4 146.9 888.2 149.3 890.6 118.4 887.4 150.0 928.3 153.6 933.4 150.4 920.3 138.5 859.6 132.4 894.3 147.9 887.2 144.0 885.6 117.9 927.9 136.5 935.1 128.2 936.5 123.4 855.8 141.0 924.7 141.7 894.2 130.4 933.7 155.8 936.3 141.0 928.3 147.0 935.4 155.7 933.2 146.2 885.1 143.2 900.6 125.0 928.4 151.6 930.1 141.9 930.2 142.8 933.6 137.5 858.7 129.9 852.6 149.8 920.4 149.1 912.2 129.7 923.8 154.9 929.2 149.1 920.3 144.2 933.0 149.6 920.2 139.8 934.3 148.5 895.0 155.5 937.1 134.0 892.5 122.8 913.1 151.4 899.0 129.7 930.8 155.5 935.8 148.0 912.6 142.1 872.2 148.1 918.1 143.1 928.3 144.4 917.3 108.2 895.7 132.9 902.3 150.3 917.1 147.6 886.4 146.8 892.7 130.7 899.0 140.9 934.1 148.5 924.8 136.0 912.2 152.8 928.7 146.5 883.2 145.9 898.8 149.2 912.2 148.4 899.3 153.9 926.0 148.4 900.0 147.1 937.0 143.7 930.5 134.5 930.2 121.4 932.4 154.9 928.6 127.9 868.9 154.1 932.8 146.2 922.5 126.7 925.0 133.9 937.1 146.5 926.9 135.7 914.5 152.2 935.6 128.2 922.4 143.5 889.5 150.7 908.2 131.8 926.6 150.7 905.8 148.2 937.4 139.0 934.7 139.2 914.0 147.1 916.9 155.3 933.4 136.8 911.6 141.3 897.4 149.1 894.0 143.9 898.7 134.1 931.3 155.5 934.4 130.0 904.9 145.7 884.0 123.6 929.8 146.4 936.1 146.7 885.8 128.5 936.0 153.4 918.0 124.2 937.4 143.9 937.4 119.4 857.6 135.2 935.2 120.0 935.1 137.6 894.2 127.3 935.8 139.9 860.1 131.5 933.5 152.9 914.4 148.0 927.3 119.8 921.9 129.4 934.2 119.3 864.3 118.4 883.6 148.1 893.8 149.4 932.1 137.0 903.5 145.4 934.9 146.8 893.6 123.2 885.2 131.6 876.0 155.9 934.3 150.4 897.8 153.9 921.9 118.8 868.4 132.5 921.7 151.9 916.3 148.5 889.2 143.1 928.9 134.8 875.4 119.0 930.0 136.8 930.5 137.8 937.0 132.7 911.8 141.1 931.5 126.3 917.6 142.8 900.6 151.9 936.1 125.8 883.3 153.5 922.9 139.2 925.7 137.4 934.4 131.0 937.1 128.6 930.8 155.9 935.5 152.4 910.9 138.9 889.8 144.5 935.0 148.3 888.9 131.8 918.0 148.9 900.7 153.3 919.8 129.0 878.7 149.9 916.7 138.1 891.9 147.4 912.2 142.9 928.4 144.1 931.0 142.1 892.6 156.1 935.5 146.7 930.9 149.6 893.6 150.8 909.0 138.4 903.7 141.6 895.6 147.0 926.4 140.3 924.8 142.5 931.8 126.8 933.2 143.6 928.1 153.8 923.3 152.5 913.6 146.3 889.0 153.1 929.6 142.4 937.2 140.3 888.4 148.5 936.2 122.1 885.1 118.6 898.4 147.1 885.4 122.4 924.7 121.0 883.4 129.8 900.5 145.9 892.7 126.5 899.9 148.9 937.1 132.0 936.5 133.7 919.3 154.9 934.6 129.3 928.4 120.9 898.8 134.0 892.4 124.8 913.1 148.1 899.2 151.7 917.9 123.0 913.5 134.5 934.8 149.0 909.6 126.3 937.3 148.5 928.1 155.0 931.1 131.4 869.3 145.8 882.4 148.9 888.8 145.1 885.6 131.3 931.3 138.3 937.1 118.5 930.0 131.0 936.9 127.9 935.8 140.6 925.3 137.1 912.3 147.3 936.6 119.2 873.2 123.7 913.1 144.7 884.9 139.3 937.4 150.7 901.2 148.6 894.6 133.6 910.6 154.7 935.8 151.8 918.4 147.2 937.4 149.1 910.9 148.0 899.1 131.2 905.7 152.4 922.2 126.0 936.3 136.1 916.1 144.2 905.5 151.2 926.1 128.0 902.4 143.0 922.4 144.9 929.8 145.0 899.0 147.9 896.4 145.3 884.7 128.9 902.3 114.8 920.2 134.3 918.0 143.7 900.1 139.7 929.9 154.1 926.3 138.0 919.3 152.8 916.1 120.7 929.1 118.5 880.7 148.9 910.8 150.5 910.0 127.8 919.0 111.4 882.3 126.6 905.3 114.1 868.4 129.3 882.0 152.5 927.5 152.9 922.1 140.0 937.4 127.2 912.4 129.8 905.9 154.2 923.0 146.6 904.0 124.8 921.5 118.0 925.0 151.3 916.8 151.1 902.6 130.8 869.4 134.9 932.5 118.0 924.5 151.2 903.6 140.0 936.2 149.0 919.1 155.6 933.5 128.5 869.1 122.1 897.9 151.7 929.6 138.4 903.4 128.5 895.9 125.9 920.8 145.2 904.0 156.3 937.2 151.9 931.8 122.5 876.2 150.4 922.6 146.4 889.3 131.3 934.8 150.9 928.5 138.1 905.0 146.2 928.0 145.2 884.3 133.5 898.9 147.2 892.8 153.3 935.6 131.0 875.1 151.1 936.2 148.6 892.4 138.6 916.0 142.3 932.7 146.2 922.5 153.7 931.5 148.4 886.4 138.3 928.5 147.4 890.9 128.6 885.5 142.1 892.5 152.4 923.7 133.6 859.0 143.4 928.6 131.5 902.3 143.0 890.1 153.7 921.7 152.4 921.7 150.9 934.4 140.5 882.9 124.5 916.0 109.0 879.1 140.2 907.7 154.9 929.0 150.5 928.1 154.7 933.0 151.7 932.5 143.1 937.4 146.0 934.3 123.5 895.6 152.9 919.5 122.2 826.1 141.5 896.9 154.8 935.2 141.8 937.3 147.8 905.5 149.5 913.4 147.8 898.8 149.2 937.3 119.4 918.8 134.0 907.1 147.5 905.2 139.5 926.0 144.2 918.0 147.4 898.3 140.7 895.1 135.6 878.5" fill="none" stroke="none" marker-start="url(#mb)" marker-mid="url(#mb)" marker-end="url(#mb)"/>
<path d="M166.8 900.2 170.4 924.2 174.6 925.8 165.5 931.3 180.3 937.4 170.5 923.9 168.5 937.3 171.3 923.5 171.8 900.1 177.7 936.3 167.6 895.7 167.0 896.1 167.6 915.2 168.4 903.2 165.0 937.3 177.2 932.8 167.5 893.7 171.7 900.1 164.7 934.4 166.1 911.6 167.1 892.6 174.4 920.0 169.8 932.7 164.8 937.1 164.5 932.4 166.5 901.5 169.5 898.9 164.9 922.2 181.7 928.7 166.4 915.9 164.7 934.9 186.4 934.2 195.0 912.0 166.4 934.3 190.8 936.6 164.5 931.3 165.1 930.4 166.6 906.9 171.0 921.1 193.9 936.8 167.6 904.4 166.5 900.4 168.9 897.0 176.6 910.8 166.0 908.6 186.4 937.4 176.8 920.9 164.1 934.9 177.6 931.6 225.9 923.9 170.3 912.7 168.7 908.7 163.9 936.6 166.3 903.7 163.8 937.3 170.8 914.9 185.5 928.6 166.1 932.1 166.0 927.9 164.3 930.2 169.6 924.0 180.6 921.6 167.3 937.4 165.9 909.4 167.1 898.2 168.5 911.6 172.9 904.3 173.7 909.0 167.3 892.8 168.9 897.5 174.8 931.1 169.8 937.4 175.4 935.1 171.8 898.7 164.7 929.5 182.7 923.3 175.1 925.4 168.9 928.3 174.1 933.4 171.6 936.5 170.7 937.0 175.8 933.8 167.4 929.8 169.1 907.8 168.6 932.9 191.2 936.1 165.6 922.0 164.8 923.5 166.0 932.9 165.9 925.8 178.3 922.5 171.7 937.4 176.9 920.6 166.3 904.0 194.5 778.0 170.7 904.6 170.8 901.4 169.2 886.5 173.2 912.5 169.6 929.9 167.6 934.8 167.5 897.6 166.8 895.8 164.5 933.7 169.7 898.7 179.8 927.1 169.2 903.0 171.7 919.5 164.8 925.8 167.4 923.2 167.8 894.8 166.2 934.4 172.6 922.0 167.0 894.9 164.0 935.9 171.0 898.8 165.0 920.9 170.6 937.4 179.3 933.2 164.9 936.9 183.4 936.5 176.2 937.1 164.9 932.9 188.0 937.3 164.5 930.6 164.9 926.0 175.5 910.7 181.8 937.1 164.9 937.1 188.0 903.0 172.2 905.3 169.8 933.1 165.2 933.2 195.1 935.6 174.0 934.7 166.5 936.0 165.9 910.9 172.2 910.8 165.8 920.9 170.1 937.2 168.9 937.4 167.1 934.9 170.3 927.5 174.0 935.6 174.3 924.4 175.4 920.0 166.9 937.4 169.8 925.8 174.0 918.2 187.5 933.0 169.8 899.8 174.8 936.9 167.3 931.6 169.4 902.9 166.7 899.4 172.5 925.6 169.2 922.6 171.7 933.7 180.1 921.8 170.6 900.7 167.9 917.1 166.9 893.3 181.4 925.3 164.6 936.0 185.3 937.4 180.6 927.0 208.2 919.9 185.0 936.2 169.8 913.1 164.6 934.6 165.5 914.4 176.4 930.8 165.8 926.7 168.8 895.2 172.4 934.4 168.8 895.5 176.0 935.6 168.6 927.8 173.9 932.8 176.3 937.0 172.4 930.8 184.1 919.1 179.0 922.6 164.8 928.8 166.3 903.6 166.2 906.4 177.8 930.8 164.2 932.7 166.6 911.1 164.7 935.4 166.3 906.0 169.0 911.3 170.2 903.9 164.2 937.4 207.7 934.7 175.3 929.4 167.3 897.6 166.2 905.4 185.9 936.8 165.8 930.2 166.3 934.2 177.5 933.9 168.5 901.4 175.5 935.1 167.3 902.5 166.5 919.1 167.1 892.9 165.8 910.7 170.4 933.3 164.8 923.0 167.2 892.6 166.6 908.0 175.7 922.2 165.9 922.6 180.7 923.7 190.3 934.8 174.3 914.3 171.5 908.6 175.0 907.6 175.6 937.4 169.3 935.7 175.3 934.4 167.9 894.3 170.8 928.0 173.5 933.7 200.6 917.8 165.7 913.0 166.4 914.8 169.2 935.6 167.1 911.3 172.8 913.8 167.4 921.9 174.5 937.4 164.5 936.8 168.5 937.4 164.3 935.4 165.6 912.6 166.2 927.7 171.3 935.1 169.3 899.6 181.3 936.8 173.7 932.3 171.7 898.4 167.1 917.4 165.8 912.7 193.5 937.4 191.3 932.1 165.1 936.6 170.0 934.0 165.7 915.4 170.2 937.3 169.0 896.6 169.1 930.1 167.2 934.2 165.4 937.1 165.8 927.6 171.9 936.6 176.4 934.0 169.8 899.1 168.5 902.3 175.6 919.8 213.5 934.2 167.2 900.1 166.2 927.8 176.6 931.0 164.0 935.9 174.1 932.5 166.3 906.0 173.7 935.9 163.9 935.7 172.1 937.1 166.5 901.2 168.0 901.5 166.6 907.1 168.8 864.1 173.6 909.1 166.6 898.7 180.5 934.7 171.1 912.8 165.2 919.0 203.0 933.1 167.2 892.6 174.8 916.9 166.7 900.7 170.3 905.0 171.8 910.8 167.6 899.5 167.4 899.5 163.9 936.3 172.1 923.2 172.9 937.3 167.3 915.4 167.4 932.8 167.3 899.7 185.5 936.3 166.2 915.0 192.3 926.5 170.5 924.1 173.8 926.6 179.1 921.0 166.2 904.6 176.0 935.7 166.5 908.9 168.6 928.3 168.2 920.9 168.1 937.3 174.2 920.6 167.6 910.6 166.4 937.1 168.5 893.3 175.7 934.8 191.0 926.0 186.8 922.6 169.2 937.3 168.1 909.0 167.0 923.1 165.8 912.5 167.4 904.2 164.6 931.0 174.2 934.7 169.0 895.0 167.3 935.2 172.2 906.8 171.5 928.3 164.3 937.4 171.2 919.7 171.7 933.3 164.1 933.6 164.5 937.0 170.0 900.1 168.4 930.7 168.3 906.2 181.4 924.5 181.9 933.5 164.4 932.0 180.2 933.5 173.9 931.4 165.9 908.8 166.9 892.4 164.4 936.9 184.5 897.0 171.1 901.4 167.9 932.3 176.3 937.2 176.2 935.8 182.1 936.4 166.4 908.4 173.5 913.9 165.6 927.2 167.6 897.0 167.3 896.3 163.9 937.4 170.9 912.5 172.5 918.3 166.4 932.3 168.4 936.2 170.1 937.1 177.1 937.4 168.9 936.5 166.6 899.1 176.3 916.9 163.9 936.9 168.0 936.9 166.5 901.9 165.8 912.3 165.3 919.4 172.1 928.4 169.1 924.7 198.0 921.0 166.9 920.6 180.7 935.7 167.7 934.4 166.5 901.0 171.2 929.8 166.4 932.9 169.8 937.3 167.4 899.6 177.4 919.1 167.8 908.7 166.8 896.2 168.4 924.1 169.2 908.2 164.6 936.7 167.9 896.0 172.2 907.6 183.6 929.7 175.7 935.6 171.7 923.8 167.0 897.0 168.3 929.2 189.6 936.2 165.6 916.2 168.3 904.1 167.9 893.1 166.9 907.4 172.7 931.2 168.1 900.8 167.6 914.9 168.9 895.6 168.8 898.7 183.1 935.1 168.3 933.1 166.1 905.9 170.5 929.6 169.1 905.0 174.9 926.3 164.0 937.2 166.6 901.5 165.6 916.2 167.8 929.9 169.4 905.8 170.6 904.4 177.9 922.8 165.7 936.6 175.1 913.1 180.6 924.3 167.1 930.4 166.0 906.5 173.9 910.9 166.9 895.5 166.4 930.9 175.8 920.5 168.1 893.9 190.3 937.0 173.2 916.9 166.8 896.5 166.4 911.2 167.1 907.6 168.0 937.1 174.5 910.3 172.4 936.2 170.5 935.7 167.1 900.9 172.9 913.1 168.7 934.5 171.1 911.7 176.2 934.7 172.0 918.7 165.7 923.9 165.4 936.1 171.5 918.9 166.6 899.4 170.7 920.3 166.7 901.1 167.0 936.3 165.8 914.7 179.1 936.6 166.8 926.2 166.6 906.0 165.9 918.9 179.9 933.7 166.7 936.7 167.9 896.6 168.6 924.4 168.6 902.2 171.1 937.2 168.0 910.8 168.5 935.3 174.7 928.8 169.2 937.2 173.5 919.3 165.8 911.4 163.8 937.4 181.9 928.8 166.0 907.8 166.8 896.5 167.7 932.8 165.3 923.7 168.0 897.4 170.6 905.4 173.2 900.5 165.8 912.5 164.8 924.2 172.4 928.1 164.5 937.4 176.3 908.3 168.6 894.8 169.7 910.3 167.6 894.6 172.8 936.9 168.5 901.7 167.0 893.9 182.5 928.2 167.7 913.9 166.3 912.7 179.1 926.6 175.8 915.7 164.6 935.3 175.0 919.5 164.3 931.4 172.7 930.0 168.0 892.3 164.5 935.2 165.7 913.2 196.0 930.0 171.0 914.4 164.4 933.2 192.5 935.3 165.1 937.3 176.0 914.1 168.6 912.0 165.4 923.4 175.2 932.8 172.2 925.7 165.7 927.4 170.1 907.0 169.7 917.3 165.2 917.5 166.5 912.8 166.7 898.1 169.5 937.1 164.4 932.6 164.1 936.1 185.8 937.4 166.9 934.1 170.9 921.6 167.4 937.0 178.2 917.7 166.2 923.1 164.5 937.4 172.4 911.3 165.6 913.7 166.8 901.4 164.8 924.0 172.6 935.7 165.4 924.9 166.2 904.0 166.3 927.8 169.0 927.0 171.8 917.0 170.6 908.1 190.0 931.0 173.8 907.4 176.6 928.7 172.9 924.4 166.5 912.4 172.8 937.3 185.2 936.7 168.6 909.0 168.6 893.0 176.0 936.9 177.1 924.1 170.0 908.2 186.7 936.1 170.6 914.6 164.9 932.1 168.6 903.1 164.1 934.0 171.0 905.2 167.2 898.9 183.8 932.3 180.5 931.2 170.2 916.6 173.0 935.6 178.0 923.5" fill="none" stroke="none" marker-start="url(#mr)" marker-mid="url(#mr)" marker-end="url(#mr)"/>
<path d="M223.1 940.3 216.0 943.0 211.0 941.5" fill="none" stroke="none" marker-start="url(#mgw)" marker-mid="url(#mgw)" marker-end="url(#mgw)"/>
<line x1="116.3" y1="808.9" x2="119.3" y2="811.9" stroke="#333" stroke-width="0.55"/>
<text x="103.9" y="807.9" font-size="7.4" fill="#222" font-style="italic" textLength="17.9" lengthAdjust="spacingAndGlyphs" stroke="#222" stroke-width="0.22">DBX2</text>
<line x1="115.9" y1="822.2" x2="120.6" y2="825.1" stroke="#333" stroke-width="0.55"/>
<text x="101.8" y="821.2" font-size="7.4" fill="#222" font-style="italic" textLength="16.8" lengthAdjust="spacingAndGlyphs" stroke="#222" stroke-width="0.22">DIO2</text>
<line x1="126.5" y1="835.8" x2="125.0" y2="843.5" stroke="#333" stroke-width="0.55"/>
<text x="116.2" y="834.8" font-size="7.4" fill="#222" font-style="italic" textLength="22.0" lengthAdjust="spacingAndGlyphs" stroke="#222" stroke-width="0.22">LRFN5</text>
<line x1="137.4" y1="843.9" x2="124.8" y2="854.6" stroke="#333" stroke-width="0.55"/>
<text x="131.2" y="842.9" font-size="7.4" fill="#2626ff" font-style="italic" textLength="20.8" lengthAdjust="spacingAndGlyphs" stroke="#2626ff" stroke-width="0.22">AMPH</text>
<line x1="105.0" y1="846.6" x2="104.0" y2="853.1" stroke="#333" stroke-width="0.55"/>
<text x="98.2" y="845.6" font-size="7.4" fill="#222" font-style="italic" textLength="14.8" lengthAdjust="spacingAndGlyphs" stroke="#222" stroke-width="0.22">DCX</text>
<line x1="141.7" y1="849.9" x2="138.7" y2="849.8" stroke="#333" stroke-width="0.55"/>
<text x="142.7" y="852.8" font-size="7.4" fill="#222" font-style="italic" textLength="16.1" lengthAdjust="spacingAndGlyphs" stroke="#222" stroke-width="0.22">ETV1</text>
<line x1="84.8" y1="854.9" x2="88.2" y2="858.9" stroke="#333" stroke-width="0.55"/>
<text x="70.1" y="853.9" font-size="7.4" fill="#222" font-style="italic" textLength="23.2" lengthAdjust="spacingAndGlyphs" stroke="#222" stroke-width="0.22">GLRA3</text>
<line x1="103.3" y1="868.3" x2="106.3" y2="872.3" stroke="#333" stroke-width="0.55"/>
<text x="92.9" y="867.3" font-size="7.4" fill="#222" font-style="italic" textLength="15.3" lengthAdjust="spacingAndGlyphs" stroke="#222" stroke-width="0.22">IL20</text>
<line x1="93.4" y1="876.3" x2="109.6" y2="881.7" stroke="#333" stroke-width="0.55"/>
<text x="68.0" y="875.3" font-size="7.4" fill="#2626ff" font-style="italic" textLength="29.4" lengthAdjust="spacingAndGlyphs" stroke="#2626ff" stroke-width="0.22">COL17A1</text>
<line x1="103.9" y1="884.8" x2="120.1" y2="888.6" stroke="#333" stroke-width="0.55"/>
<text x="80.1" y="884.5" font-size="7.4" fill="#2626ff" font-style="italic" textLength="22.8" lengthAdjust="spacingAndGlyphs" stroke="#2626ff" stroke-width="0.22">PTHLH</text>
<line x1="107.1" y1="890.5" x2="118.2" y2="893.5" stroke="#333" stroke-width="0.55"/>
<text x="95.8" y="891.4" font-size="7.4" fill="#2626ff" font-style="italic" textLength="10.3" lengthAdjust="spacingAndGlyphs" stroke="#2626ff" stroke-width="0.22">IGJ</text>
<line x1="100.4" y1="895.8" x2="106.3" y2="895.7" stroke="#333" stroke-width="0.55"/>
<text x="61.6" y="898.6" font-size="7.4" fill="#222" font-style="italic" textLength="37.8" lengthAdjust="spacingAndGlyphs" stroke="#222" stroke-width="0.22">ARHGAP36</text>
<line x1="100.7" y1="904.0" x2="110.6" y2="903.2" stroke="#333" stroke-width="0.55"/>
<text x="77.7" y="907.6" font-size="7.4" fill="#2626ff" font-style="italic" textLength="22.0" lengthAdjust="spacingAndGlyphs" stroke="#2626ff" stroke-width="0.22">MSMB</text>
<line x1="94.3" y1="912.4" x2="101.0" y2="911.6" stroke="#333" stroke-width="0.55"/>
<text x="65.3" y="916.8" font-size="7.4" fill="#2626ff" font-style="italic" textLength="28.0" lengthAdjust="spacingAndGlyphs" stroke="#2626ff" stroke-width="0.22">MYBPC1</text>
<line x1="104.4" y1="917.5" x2="118.2" y2="911.7" stroke="#333" stroke-width="0.55"/>
<text x="82.5" y="923.7" font-size="7.4" fill="#2626ff" font-style="italic" textLength="26.5" lengthAdjust="spacingAndGlyphs" stroke="#2626ff" stroke-width="0.22">CXCL13</text>
<line x1="106.7" y1="923.4" x2="115.3" y2="919.7" stroke="#333" stroke-width="0.55"/>
<text x="87.8" y="929.6" font-size="7.4" fill="#2626ff" font-style="italic" textLength="20.9" lengthAdjust="spacingAndGlyphs" stroke="#2626ff" stroke-width="0.22">SFRP1</text>
<line x1="110.6" y1="930.6" x2="117.3" y2="926.9" stroke="#333" stroke-width="0.55"/>
<text x="94.5" y="936.8" font-size="7.4" fill="#2626ff" font-style="italic" textLength="19.0" lengthAdjust="spacingAndGlyphs" stroke="#2626ff" stroke-width="0.22">IGSF1</text>
<line x1="203.7" y1="788.5" x2="195.8" y2="779.4" stroke="#333" stroke-width="0.55"/>
<text x="198.6" y="794.7" font-size="7.4" fill="#ff2020" font-style="italic" textLength="16.5" lengthAdjust="spacingAndGlyphs" stroke="#ff2020" stroke-width="0.22">ESR1</text>
<line x1="177.7" y1="858.0" x2="170.4" y2="863.0" stroke="#333" stroke-width="0.55"/>
<text x="172.1" y="857.0" font-size="7.4" fill="#222" font-style="italic" textLength="21.6" lengthAdjust="spacingAndGlyphs" stroke="#222" stroke-width="0.22">ALAS1</text>
<text x="166.0" y="877.9" font-size="7.4" fill="#222" font-style="italic" textLength="22.9" lengthAdjust="spacingAndGlyphs" stroke="#222" stroke-width="0.22">TUSC2</text>
<line x1="179.4" y1="885.3" x2="171.1" y2="886.3" stroke="#333" stroke-width="0.55"/>
<text x="180.4" y="886.7" font-size="7.4" fill="#222" font-style="italic" textLength="17.7" lengthAdjust="spacingAndGlyphs" stroke="#222" stroke-width="0.22">PEX3</text>
<line x1="194.5" y1="906.6" x2="189.6" y2="909.9" stroke="#333" stroke-width="0.55"/>
<text x="188.1" y="905.6" font-size="7.4" fill="#ff2020" font-style="italic" textLength="23.3" lengthAdjust="spacingAndGlyphs" stroke="#ff2020" stroke-width="0.22">IGSF21</text>
<line x1="213.3" y1="913.1" x2="202.4" y2="917.1" stroke="#333" stroke-width="0.55"/>
<text x="209.8" y="912.1" font-size="7.4" fill="#ff2020" font-style="italic" textLength="26.2" lengthAdjust="spacingAndGlyphs" stroke="#ff2020" stroke-width="0.22">CYP4X1</text>
<line x1="233.9" y1="921.4" x2="227.7" y2="923.3" stroke="#333" stroke-width="0.55"/>
<text x="232.8" y="920.4" font-size="7.4" fill="#ff2020" font-style="italic" textLength="25.2" lengthAdjust="spacingAndGlyphs" stroke="#ff2020" stroke-width="0.22">CYP4Z1</text>
<line x1="208.5" y1="925.1" x2="196.8" y2="921.6" stroke="#333" stroke-width="0.55"/>
<text x="207.7" y="931.3" font-size="7.4" fill="#ff2020" font-style="italic" textLength="25.1" lengthAdjust="spacingAndGlyphs" stroke="#ff2020" stroke-width="0.22">SPINK8</text>
<line x1="226.5" y1="936.3" x2="215.4" y2="934.5" stroke="#333" stroke-width="0.55"/>
<text x="227.5" y="941.3" font-size="7.4" fill="#ff2020" font-style="italic" textLength="27.3" lengthAdjust="spacingAndGlyphs" stroke="#ff2020" stroke-width="0.22">CYP2A6</text>
<line x1="214.0" y1="942.8" x2="208.9" y2="936.2" stroke="#333" stroke-width="0.55"/>
<text x="201.3" y="949.0" font-size="7.4" fill="#ff2020" font-style="italic" textLength="31.0" lengthAdjust="spacingAndGlyphs" stroke="#ff2020" stroke-width="0.22">HMGCS2</text>
<text x="63.5" y="775.4" font-size="11.2" fill="#222" textLength="27.4" lengthAdjust="spacingAndGlyphs">TCGA</text>
<text transform="translate(24.3,111.3) rotate(-90)" x="-56.0" y="0" font-size="10.8" fill="#222" textLength="112.0" lengthAdjust="spacingAndGlyphs">−log<tspan font-size="7.2" dy="2.2">10</tspan><tspan dy="-2.2">(FDR-adjusted </tspan><tspan font-style="italic">P</tspan>)</text>
<text transform="translate(25.2,365.9) rotate(-90)" x="-21.5" y="0" font-size="10.8" fill="#222" textLength="43.0" lengthAdjust="spacingAndGlyphs">−log<tspan font-size="7.2" dy="2.2">10</tspan><tspan dy="-2.2">(</tspan><tspan font-style="italic">P</tspan>)</text>
<text transform="translate(24.3,611.5) rotate(-90)" x="-56.0" y="0" font-size="10.8" fill="#222" textLength="112.0" lengthAdjust="spacingAndGlyphs">−log<tspan font-size="7.2" dy="2.2">10</tspan><tspan dy="-2.2">(FDR-adjusted </tspan><tspan font-style="italic">P</tspan>)</text>
<text transform="translate(24.3,862.6) rotate(-90)" x="-56.0" y="0" font-size="10.8" fill="#222" textLength="112.0" lengthAdjust="spacingAndGlyphs">−log<tspan font-size="7.2" dy="2.2">10</tspan><tspan dy="-2.2">(FDR-adjusted </tspan><tspan font-style="italic">P</tspan>)</text>
<text x="118.3" y="248.0" font-size="11.4" fill="#222" textLength="87.0" lengthAdjust="spacingAndGlyphs">log<tspan font-size="7.6" dy="2.4">2</tspan><tspan dy="-2.4">(fold change)</tspan></text>
<text x="117.1" y="497.3" font-size="11.4" fill="#222" textLength="87.0" lengthAdjust="spacingAndGlyphs">log<tspan font-size="7.6" dy="2.4">2</tspan><tspan dy="-2.4">(fold change)</tspan></text>
<text x="116.5" y="747.0" font-size="11.4" fill="#222" textLength="87.0" lengthAdjust="spacingAndGlyphs">log<tspan font-size="7.6" dy="2.4">2</tspan><tspan dy="-2.4">(fold change)</tspan></text>
<text x="117.0" y="999.2" font-size="11.4" fill="#222" textLength="87.0" lengthAdjust="spacingAndGlyphs">log<tspan font-size="7.6" dy="2.4">2</tspan><tspan dy="-2.4">(fold change)</tspan></text>
<text x="0.3" y="8.9" font-size="16.5" font-weight="bold" fill="#000" stroke="#000" stroke-width="0.5">a</text>
<text x="0.3" y="520.3" font-size="16.5" font-weight="bold" fill="#000" stroke="#000" stroke-width="0.5">b</text>
<text x="306.8" y="8.6" font-size="16.5" font-weight="bold" fill="#000" stroke="#000" stroke-width="0.5">c</text>
<text x="306.6" y="556.1" font-size="16.5" font-weight="bold" fill="#000" stroke="#000" stroke-width="0.5">d</text>
<text transform="translate(10.2,238.6) rotate(-90)" x="-29.3" y="0" font-size="11.2" fill="#222" textLength="58.6" lengthAdjust="spacingAndGlyphs">TNBC/basal</text>
<text transform="translate(10.2,735.4) rotate(-90)" x="-33.8" y="0" font-size="11.2" fill="#222" textLength="67.6" lengthAdjust="spacingAndGlyphs">ER<tspan font-size="7" dy="-4">+</tspan><tspan dy="4">/luminal A</tspan></text>
<text transform="translate(282.6,104.9) rotate(90)" x="0" y="0" font-size="11" fill="#222" textLength="51.1" lengthAdjust="spacingAndGlyphs">Enrichment:</text>
<text transform="translate(282.6,189.7) rotate(90)" x="0" y="0" font-size="11" fill="#222" textLength="61.0" lengthAdjust="spacingAndGlyphs">Not significant</text>
<text transform="translate(282.6,297.0) rotate(90)" x="0" y="0" font-size="11" fill="#222" textLength="35.0" lengthAdjust="spacingAndGlyphs">Younger</text>
<text transform="translate(282.6,375.5) rotate(90)" x="0" y="0" font-size="11" fill="#222" textLength="26.0" lengthAdjust="spacingAndGlyphs">Older</text>
<circle cx="285.7" cy="176.2" r="5" fill="#cfcfcf" stroke="#555" stroke-width="0.8"/>
<circle cx="285.7" cy="284.3" r="5.2" fill="#0000f4" stroke="#000" stroke-width="0.5"/>
<circle cx="285.7" cy="365.0" r="5.2" fill="#f00000" stroke="#000" stroke-width="0.5"/>
<text transform="translate(282.6,596.7) rotate(90)" x="0" y="0" font-size="11" fill="#222" textLength="51.1" lengthAdjust="spacingAndGlyphs">Enrichment:</text>
<text transform="translate(282.6,670.0) rotate(90)" x="0" y="0" font-size="11" fill="#222" textLength="62.0" lengthAdjust="spacingAndGlyphs">Not significant</text>
<text transform="translate(282.6,764.0) rotate(90)" x="0" y="0" font-size="11" fill="#222" textLength="35.0" lengthAdjust="spacingAndGlyphs">Younger</text>
<text transform="translate(282.6,833.0) rotate(90)" x="0" y="0" font-size="11" fill="#222" textLength="24.0" lengthAdjust="spacingAndGlyphs">Older</text>
<circle cx="285.7" cy="659.0" r="5" fill="#cfcfcf" stroke="#555" stroke-width="0.8"/>
<circle cx="285.7" cy="753.0" r="5.2" fill="#0000f4" stroke="#000" stroke-width="0.5"/>
<circle cx="285.7" cy="821.0" r="5.2" fill="#f00000" stroke="#000" stroke-width="0.5"/>
<line x1="522.0" y1="12.4" x2="564.6" y2="12.4" stroke="#555" stroke-width="0.8"/>
<line x1="634.9" y1="12.4" x2="676.8" y2="12.4" stroke="#555" stroke-width="0.8"/>
<text x="570.1" y="16.1" font-size="10.7" fill="#222" textLength="59.1" lengthAdjust="spacingAndGlyphs">TNBC/basal</text>
<text x="531.1" y="35.1" font-size="10.8" fill="#222" textLength="50.9" lengthAdjust="spacingAndGlyphs">METABRIC</text>
<text x="629.7" y="35.1" font-size="10.8" fill="#222" textLength="28.0" lengthAdjust="spacingAndGlyphs">TCGA</text>
<text x="424.6" y="35.1" font-size="10.8" fill="#222" textLength="42.0" lengthAdjust="spacingAndGlyphs">Immune</text>
<rect x="522.1" y="39.6" width="68.9" height="303.7" fill="#f1f1f1"/>
<line x1="524.6" y1="39.6" x2="524.6" y2="343.3" stroke="#fff" stroke-width="0.9"/>
<line x1="532.7" y1="39.6" x2="532.7" y2="343.3" stroke="#fff" stroke-width="0.55"/>
<line x1="540.9" y1="39.6" x2="540.9" y2="343.3" stroke="#fff" stroke-width="0.9"/>
<line x1="549.0" y1="39.6" x2="549.0" y2="343.3" stroke="#fff" stroke-width="0.55"/>
<line x1="557.2" y1="39.6" x2="557.2" y2="343.3" stroke="#fff" stroke-width="0.9"/>
<line x1="565.4" y1="39.6" x2="565.4" y2="343.3" stroke="#fff" stroke-width="0.55"/>
<line x1="573.5" y1="39.6" x2="573.5" y2="343.3" stroke="#fff" stroke-width="0.9"/>
<line x1="581.7" y1="39.6" x2="581.7" y2="343.3" stroke="#fff" stroke-width="0.55"/>
<line x1="589.8" y1="39.6" x2="589.8" y2="343.3" stroke="#fff" stroke-width="0.9"/>
<line x1="522.1" y1="49.3" x2="591.0" y2="49.3" stroke="#fff" stroke-width="0.9"/>
<line x1="522.1" y1="65.1" x2="591.0" y2="65.1" stroke="#fff" stroke-width="0.9"/>
<line x1="522.1" y1="81.0" x2="591.0" y2="81.0" stroke="#fff" stroke-width="0.9"/>
<line x1="522.1" y1="96.8" x2="591.0" y2="96.8" stroke="#fff" stroke-width="0.9"/>
<line x1="522.1" y1="112.6" x2="591.0" y2="112.6" stroke="#fff" stroke-width="0.9"/>
<line x1="522.1" y1="128.4" x2="591.0" y2="128.4" stroke="#fff" stroke-width="0.9"/>
<line x1="522.1" y1="144.3" x2="591.0" y2="144.3" stroke="#fff" stroke-width="0.9"/>
<line x1="522.1" y1="160.1" x2="591.0" y2="160.1" stroke="#fff" stroke-width="0.9"/>
<line x1="522.1" y1="175.9" x2="591.0" y2="175.9" stroke="#fff" stroke-width="0.9"/>
<line x1="522.1" y1="191.8" x2="591.0" y2="191.8" stroke="#fff" stroke-width="0.9"/>
<line x1="522.1" y1="207.6" x2="591.0" y2="207.6" stroke="#fff" stroke-width="0.9"/>
<line x1="522.1" y1="223.4" x2="591.0" y2="223.4" stroke="#fff" stroke-width="0.9"/>
<line x1="522.1" y1="239.3" x2="591.0" y2="239.3" stroke="#fff" stroke-width="0.9"/>
<line x1="522.1" y1="255.1" x2="591.0" y2="255.1" stroke="#fff" stroke-width="0.9"/>
<line x1="522.1" y1="270.9" x2="591.0" y2="270.9" stroke="#fff" stroke-width="0.9"/>
<line x1="522.1" y1="286.8" x2="591.0" y2="286.8" stroke="#fff" stroke-width="0.9"/>
<line x1="522.1" y1="302.6" x2="591.0" y2="302.6" stroke="#fff" stroke-width="0.9"/>
<line x1="522.1" y1="318.4" x2="591.0" y2="318.4" stroke="#fff" stroke-width="0.9"/>
<line x1="522.1" y1="334.2" x2="591.0" y2="334.2" stroke="#fff" stroke-width="0.9"/>
<rect x="608.5" y="38.6" width="68.6" height="303.6" fill="#f1f1f1"/>
<line x1="614.9" y1="38.6" x2="614.9" y2="342.2" stroke="#fff" stroke-width="0.55"/>
<line x1="624.2" y1="38.6" x2="624.2" y2="342.2" stroke="#fff" stroke-width="0.9"/>
<line x1="633.5" y1="38.6" x2="633.5" y2="342.2" stroke="#fff" stroke-width="0.55"/>
<line x1="642.8" y1="38.6" x2="642.8" y2="342.2" stroke="#fff" stroke-width="0.9"/>
<line x1="652.1" y1="38.6" x2="652.1" y2="342.2" stroke="#fff" stroke-width="0.55"/>
<line x1="661.4" y1="38.6" x2="661.4" y2="342.2" stroke="#fff" stroke-width="0.9"/>
<line x1="670.7" y1="38.6" x2="670.7" y2="342.2" stroke="#fff" stroke-width="0.55"/>
<line x1="608.5" y1="48.3" x2="677.1" y2="48.3" stroke="#fff" stroke-width="0.9"/>
<line x1="608.5" y1="64.1" x2="677.1" y2="64.1" stroke="#fff" stroke-width="0.9"/>
<line x1="608.5" y1="80.0" x2="677.1" y2="80.0" stroke="#fff" stroke-width="0.9"/>
<line x1="608.5" y1="95.8" x2="677.1" y2="95.8" stroke="#fff" stroke-width="0.9"/>
<line x1="608.5" y1="111.6" x2="677.1" y2="111.6" stroke="#fff" stroke-width="0.9"/>
<line x1="608.5" y1="127.4" x2="677.1" y2="127.4" stroke="#fff" stroke-width="0.9"/>
<line x1="608.5" y1="143.3" x2="677.1" y2="143.3" stroke="#fff" stroke-width="0.9"/>
<line x1="608.5" y1="159.1" x2="677.1" y2="159.1" stroke="#fff" stroke-width="0.9"/>
<line x1="608.5" y1="174.9" x2="677.1" y2="174.9" stroke="#fff" stroke-width="0.9"/>
<line x1="608.5" y1="190.8" x2="677.1" y2="190.8" stroke="#fff" stroke-width="0.9"/>
<line x1="608.5" y1="206.6" x2="677.1" y2="206.6" stroke="#fff" stroke-width="0.9"/>
<line x1="608.5" y1="222.4" x2="677.1" y2="222.4" stroke="#fff" stroke-width="0.9"/>
<line x1="608.5" y1="238.3" x2="677.1" y2="238.3" stroke="#fff" stroke-width="0.9"/>
<line x1="608.5" y1="254.1" x2="677.1" y2="254.1" stroke="#fff" stroke-width="0.9"/>
<line x1="608.5" y1="269.9" x2="677.1" y2="269.9" stroke="#fff" stroke-width="0.9"/>
<line x1="608.5" y1="285.8" x2="677.1" y2="285.8" stroke="#fff" stroke-width="0.9"/>
<line x1="608.5" y1="301.6" x2="677.1" y2="301.6" stroke="#fff" stroke-width="0.9"/>
<line x1="608.5" y1="317.4" x2="677.1" y2="317.4" stroke="#fff" stroke-width="0.9"/>
<line x1="608.5" y1="333.2" x2="677.1" y2="333.2" stroke="#fff" stroke-width="0.9"/>
<rect x="522.1" y="359.6" width="68.9" height="59.6" fill="#f1f1f1"/>
<line x1="524.6" y1="359.6" x2="524.6" y2="419.2" stroke="#fff" stroke-width="0.9"/>
<line x1="532.7" y1="359.6" x2="532.7" y2="419.2" stroke="#fff" stroke-width="0.55"/>
<line x1="540.9" y1="359.6" x2="540.9" y2="419.2" stroke="#fff" stroke-width="0.9"/>
<line x1="549.0" y1="359.6" x2="549.0" y2="419.2" stroke="#fff" stroke-width="0.55"/>
<line x1="557.2" y1="359.6" x2="557.2" y2="419.2" stroke="#fff" stroke-width="0.9"/>
<line x1="565.4" y1="359.6" x2="565.4" y2="419.2" stroke="#fff" stroke-width="0.55"/>
<line x1="573.5" y1="359.6" x2="573.5" y2="419.2" stroke="#fff" stroke-width="0.9"/>
<line x1="581.7" y1="359.6" x2="581.7" y2="419.2" stroke="#fff" stroke-width="0.55"/>
<line x1="589.8" y1="359.6" x2="589.8" y2="419.2" stroke="#fff" stroke-width="0.9"/>
<line x1="522.1" y1="368.0" x2="591.0" y2="368.0" stroke="#fff" stroke-width="0.9"/>
<line x1="522.1" y1="382.3" x2="591.0" y2="382.3" stroke="#fff" stroke-width="0.9"/>
<line x1="522.1" y1="396.5" x2="591.0" y2="396.5" stroke="#fff" stroke-width="0.9"/>
<line x1="522.1" y1="410.8" x2="591.0" y2="410.8" stroke="#fff" stroke-width="0.9"/>
<rect x="608.5" y="358.8" width="68.6" height="59.6" fill="#f1f1f1"/>
<line x1="614.9" y1="358.8" x2="614.9" y2="418.4" stroke="#fff" stroke-width="0.55"/>
<line x1="624.2" y1="358.8" x2="624.2" y2="418.4" stroke="#fff" stroke-width="0.9"/>
<line x1="633.5" y1="358.8" x2="633.5" y2="418.4" stroke="#fff" stroke-width="0.55"/>
<line x1="642.8" y1="358.8" x2="642.8" y2="418.4" stroke="#fff" stroke-width="0.9"/>
<line x1="652.1" y1="358.8" x2="652.1" y2="418.4" stroke="#fff" stroke-width="0.55"/>
<line x1="661.4" y1="358.8" x2="661.4" y2="418.4" stroke="#fff" stroke-width="0.9"/>
<line x1="670.7" y1="358.8" x2="670.7" y2="418.4" stroke="#fff" stroke-width="0.55"/>
<line x1="608.5" y1="367.2" x2="677.1" y2="367.2" stroke="#fff" stroke-width="0.9"/>
<line x1="608.5" y1="381.5" x2="677.1" y2="381.5" stroke="#fff" stroke-width="0.9"/>
<line x1="608.5" y1="395.7" x2="677.1" y2="395.7" stroke="#fff" stroke-width="0.9"/>
<line x1="608.5" y1="410.0" x2="677.1" y2="410.0" stroke="#fff" stroke-width="0.9"/>
<text x="368.3" y="54.0" font-size="10.6" fill="#222" textLength="144.7" lengthAdjust="spacingAndGlyphs">BASSO CD40 SIGNALING UP</text>
<line x1="518.0" y1="49.3" x2="521.7" y2="49.3" stroke="#555" stroke-width="0.8"/>
<text x="351.7" y="69.8" font-size="10.6" fill="#222" textLength="161.3" lengthAdjust="spacingAndGlyphs">GOBP PROC &amp; PRES PEPTIDE Ag</text>
<line x1="518.0" y1="65.1" x2="521.7" y2="65.1" stroke="#555" stroke-width="0.8"/>
<text x="318.7" y="85.7" font-size="10.6" fill="#222" textLength="194.3" lengthAdjust="spacingAndGlyphs">GOBP PROC &amp; PRES EXOG PEPTIDE Ag</text>
<line x1="518.0" y1="81.0" x2="521.7" y2="81.0" stroke="#555" stroke-width="0.8"/>
<text x="345.5" y="101.5" font-size="10.6" fill="#222" textLength="167.5" lengthAdjust="spacingAndGlyphs">GOBP PROC &amp; PRES OF EXOG Ag</text>
<line x1="518.0" y1="96.8" x2="521.7" y2="96.8" stroke="#555" stroke-width="0.8"/>
<text x="395.8" y="117.3" font-size="10.6" fill="#222" textLength="117.2" lengthAdjust="spacingAndGlyphs">GOBP Ag PROC &amp; PRES</text>
<line x1="518.0" y1="112.6" x2="521.7" y2="112.6" stroke="#555" stroke-width="0.8"/>
<text x="315.4" y="133.2" font-size="10.6" fill="#222" textLength="197.6" lengthAdjust="spacingAndGlyphs">GOMF MHC CLASS II PROT COMP BIND</text>
<line x1="518.0" y1="128.4" x2="521.7" y2="128.4" stroke="#555" stroke-width="0.8"/>
<text x="396.4" y="149.0" font-size="10.6" fill="#222" textLength="116.6" lengthAdjust="spacingAndGlyphs">KEGG Ag PROC &amp; PRES</text>
<line x1="518.0" y1="144.3" x2="521.7" y2="144.3" stroke="#555" stroke-width="0.8"/>
<text x="373.2" y="164.8" font-size="10.6" fill="#222" textLength="139.8" lengthAdjust="spacingAndGlyphs">WP ALLOGRAFT REJECTION</text>
<line x1="518.0" y1="160.1" x2="521.7" y2="160.1" stroke="#555" stroke-width="0.8"/>
<text x="306.7" y="180.7" font-size="10.6" fill="#222" textLength="206.3" lengthAdjust="spacingAndGlyphs">GOCC MHC CLASS II PROTEIN COMPLEX</text>
<line x1="518.0" y1="175.9" x2="521.7" y2="175.9" stroke="#555" stroke-width="0.8"/>
<text x="307.9" y="196.5" font-size="10.6" fill="#222" textLength="205.1" lengthAdjust="spacingAndGlyphs">GOBP PROC/PRES EXO PEP Ag via MHCII</text>
<line x1="518.0" y1="191.8" x2="521.7" y2="191.8" stroke="#555" stroke-width="0.8"/>
<text x="328.9" y="212.3" font-size="10.6" fill="#222" textLength="184.1" lengthAdjust="spacingAndGlyphs">WUNDER INFLAMM RESP &amp; CHOL UP</text>
<line x1="518.0" y1="207.6" x2="521.7" y2="207.6" stroke="#555" stroke-width="0.8"/>
<text x="332.4" y="228.1" font-size="10.6" fill="#222" textLength="180.6" lengthAdjust="spacingAndGlyphs">REACTOME IFN GAMMA SIGNALING</text>
<line x1="518.0" y1="223.4" x2="521.7" y2="223.4" stroke="#555" stroke-width="0.8"/>
<text x="360.4" y="244.0" font-size="10.6" fill="#222" textLength="152.6" lengthAdjust="spacingAndGlyphs">KEGG ALLOGRAFT REJECTION</text>
<line x1="518.0" y1="239.3" x2="521.7" y2="239.3" stroke="#555" stroke-width="0.8"/>
<text x="307.4" y="259.8" font-size="10.6" fill="#222" textLength="205.6" lengthAdjust="spacingAndGlyphs">KEGG MED REF Ag PROC/PRES via MHCII</text>
<line x1="518.0" y1="255.1" x2="521.7" y2="255.1" stroke="#555" stroke-width="0.8"/>
<text x="377.1" y="275.6" font-size="10.6" fill="#222" textLength="135.9" lengthAdjust="spacingAndGlyphs">REACTOME MHCII Ag PRES</text>
<line x1="518.0" y1="270.9" x2="521.7" y2="270.9" stroke="#555" stroke-width="0.8"/>
<text x="347.7" y="291.5" font-size="10.6" fill="#222" textLength="165.3" lengthAdjust="spacingAndGlyphs">GOBP POS REG of IMMUNE RESP</text>
<line x1="518.0" y1="286.8" x2="521.7" y2="286.8" stroke="#555" stroke-width="0.8"/>
<text x="333.3" y="307.3" font-size="10.6" fill="#222" textLength="179.7" lengthAdjust="spacingAndGlyphs">HALLMARK ALLOGRAFT REJECTION</text>
<line x1="518.0" y1="302.6" x2="521.7" y2="302.6" stroke="#555" stroke-width="0.8"/>
<text x="330.1" y="323.1" font-size="10.6" fill="#222" textLength="182.9" lengthAdjust="spacingAndGlyphs">GOBP POS REG IMM SYST PROCESS</text>
<line x1="518.0" y1="318.4" x2="521.7" y2="318.4" stroke="#555" stroke-width="0.8"/>
<text x="329.8" y="338.9" font-size="10.6" fill="#222" textLength="183.2" lengthAdjust="spacingAndGlyphs">MORI IMMATURE B LYMPHOCYTE DN</text>
<line x1="518.0" y1="334.2" x2="521.7" y2="334.2" stroke="#555" stroke-width="0.8"/>
<text x="376.2" y="372.7" font-size="10.6" fill="#222" textLength="136.8" lengthAdjust="spacingAndGlyphs">SANSOM APC TARGETS DN</text>
<line x1="518.0" y1="368.0" x2="521.7" y2="368.0" stroke="#555" stroke-width="0.8"/>
<text x="387.6" y="387.0" font-size="10.6" fill="#222" textLength="125.4" lengthAdjust="spacingAndGlyphs">HALLMARK E2F TARGETS</text>
<line x1="518.0" y1="382.3" x2="521.7" y2="382.3" stroke="#555" stroke-width="0.8"/>
<text x="339.9" y="401.2" font-size="10.6" fill="#222" textLength="173.1" lengthAdjust="spacingAndGlyphs">MARSON BOUND BY E2F4 UNSTIM</text>
<line x1="518.0" y1="396.5" x2="521.7" y2="396.5" stroke="#555" stroke-width="0.8"/>
<text x="381.5" y="415.5" font-size="10.6" fill="#222" textLength="131.5" lengthAdjust="spacingAndGlyphs">FISCHER DREAM TARGETS</text>
<line x1="518.0" y1="410.8" x2="521.7" y2="410.8" stroke="#555" stroke-width="0.8"/>
<text x="393.7" y="355.3" font-size="10.8" fill="#222" textLength="104.2" lengthAdjust="spacingAndGlyphs">Oncogenic signaling</text>
<circle cx="572.6" cy="49.3" r="6.2" fill="#f45d3b" stroke="#2a2a2a" stroke-width="0.55"/>
<circle cx="572.1" cy="65.1" r="2.5" fill="#f4613f" stroke="#2a2a2a" stroke-width="0.55"/>
<circle cx="571.8" cy="81.0" r="2.2" fill="#f4613f" stroke="#2a2a2a" stroke-width="0.55"/>
<circle cx="571.8" cy="96.8" r="2.2" fill="#f4613f" stroke="#2a2a2a" stroke-width="0.55"/>
<circle cx="571.6" cy="112.6" r="2.2" fill="#f4613f" stroke="#2a2a2a" stroke-width="0.55"/>
<circle cx="571.6" cy="128.4" r="1.2" fill="#f4613f" stroke="#2a2a2a" stroke-width="0.55"/>
<circle cx="571.3" cy="144.3" r="4.0" fill="#f45d3b" stroke="#2a2a2a" stroke-width="0.55"/>
<circle cx="571.3" cy="160.1" r="3.5" fill="#f4613f" stroke="#2a2a2a" stroke-width="0.55"/>
<circle cx="571.6" cy="175.9" r="1.2" fill="#f4613f" stroke="#2a2a2a" stroke-width="0.55"/>
<circle cx="571.5" cy="191.8" r="1.2" fill="#f4613f" stroke="#2a2a2a" stroke-width="0.55"/>
<circle cx="571.1" cy="207.6" r="3.2" fill="#f4613f" stroke="#2a2a2a" stroke-width="0.55"/>
<circle cx="570.8" cy="223.4" r="3.0" fill="#f4613f" stroke="#2a2a2a" stroke-width="0.55"/>
<circle cx="570.8" cy="239.3" r="3.5" fill="#f4613f" stroke="#2a2a2a" stroke-width="0.55"/>
<circle cx="570.8" cy="255.1" r="4.2" fill="#f4613f" stroke="#2a2a2a" stroke-width="0.55"/>
<circle cx="570.8" cy="270.9" r="3.5" fill="#f4613f" stroke="#2a2a2a" stroke-width="0.55"/>
<circle cx="570.3" cy="286.8" r="2.5" fill="#f4613f" stroke="#2a2a2a" stroke-width="0.55"/>
<circle cx="570.6" cy="302.6" r="4.5" fill="#f4613f" stroke="#2a2a2a" stroke-width="0.55"/>
<circle cx="570.1" cy="318.4" r="2.5" fill="#f4613f" stroke="#2a2a2a" stroke-width="0.55"/>
<circle cx="544.0" cy="334.2" r="2.5" fill="#8c6af3" stroke="#2a2a2a" stroke-width="0.55"/>
<circle cx="655.5" cy="48.3" r="2.5" fill="#f6745a" stroke="#2a2a2a" stroke-width="0.55"/>
<circle cx="659.0" cy="64.1" r="3.5" fill="#f05030" stroke="#2a2a2a" stroke-width="0.55"/>
<circle cx="655.5" cy="80.0" r="2.2" fill="#f6705a" stroke="#2a2a2a" stroke-width="0.55"/>
<circle cx="658.5" cy="95.8" r="3.2" fill="#f05535" stroke="#2a2a2a" stroke-width="0.55"/>
<circle cx="656.7" cy="111.6" r="3.0" fill="#f26245" stroke="#2a2a2a" stroke-width="0.55"/>
<circle cx="655.5" cy="127.4" r="2.0" fill="#f67555" stroke="#2a2a2a" stroke-width="0.55"/>
<circle cx="657.0" cy="143.3" r="2.7" fill="#f36545" stroke="#2a2a2a" stroke-width="0.55"/>
<circle cx="658.2" cy="159.1" r="3.2" fill="#f05535" stroke="#2a2a2a" stroke-width="0.55"/>
<circle cx="657.2" cy="174.9" r="2.7" fill="#f36545" stroke="#2a2a2a" stroke-width="0.55"/>
<circle cx="656.1" cy="190.8" r="2.4" fill="#f46848" stroke="#2a2a2a" stroke-width="0.55"/>
<circle cx="657.0" cy="206.6" r="2.7" fill="#f36545" stroke="#2a2a2a" stroke-width="0.55"/>
<circle cx="657.0" cy="222.4" r="2.7" fill="#f36545" stroke="#2a2a2a" stroke-width="0.55"/>
<circle cx="658.2" cy="238.3" r="3.0" fill="#ee5232" stroke="#2a2a2a" stroke-width="0.55"/>
<circle cx="655.5" cy="254.1" r="2.2" fill="#f46a4a" stroke="#2a2a2a" stroke-width="0.55"/>
<circle cx="652.3" cy="269.9" r="1.2" fill="#f68060" stroke="#2a2a2a" stroke-width="0.55"/>
<circle cx="657.7" cy="285.8" r="5.2" fill="#f46242" stroke="#2a2a2a" stroke-width="0.55"/>
<circle cx="659.5" cy="301.6" r="4.5" fill="#ec4424" stroke="#2a2a2a" stroke-width="0.55"/>
<circle cx="657.2" cy="317.4" r="6.0" fill="#f25a3a" stroke="#2a2a2a" stroke-width="0.55"/>
<circle cx="631.9" cy="333.2" r="2.0" fill="#9373f3" stroke="#2a2a2a" stroke-width="0.55"/>
<circle cx="569.9" cy="368.0" r="2.7" fill="#f46440" stroke="#2a2a2a" stroke-width="0.55"/>
<circle cx="544.0" cy="382.3" r="3.5" fill="#8564f3" stroke="#2a2a2a" stroke-width="0.55"/>
<circle cx="544.0" cy="396.5" r="1.2" fill="#7e5cf0" stroke="#2a2a2a" stroke-width="0.55"/>
<circle cx="542.5" cy="410.8" r="6.0" fill="#7f5cf2" stroke="#2a2a2a" stroke-width="0.55"/>
<circle cx="654.2" cy="367.2" r="1.5" fill="#f67858" stroke="#2a2a2a" stroke-width="0.55"/>
<circle cx="630.4" cy="381.5" r="3.2" fill="#8d6df3" stroke="#2a2a2a" stroke-width="0.55"/>
<circle cx="632.6" cy="395.7" r="2.7" fill="#9878f4" stroke="#2a2a2a" stroke-width="0.55"/>
<circle cx="631.9" cy="410.0" r="6.0" fill="#a283f5" stroke="#2a2a2a" stroke-width="0.55"/>
<text x="524.6" y="427.8" font-size="9.2" fill="#333" text-anchor="middle">−5.0</text>
<text x="557.2" y="427.8" font-size="9.2" fill="#333" text-anchor="middle">0</text>
<text x="589.9" y="427.8" font-size="9.2" fill="#333" text-anchor="middle">5.0</text>
<text x="624.2" y="427.8" font-size="9.2" fill="#333" text-anchor="middle">−3</text>
<text x="642.8" y="427.8" font-size="9.2" fill="#333" text-anchor="middle">0</text>
<text x="661.4" y="427.8" font-size="9.2" fill="#333" text-anchor="middle">3</text>
<line x1="523.5" y1="552.1" x2="557.3" y2="552.1" stroke="#555" stroke-width="0.8"/>
<line x1="644.0" y1="552.1" x2="678.2" y2="552.1" stroke="#555" stroke-width="0.8"/>
<text x="566.2" y="555.8" font-size="10.7" fill="#222" textLength="68.3" lengthAdjust="spacingAndGlyphs">ER<tspan font-size="7" dy="-3.5">+</tspan><tspan dy="3.5">/luminal A</tspan></text>
<text x="528.1" y="575.7" font-size="10.8" fill="#222" textLength="50.3" lengthAdjust="spacingAndGlyphs">METABRIC</text>
<text x="630.0" y="575.7" font-size="10.8" fill="#222" textLength="28.0" lengthAdjust="spacingAndGlyphs">TCGA</text>
<text x="409.5" y="574.2" font-size="10.8" fill="#222" textLength="31.0" lengthAdjust="spacingAndGlyphs">Breast</text>
<rect x="520.2" y="578.1" width="69.7" height="225.5" fill="#f1f1f1"/>
<line x1="527.6" y1="578.1" x2="527.6" y2="803.6" stroke="#fff" stroke-width="0.55"/>
<line x1="536.9" y1="578.1" x2="536.9" y2="803.6" stroke="#fff" stroke-width="0.9"/>
<line x1="546.1" y1="578.1" x2="546.1" y2="803.6" stroke="#fff" stroke-width="0.55"/>
<line x1="555.4" y1="578.1" x2="555.4" y2="803.6" stroke="#fff" stroke-width="0.9"/>
<line x1="564.6" y1="578.1" x2="564.6" y2="803.6" stroke="#fff" stroke-width="0.55"/>
<line x1="573.9" y1="578.1" x2="573.9" y2="803.6" stroke="#fff" stroke-width="0.9"/>
<line x1="583.1" y1="578.1" x2="583.1" y2="803.6" stroke="#fff" stroke-width="0.55"/>
<line x1="520.2" y1="590.3" x2="589.9" y2="590.3" stroke="#fff" stroke-width="0.9"/>
<line x1="520.2" y1="610.5" x2="589.9" y2="610.5" stroke="#fff" stroke-width="0.9"/>
<line x1="520.2" y1="630.7" x2="589.9" y2="630.7" stroke="#fff" stroke-width="0.9"/>
<line x1="520.2" y1="650.9" x2="589.9" y2="650.9" stroke="#fff" stroke-width="0.9"/>
<line x1="520.2" y1="671.1" x2="589.9" y2="671.1" stroke="#fff" stroke-width="0.9"/>
<line x1="520.2" y1="691.2" x2="589.9" y2="691.2" stroke="#fff" stroke-width="0.9"/>
<line x1="520.2" y1="711.4" x2="589.9" y2="711.4" stroke="#fff" stroke-width="0.9"/>
<line x1="520.2" y1="731.6" x2="589.9" y2="731.6" stroke="#fff" stroke-width="0.9"/>
<line x1="520.2" y1="751.8" x2="589.9" y2="751.8" stroke="#fff" stroke-width="0.9"/>
<line x1="520.2" y1="772.0" x2="589.9" y2="772.0" stroke="#fff" stroke-width="0.9"/>
<line x1="520.2" y1="792.2" x2="589.9" y2="792.2" stroke="#fff" stroke-width="0.9"/>
<rect x="609.6" y="578.1" width="67.5" height="225.5" fill="#f1f1f1"/>
<line x1="611.0" y1="578.1" x2="611.0" y2="803.6" stroke="#fff" stroke-width="0.9"/>
<line x1="619.2" y1="578.1" x2="619.2" y2="803.6" stroke="#fff" stroke-width="0.55"/>
<line x1="627.4" y1="578.1" x2="627.4" y2="803.6" stroke="#fff" stroke-width="0.9"/>
<line x1="635.6" y1="578.1" x2="635.6" y2="803.6" stroke="#fff" stroke-width="0.55"/>
<line x1="643.8" y1="578.1" x2="643.8" y2="803.6" stroke="#fff" stroke-width="0.9"/>
<line x1="652.0" y1="578.1" x2="652.0" y2="803.6" stroke="#fff" stroke-width="0.55"/>
<line x1="660.2" y1="578.1" x2="660.2" y2="803.6" stroke="#fff" stroke-width="0.9"/>
<line x1="668.4" y1="578.1" x2="668.4" y2="803.6" stroke="#fff" stroke-width="0.55"/>
<line x1="676.6" y1="578.1" x2="676.6" y2="803.6" stroke="#fff" stroke-width="0.9"/>
<line x1="609.6" y1="590.3" x2="677.1" y2="590.3" stroke="#fff" stroke-width="0.9"/>
<line x1="609.6" y1="610.5" x2="677.1" y2="610.5" stroke="#fff" stroke-width="0.9"/>
<line x1="609.6" y1="630.7" x2="677.1" y2="630.7" stroke="#fff" stroke-width="0.9"/>
<line x1="609.6" y1="650.9" x2="677.1" y2="650.9" stroke="#fff" stroke-width="0.9"/>
<line x1="609.6" y1="671.1" x2="677.1" y2="671.1" stroke="#fff" stroke-width="0.9"/>
<line x1="609.6" y1="691.2" x2="677.1" y2="691.2" stroke="#fff" stroke-width="0.9"/>
<line x1="609.6" y1="711.4" x2="677.1" y2="711.4" stroke="#fff" stroke-width="0.9"/>
<line x1="609.6" y1="731.6" x2="677.1" y2="731.6" stroke="#fff" stroke-width="0.9"/>
<line x1="609.6" y1="751.8" x2="677.1" y2="751.8" stroke="#fff" stroke-width="0.9"/>
<line x1="609.6" y1="772.0" x2="677.1" y2="772.0" stroke="#fff" stroke-width="0.9"/>
<line x1="609.6" y1="792.2" x2="677.1" y2="792.2" stroke="#fff" stroke-width="0.9"/>
<rect x="520.2" y="818.7" width="69.7" height="41.9" fill="#f1f1f1"/>
<line x1="527.6" y1="818.7" x2="527.6" y2="860.6" stroke="#fff" stroke-width="0.55"/>
<line x1="536.9" y1="818.7" x2="536.9" y2="860.6" stroke="#fff" stroke-width="0.9"/>
<line x1="546.1" y1="818.7" x2="546.1" y2="860.6" stroke="#fff" stroke-width="0.55"/>
<line x1="555.4" y1="818.7" x2="555.4" y2="860.6" stroke="#fff" stroke-width="0.9"/>
<line x1="564.6" y1="818.7" x2="564.6" y2="860.6" stroke="#fff" stroke-width="0.55"/>
<line x1="573.9" y1="818.7" x2="573.9" y2="860.6" stroke="#fff" stroke-width="0.9"/>
<line x1="583.1" y1="818.7" x2="583.1" y2="860.6" stroke="#fff" stroke-width="0.55"/>
<line x1="520.2" y1="826.6" x2="589.9" y2="826.6" stroke="#fff" stroke-width="0.9"/>
<line x1="520.2" y1="839.7" x2="589.9" y2="839.7" stroke="#fff" stroke-width="0.9"/>
<line x1="520.2" y1="852.8" x2="589.9" y2="852.8" stroke="#fff" stroke-width="0.9"/>
<rect x="609.6" y="818.7" width="67.5" height="41.9" fill="#f1f1f1"/>
<line x1="611.0" y1="818.7" x2="611.0" y2="860.6" stroke="#fff" stroke-width="0.9"/>
<line x1="619.2" y1="818.7" x2="619.2" y2="860.6" stroke="#fff" stroke-width="0.55"/>
<line x1="627.4" y1="818.7" x2="627.4" y2="860.6" stroke="#fff" stroke-width="0.9"/>
<line x1="635.6" y1="818.7" x2="635.6" y2="860.6" stroke="#fff" stroke-width="0.55"/>
<line x1="643.8" y1="818.7" x2="643.8" y2="860.6" stroke="#fff" stroke-width="0.9"/>
<line x1="652.0" y1="818.7" x2="652.0" y2="860.6" stroke="#fff" stroke-width="0.55"/>
<line x1="660.2" y1="818.7" x2="660.2" y2="860.6" stroke="#fff" stroke-width="0.9"/>
<line x1="668.4" y1="818.7" x2="668.4" y2="860.6" stroke="#fff" stroke-width="0.55"/>
<line x1="676.6" y1="818.7" x2="676.6" y2="860.6" stroke="#fff" stroke-width="0.9"/>
<line x1="609.6" y1="826.6" x2="677.1" y2="826.6" stroke="#fff" stroke-width="0.9"/>
<line x1="609.6" y1="839.7" x2="677.1" y2="839.7" stroke="#fff" stroke-width="0.9"/>
<line x1="609.6" y1="852.8" x2="677.1" y2="852.8" stroke="#fff" stroke-width="0.9"/>
<text x="344.7" y="596.8" font-size="10.9" fill="#222" textLength="167.1" lengthAdjust="spacingAndGlyphs">MCBRYAN PUB BREAST 4 5WK UP</text>
<line x1="515.3" y1="592.7" x2="518.8" y2="592.7" stroke="#555" stroke-width="0.8"/>
<text x="341.7" y="617.0" font-size="10.9" fill="#222" textLength="170.1" lengthAdjust="spacingAndGlyphs">HOLLERN SQUAMOUS BR TUMOR</text>
<line x1="515.3" y1="612.9" x2="518.8" y2="612.9" stroke="#555" stroke-width="0.8"/>
<text x="361.3" y="637.2" font-size="10.9" fill="#222" textLength="150.5" lengthAdjust="spacingAndGlyphs">LIM MAMMARY STEM CELL UP</text>
<line x1="515.3" y1="633.1" x2="518.8" y2="633.1" stroke="#555" stroke-width="0.8"/>
<text x="332.9" y="657.4" font-size="10.9" fill="#222" textLength="178.9" lengthAdjust="spacingAndGlyphs">CHARAFE BR CAN LUM v BASAL DN</text>
<line x1="515.3" y1="653.3" x2="518.8" y2="653.3" stroke="#555" stroke-width="0.8"/>
<text x="370.1" y="677.6" font-size="10.9" fill="#222" textLength="141.7" lengthAdjust="spacingAndGlyphs">MCBRYAN PUB BR 6 7WK DN</text>
<line x1="515.3" y1="673.5" x2="518.8" y2="673.5" stroke="#555" stroke-width="0.8"/>
<text x="343.8" y="697.8" font-size="10.9" fill="#222" textLength="168.0" lengthAdjust="spacingAndGlyphs">SMID BREAST CANCER BASAL UP</text>
<line x1="515.3" y1="693.6" x2="518.8" y2="693.6" stroke="#555" stroke-width="0.8"/>
<text x="328.0" y="718.0" font-size="10.9" fill="#222" textLength="183.8" lengthAdjust="spacingAndGlyphs">TURASHVILI BR D CAR v D NORM DN</text>
<line x1="515.3" y1="713.8" x2="518.8" y2="713.8" stroke="#555" stroke-width="0.8"/>
<text x="332.4" y="738.1" font-size="10.9" fill="#222" textLength="179.4" lengthAdjust="spacingAndGlyphs">SMID BR CAN RELAPSE IN BONE DN</text>
<line x1="515.3" y1="734.0" x2="518.8" y2="734.0" stroke="#555" stroke-width="0.8"/>
<text x="328.0" y="758.3" font-size="10.9" fill="#222" textLength="183.8" lengthAdjust="spacingAndGlyphs">TURASHVILI BR DCAR v LOBNORM D</text>
<line x1="515.3" y1="754.2" x2="518.8" y2="754.2" stroke="#555" stroke-width="0.8"/>
<text x="354.7" y="778.5" font-size="10.9" fill="#222" textLength="157.1" lengthAdjust="spacingAndGlyphs">SMID BR CAN NORMAL LIKE UP</text>
<line x1="515.3" y1="774.4" x2="518.8" y2="774.4" stroke="#555" stroke-width="0.8"/>
<text x="343.8" y="798.7" font-size="10.9" fill="#222" textLength="168.0" lengthAdjust="spacingAndGlyphs">SMID BREAST CANCER LUM B DN</text>
<line x1="515.3" y1="794.6" x2="518.8" y2="794.6" stroke="#555" stroke-width="0.8"/>
<text x="341.7" y="830.6" font-size="10.9" fill="#222" textLength="170.1" lengthAdjust="spacingAndGlyphs">MARTINEZ RB1 &amp; TP53 TARGET DN</text>
<line x1="515.3" y1="826.6" x2="518.8" y2="826.6" stroke="#555" stroke-width="0.8"/>
<text x="347.3" y="843.7" font-size="10.9" fill="#222" textLength="164.5" lengthAdjust="spacingAndGlyphs">CHICAS RB1 TARGETS GROWING</text>
<line x1="515.3" y1="839.7" x2="518.8" y2="839.7" stroke="#555" stroke-width="0.8"/>
<text x="335.9" y="856.8" font-size="10.9" fill="#222" textLength="175.9" lengthAdjust="spacingAndGlyphs">HALLMARK TNFA SIGNAL VIA NFKB</text>
<line x1="515.3" y1="852.8" x2="518.8" y2="852.8" stroke="#555" stroke-width="0.8"/>
<text x="332.1" y="812.3" font-size="10.8" fill="#222" textLength="179.9" lengthAdjust="spacingAndGlyphs">Inflammatory/oncogenic/mitogenic</text>
<circle cx="540.6" cy="590.3" r="1.7" fill="#7b57f4" stroke="#2a2a2a" stroke-width="0.55"/>
<circle cx="540.1" cy="610.5" r="1.5" fill="#7b57f4" stroke="#2a2a2a" stroke-width="0.55"/>
<circle cx="540.1" cy="630.7" r="2.0" fill="#7b57f4" stroke="#2a2a2a" stroke-width="0.55"/>
<circle cx="539.8" cy="650.9" r="2.0" fill="#7b57f4" stroke="#2a2a2a" stroke-width="0.55"/>
<circle cx="539.6" cy="671.1" r="1.2" fill="#7b57f4" stroke="#2a2a2a" stroke-width="0.55"/>
<circle cx="538.8" cy="691.2" r="2.7" fill="#7452f4" stroke="#2a2a2a" stroke-width="0.55"/>
<circle cx="538.3" cy="711.4" r="3.0" fill="#6e4cf4" stroke="#2a2a2a" stroke-width="0.55"/>
<circle cx="538.1" cy="731.6" r="2.7" fill="#6e4cf4" stroke="#2a2a2a" stroke-width="0.55"/>
<circle cx="537.3" cy="751.8" r="3.0" fill="#6a48f4" stroke="#2a2a2a" stroke-width="0.55"/>
<circle cx="536.3" cy="772.0" r="4.0" fill="#5533f4" stroke="#2a2a2a" stroke-width="0.55"/>
<circle cx="533.9" cy="792.2" r="5.7" fill="#0a00ee" stroke="#2a2a2a" stroke-width="0.55"/>
<circle cx="627.4" cy="590.3" r="3.2" fill="#6a48f4" stroke="#2a2a2a" stroke-width="0.55"/>
<circle cx="627.4" cy="610.5" r="2.5" fill="#6e4ef4" stroke="#2a2a2a" stroke-width="0.55"/>
<circle cx="624.0" cy="630.7" r="5.7" fill="#2810f2" stroke="#2a2a2a" stroke-width="0.55"/>
<circle cx="625.7" cy="650.9" r="4.5" fill="#5535f4" stroke="#2a2a2a" stroke-width="0.55"/>
<circle cx="628.7" cy="671.1" r="1.2" fill="#7050f4" stroke="#2a2a2a" stroke-width="0.55"/>
<circle cx="625.4" cy="691.2" r="5.5" fill="#4a2af3" stroke="#2a2a2a" stroke-width="0.55"/>
<circle cx="626.4" cy="711.4" r="3.2" fill="#5a3af4" stroke="#2a2a2a" stroke-width="0.55"/>
<circle cx="626.2" cy="731.6" r="3.6" fill="#5a3af4" stroke="#2a2a2a" stroke-width="0.55"/>
<circle cx="626.7" cy="751.8" r="2.5" fill="#6646f4" stroke="#2a2a2a" stroke-width="0.55"/>
<circle cx="623.5" cy="772.0" r="5.7" fill="#1c0cf2" stroke="#2a2a2a" stroke-width="0.55"/>
<circle cx="623.0" cy="792.2" r="5.7" fill="#0800ee" stroke="#2a2a2a" stroke-width="0.55"/>
<circle cx="541.1" cy="826.6" r="1.5" fill="#7f5ff4" stroke="#2a2a2a" stroke-width="0.55"/>
<circle cx="540.6" cy="839.7" r="1.5" fill="#7f5ff4" stroke="#2a2a2a" stroke-width="0.55"/>
<circle cx="539.8" cy="852.8" r="6.0" fill="#8464f6" stroke="#2a2a2a" stroke-width="0.55"/>
<circle cx="630.4" cy="826.6" r="3.7" fill="#a080f5" stroke="#2a2a2a" stroke-width="0.55"/>
<circle cx="626.4" cy="839.7" r="6.0" fill="#6a4af4" stroke="#2a2a2a" stroke-width="0.55"/>
<circle cx="630.4" cy="852.8" r="1.5" fill="#8060f4" stroke="#2a2a2a" stroke-width="0.55"/>
<text x="527.6" y="872.1" font-size="9.2" fill="#333" text-anchor="middle">−2.5</text>
<text x="555.5" y="872.1" font-size="9.2" fill="#333" text-anchor="middle">0</text>
<text x="583.4" y="872.1" font-size="9.2" fill="#333" text-anchor="middle">2.5</text>
<text x="611.4" y="872.1" font-size="9.2" fill="#333" text-anchor="middle">−4</text>
<text x="627.6" y="872.1" font-size="9.2" fill="#333" text-anchor="middle">−2</text>
<text x="643.8" y="872.1" font-size="9.2" fill="#333" text-anchor="middle">0</text>
<text x="660.0" y="872.1" font-size="9.2" fill="#333" text-anchor="middle">2</text>
<text x="676.2" y="872.1" font-size="9.2" fill="#333" text-anchor="middle">4</text>
<text x="433.2" y="436.5" font-size="7.2" fill="#333" textLength="28.8" lengthAdjust="spacingAndGlyphs">Younger</text>
<text x="488.9" y="436.5" font-size="7.2" fill="#333" textLength="19.9" lengthAdjust="spacingAndGlyphs">Older</text>
<rect x="435.5" y="441.3" width="71.5" height="1.8" fill="url(#gArr)"/>
<path d="M433.3 442.2 l5.5 -3.2 l-1.2 3.2 l1.2 3.2z" fill="#56606e"/>
<path d="M509.3 442.2 l-5.5 -3.2 l1.2 3.2 l-1.2 3.2z" fill="#56606e"/>
<rect x="433.2" y="448.0" width="76.0" height="14.9" fill="url(#gGen)"/>
<rect x="514.9" y="448.0" width="76.2" height="14.9" fill="url(#gcM)"/>
<line x1="516.3" y1="448.0" x2="516.3" y2="450.6" stroke="#fff" stroke-width="0.7"/>
<line x1="516.3" y1="460.3" x2="516.3" y2="462.9" stroke="#fff" stroke-width="0.7"/>
<text x="516.3" y="475.0" font-size="9.2" fill="#333" text-anchor="middle">−3</text>
<line x1="528.2" y1="448.0" x2="528.2" y2="450.6" stroke="#fff" stroke-width="0.7"/>
<line x1="528.2" y1="460.3" x2="528.2" y2="462.9" stroke="#fff" stroke-width="0.7"/>
<text x="528.2" y="475.0" font-size="9.2" fill="#333" text-anchor="middle">−2</text>
<line x1="540.1" y1="448.0" x2="540.1" y2="450.6" stroke="#fff" stroke-width="0.7"/>
<line x1="540.1" y1="460.3" x2="540.1" y2="462.9" stroke="#fff" stroke-width="0.7"/>
<text x="540.1" y="475.0" font-size="9.2" fill="#333" text-anchor="middle">−1</text>
<line x1="552.0" y1="448.0" x2="552.0" y2="450.6" stroke="#fff" stroke-width="0.7"/>
<line x1="552.0" y1="460.3" x2="552.0" y2="462.9" stroke="#fff" stroke-width="0.7"/>
<text x="552.0" y="475.0" font-size="9.2" fill="#333" text-anchor="middle">0</text>
<line x1="563.9" y1="448.0" x2="563.9" y2="450.6" stroke="#fff" stroke-width="0.7"/>
<line x1="563.9" y1="460.3" x2="563.9" y2="462.9" stroke="#fff" stroke-width="0.7"/>
<text x="563.9" y="475.0" font-size="9.2" fill="#333" text-anchor="middle">1</text>
<line x1="575.8" y1="448.0" x2="575.8" y2="450.6" stroke="#fff" stroke-width="0.7"/>
<line x1="575.8" y1="460.3" x2="575.8" y2="462.9" stroke="#fff" stroke-width="0.7"/>
<text x="575.8" y="475.0" font-size="9.2" fill="#333" text-anchor="middle">2</text>
<line x1="587.7" y1="448.0" x2="587.7" y2="450.6" stroke="#fff" stroke-width="0.7"/>
<line x1="587.7" y1="460.3" x2="587.7" y2="462.9" stroke="#fff" stroke-width="0.7"/>
<text x="587.7" y="475.0" font-size="9.2" fill="#333" text-anchor="middle">3</text>
<rect x="608.0" y="448.0" width="76.0" height="14.9" fill="url(#gcT)"/>
<line x1="623.8" y1="448.0" x2="623.8" y2="450.6" stroke="#fff" stroke-width="0.7"/>
<line x1="623.8" y1="460.3" x2="623.8" y2="462.9" stroke="#fff" stroke-width="0.7"/>
<text x="623.8" y="475.0" font-size="9.2" fill="#333" text-anchor="middle">−2</text>
<line x1="645.4" y1="448.0" x2="645.4" y2="450.6" stroke="#fff" stroke-width="0.7"/>
<line x1="645.4" y1="460.3" x2="645.4" y2="462.9" stroke="#fff" stroke-width="0.7"/>
<text x="645.4" y="475.0" font-size="9.2" fill="#333" text-anchor="middle">0</text>
<line x1="667.0" y1="448.0" x2="667.0" y2="450.6" stroke="#fff" stroke-width="0.7"/>
<line x1="667.0" y1="460.3" x2="667.0" y2="462.9" stroke="#fff" stroke-width="0.7"/>
<text x="667.0" y="475.0" font-size="9.2" fill="#333" text-anchor="middle">2</text>
<text x="575.8" y="444.5" font-size="10.6" fill="#222" textLength="51.8" lengthAdjust="spacingAndGlyphs">GSEA NES</text>
<text x="549.6" y="495.2" font-size="10.6" fill="#222" textLength="111.7" lengthAdjust="spacingAndGlyphs">−log<tspan font-size="6.5" dy="2.2">10</tspan><tspan dy="-2.2">(FDR-adjusted </tspan><tspan font-style="italic">P</tspan>)</text>
<rect x="517.7" y="498.4" width="14.7" height="14.7" fill="#ebebeb"/>
<circle cx="525.1" cy="505.8" r="3.0" fill="none" stroke="#3a3a3a" stroke-width="0.75"/>
<text x="525.1" y="525.4" font-size="9.2" fill="#333" text-anchor="middle">5</text>
<rect x="537.3" y="498.4" width="14.7" height="14.7" fill="#ebebeb"/>
<circle cx="544.6" cy="505.8" r="3.8" fill="none" stroke="#3a3a3a" stroke-width="0.75"/>
<text x="544.6" y="525.4" font-size="9.2" fill="#333" text-anchor="middle">10</text>
<rect x="556.8" y="498.4" width="14.7" height="14.7" fill="#ebebeb"/>
<circle cx="564.1" cy="505.8" r="4.5" fill="none" stroke="#3a3a3a" stroke-width="0.75"/>
<text x="564.1" y="525.4" font-size="9.2" fill="#333" text-anchor="middle">15</text>
<rect x="575.9" y="498.4" width="14.7" height="14.7" fill="#ebebeb"/>
<circle cx="583.2" cy="505.8" r="5.2" fill="none" stroke="#3a3a3a" stroke-width="0.75"/>
<text x="583.2" y="525.4" font-size="9.2" fill="#333" text-anchor="middle">20</text>
<rect x="609.1" y="498.4" width="14.7" height="14.7" fill="#ebebeb"/>
<circle cx="616.5" cy="505.8" r="3.0" fill="none" stroke="#3a3a3a" stroke-width="0.75"/>
<text x="616.5" y="525.4" font-size="9.2" fill="#333" text-anchor="middle">10</text>
<rect x="627.5" y="498.4" width="14.7" height="14.7" fill="#ebebeb"/>
<circle cx="634.9" cy="505.8" r="3.8" fill="none" stroke="#3a3a3a" stroke-width="0.75"/>
<text x="634.9" y="525.4" font-size="9.2" fill="#333" text-anchor="middle">20</text>
<rect x="646.7" y="498.4" width="14.7" height="14.7" fill="#ebebeb"/>
<circle cx="654.1" cy="505.8" r="4.5" fill="none" stroke="#3a3a3a" stroke-width="0.75"/>
<text x="654.1" y="525.4" font-size="9.2" fill="#333" text-anchor="middle">30</text>
<rect x="664.7" y="498.4" width="14.7" height="14.7" fill="#ebebeb"/>
<circle cx="672.1" cy="505.8" r="5.2" fill="none" stroke="#3a3a3a" stroke-width="0.75"/>
<text x="672.1" y="525.4" font-size="9.2" fill="#333" text-anchor="middle">40</text>
<text x="433.2" y="881.5" font-size="7.2" fill="#333" textLength="28.8" lengthAdjust="spacingAndGlyphs">Younger</text>
<text x="488.9" y="881.5" font-size="7.2" fill="#333" textLength="19.9" lengthAdjust="spacingAndGlyphs">Older</text>
<rect x="435.5" y="887.0" width="71.5" height="1.8" fill="url(#gArr)"/>
<path d="M433.3 887.9 l5.5 -3.2 l-1.2 3.2 l1.2 3.2z" fill="#56606e"/>
<path d="M509.3 887.9 l-5.5 -3.2 l1.2 3.2 l-1.2 3.2z" fill="#56606e"/>
<rect x="433.2" y="893.3" width="76.0" height="15.4" fill="url(#gGen)"/>
<rect x="515.2" y="893.3" width="77.0" height="15.4" fill="url(#gdM)"/>
<line x1="526.2" y1="893.3" x2="526.2" y2="895.9" stroke="#fff" stroke-width="0.7"/>
<line x1="526.2" y1="906.1" x2="526.2" y2="908.7" stroke="#fff" stroke-width="0.7"/>
<text x="526.2" y="920.8" font-size="9.2" fill="#333" text-anchor="middle">−2</text>
<line x1="539.6" y1="893.3" x2="539.6" y2="895.9" stroke="#fff" stroke-width="0.7"/>
<line x1="539.6" y1="906.1" x2="539.6" y2="908.7" stroke="#fff" stroke-width="0.7"/>
<text x="539.6" y="920.8" font-size="9.2" fill="#333" text-anchor="middle">−1</text>
<line x1="553.0" y1="893.3" x2="553.0" y2="895.9" stroke="#fff" stroke-width="0.7"/>
<line x1="553.0" y1="906.1" x2="553.0" y2="908.7" stroke="#fff" stroke-width="0.7"/>
<text x="553.0" y="920.8" font-size="9.2" fill="#333" text-anchor="middle">0</text>
<line x1="566.4" y1="893.3" x2="566.4" y2="895.9" stroke="#fff" stroke-width="0.7"/>
<line x1="566.4" y1="906.1" x2="566.4" y2="908.7" stroke="#fff" stroke-width="0.7"/>
<text x="566.4" y="920.8" font-size="9.2" fill="#333" text-anchor="middle">1</text>
<line x1="579.8" y1="893.3" x2="579.8" y2="895.9" stroke="#fff" stroke-width="0.7"/>
<line x1="579.8" y1="906.1" x2="579.8" y2="908.7" stroke="#fff" stroke-width="0.7"/>
<text x="579.8" y="920.8" font-size="9.2" fill="#333" text-anchor="middle">2</text>
<rect x="608.8" y="893.3" width="76.2" height="15.4" fill="url(#gdT)"/>
<line x1="617.7" y1="893.3" x2="617.7" y2="895.9" stroke="#fff" stroke-width="0.7"/>
<line x1="617.7" y1="906.1" x2="617.7" y2="908.7" stroke="#fff" stroke-width="0.7"/>
<text x="617.7" y="920.8" font-size="9.2" fill="#333" text-anchor="middle">−2</text>
<line x1="633.0" y1="893.3" x2="633.0" y2="895.9" stroke="#fff" stroke-width="0.7"/>
<line x1="633.0" y1="906.1" x2="633.0" y2="908.7" stroke="#fff" stroke-width="0.7"/>
<text x="633.0" y="920.8" font-size="9.2" fill="#333" text-anchor="middle">−1</text>
<line x1="648.3" y1="893.3" x2="648.3" y2="895.9" stroke="#fff" stroke-width="0.7"/>
<line x1="648.3" y1="906.1" x2="648.3" y2="908.7" stroke="#fff" stroke-width="0.7"/>
<text x="648.3" y="920.8" font-size="9.2" fill="#333" text-anchor="middle">0</text>
<line x1="663.6" y1="893.3" x2="663.6" y2="895.9" stroke="#fff" stroke-width="0.7"/>
<line x1="663.6" y1="906.1" x2="663.6" y2="908.7" stroke="#fff" stroke-width="0.7"/>
<text x="663.6" y="920.8" font-size="9.2" fill="#333" text-anchor="middle">1</text>
<line x1="678.9" y1="893.3" x2="678.9" y2="895.9" stroke="#fff" stroke-width="0.7"/>
<line x1="678.9" y1="906.1" x2="678.9" y2="908.7" stroke="#fff" stroke-width="0.7"/>
<text x="678.9" y="920.8" font-size="9.2" fill="#333" text-anchor="middle">2</text>
<text x="575.8" y="889.5" font-size="10.6" fill="#222" textLength="51.8" lengthAdjust="spacingAndGlyphs">GSEA NES</text>
<text x="549.6" y="937.0" font-size="10.6" fill="#222" textLength="111.7" lengthAdjust="spacingAndGlyphs">−log<tspan font-size="6.5" dy="2.2">10</tspan><tspan dy="-2.2">(FDR-adjusted </tspan><tspan font-style="italic">P</tspan>)</text>
<rect x="502.5" y="943.0" width="14.7" height="14.7" fill="#ebebeb"/>
<circle cx="509.9" cy="950.4" r="3.0" fill="none" stroke="#3a3a3a" stroke-width="0.75"/>
<text x="509.9" y="969.3" font-size="9.2" fill="#333" text-anchor="middle">2.5</text>
<rect x="520.5" y="943.0" width="14.7" height="14.7" fill="#ebebeb"/>
<circle cx="527.9" cy="950.4" r="3.9" fill="none" stroke="#3a3a3a" stroke-width="0.75"/>
<text x="527.9" y="969.3" font-size="9.2" fill="#333" text-anchor="middle">5.0</text>
<rect x="538.5" y="943.0" width="14.7" height="14.7" fill="#ebebeb"/>
<circle cx="545.9" cy="950.4" r="4.4" fill="none" stroke="#3a3a3a" stroke-width="0.75"/>
<text x="545.9" y="969.3" font-size="9.2" fill="#333" text-anchor="middle">7.5</text>
<rect x="556.6" y="943.0" width="14.7" height="14.7" fill="#ebebeb"/>
<circle cx="564.0" cy="950.4" r="5.0" fill="none" stroke="#3a3a3a" stroke-width="0.75"/>
<text x="564.0" y="969.3" font-size="9.2" fill="#333" text-anchor="middle">10.0</text>
<rect x="574.6" y="943.0" width="14.7" height="14.7" fill="#ebebeb"/>
<circle cx="582.0" cy="950.4" r="5.5" fill="none" stroke="#3a3a3a" stroke-width="0.75"/>
<text x="582.0" y="969.3" font-size="9.2" fill="#333" text-anchor="middle">12.5</text>
<rect x="610.1" y="943.0" width="14.7" height="14.7" fill="#ebebeb"/>
<circle cx="617.5" cy="950.4" r="3.0" fill="none" stroke="#3a3a3a" stroke-width="0.75"/>
<text x="617.5" y="969.3" font-size="9.2" fill="#333" text-anchor="middle">10</text>
<rect x="628.1" y="943.0" width="14.7" height="14.7" fill="#ebebeb"/>
<circle cx="635.5" cy="950.4" r="3.9" fill="none" stroke="#3a3a3a" stroke-width="0.75"/>
<text x="635.5" y="969.3" font-size="9.2" fill="#333" text-anchor="middle">20</text>
<rect x="646.2" y="943.0" width="14.7" height="14.7" fill="#ebebeb"/>
<circle cx="653.6" cy="950.4" r="4.5" fill="none" stroke="#3a3a3a" stroke-width="0.75"/>
<text x="653.6" y="969.3" font-size="9.2" fill="#333" text-anchor="middle">30</text>
<rect x="664.8" y="943.0" width="14.7" height="14.7" fill="#ebebeb"/>
<circle cx="672.1" cy="950.4" r="5.2" fill="none" stroke="#3a3a3a" stroke-width="0.75"/>
<text x="672.1" y="969.3" font-size="9.2" fill="#333" text-anchor="middle">40</text>
<defs><linearGradient id="gGen" x1="0" x2="1" y1="0" y2="0"><stop offset="0.000" stop-color="#0000ff"/><stop offset="0.040" stop-color="#4926ff"/><stop offset="0.081" stop-color="#673dff"/><stop offset="0.121" stop-color="#7e52ff"/><stop offset="0.162" stop-color="#9265ff"/><stop offset="0.202" stop-color="#a378ff"/><stop offset="0.242" stop-color="#b38bff"/><stop offset="0.283" stop-color="#c19eff"/><stop offset="0.323" stop-color="#cfb1ff"/><stop offset="0.364" stop-color="#dcc4ff"/><stop offset="0.404" stop-color="#e8d8ff"/><stop offset="0.445" stop-color="#f4ebff"/><stop offset="0.485" stop-color="#ffffff"/><stop offset="0.505" stop-color="#ffe8e0"/><stop offset="0.546" stop-color="#ffdacd"/><stop offset="0.588" stop-color="#ffccba"/><stop offset="0.629" stop-color="#ffbea8"/><stop offset="0.670" stop-color="#ffaf96"/><stop offset="0.711" stop-color="#ffa184"/><stop offset="0.752" stop-color="#ff9273"/><stop offset="0.794" stop-color="#ff8262"/><stop offset="0.835" stop-color="#ff7250"/><stop offset="0.876" stop-color="#ff603f"/><stop offset="0.917" stop-color="#ff4c2d"/><stop offset="0.959" stop-color="#ff341a"/><stop offset="1.000" stop-color="#ff0000"/></linearGradient><linearGradient id="gArr" x1="0" x2="1" y1="0" y2="0"><stop offset="0.000" stop-color="#56606e"/><stop offset="0.470" stop-color="#ffffff"/><stop offset="0.530" stop-color="#ffffff"/><stop offset="1.000" stop-color="#56606e"/></linearGradient><linearGradient id="gcM" x1="0" x2="1" y1="0" y2="0"><stop offset="0.000" stop-color="#0000ff"/><stop offset="0.041" stop-color="#4926ff"/><stop offset="0.081" stop-color="#673dff"/><stop offset="0.122" stop-color="#7e52ff"/><stop offset="0.162" stop-color="#9265ff"/><stop offset="0.203" stop-color="#a378ff"/><stop offset="0.243" stop-color="#b38bff"/><stop offset="0.284" stop-color="#c19eff"/><stop offset="0.325" stop-color="#cfb1ff"/><stop offset="0.365" stop-color="#dcc4ff"/><stop offset="0.406" stop-color="#e8d8ff"/><stop offset="0.446" stop-color="#f4ebff"/><stop offset="0.487" stop-color="#ffffff"/><stop offset="0.530" stop-color="#ffefe9"/><stop offset="0.572" stop-color="#ffdfd4"/><stop offset="0.615" stop-color="#ffcfbf"/><stop offset="0.658" stop-color="#ffbfaa"/><stop offset="0.701" stop-color="#ffaf95"/><stop offset="0.743" stop-color="#ff9e81"/><stop offset="0.786" stop-color="#ff8d6d"/><stop offset="0.829" stop-color="#ff7b5a"/><stop offset="0.872" stop-color="#ff6846"/><stop offset="0.914" stop-color="#ff5232"/><stop offset="0.957" stop-color="#ff381d"/><stop offset="1.000" stop-color="#ff0000"/></linearGradient><linearGradient id="gcT" x1="0" x2="1" y1="0" y2="0"><stop offset="0.000" stop-color="#0000ff"/><stop offset="0.041" stop-color="#4926ff"/><stop offset="0.082" stop-color="#673dff"/><stop offset="0.123" stop-color="#7e52ff"/><stop offset="0.164" stop-color="#9265ff"/><stop offset="0.205" stop-color="#a378ff"/><stop offset="0.246" stop-color="#b38bff"/><stop offset="0.287" stop-color="#c19eff"/><stop offset="0.328" stop-color="#cfb1ff"/><stop offset="0.369" stop-color="#dcc4ff"/><stop offset="0.410" stop-color="#e8d8ff"/><stop offset="0.451" stop-color="#f4ebff"/><stop offset="0.492" stop-color="#ffffff"/><stop offset="0.534" stop-color="#ffefe9"/><stop offset="0.577" stop-color="#ffdfd4"/><stop offset="0.619" stop-color="#ffcfbf"/><stop offset="0.661" stop-color="#ffbfaa"/><stop offset="0.704" stop-color="#ffaf95"/><stop offset="0.746" stop-color="#ff9e81"/><stop offset="0.788" stop-color="#ff8d6d"/><stop offset="0.831" stop-color="#ff7b5a"/><stop offset="0.873" stop-color="#ff6846"/><stop offset="0.915" stop-color="#ff5232"/><stop offset="0.958" stop-color="#ff381d"/><stop offset="1.000" stop-color="#ff0000"/></linearGradient><linearGradient id="gdM" x1="0" x2="1" y1="0" y2="0"><stop offset="0.000" stop-color="#0000ff"/><stop offset="0.041" stop-color="#4926ff"/><stop offset="0.082" stop-color="#673dff"/><stop offset="0.123" stop-color="#7e52ff"/><stop offset="0.164" stop-color="#9265ff"/><stop offset="0.205" stop-color="#a378ff"/><stop offset="0.245" stop-color="#b38bff"/><stop offset="0.286" stop-color="#c19eff"/><stop offset="0.327" stop-color="#cfb1ff"/><stop offset="0.368" stop-color="#dcc4ff"/><stop offset="0.409" stop-color="#e8d8ff"/><stop offset="0.450" stop-color="#f4ebff"/><stop offset="0.491" stop-color="#ffffff"/><stop offset="0.533" stop-color="#ffefe9"/><stop offset="0.576" stop-color="#ffdfd4"/><stop offset="0.618" stop-color="#ffcfbf"/><stop offset="0.661" stop-color="#ffbfaa"/><stop offset="0.703" stop-color="#ffaf95"/><stop offset="0.745" stop-color="#ff9e81"/><stop offset="0.788" stop-color="#ff8d6d"/><stop offset="0.830" stop-color="#ff7b5a"/><stop offset="0.873" stop-color="#ff6846"/><stop offset="0.915" stop-color="#ff5232"/><stop offset="0.958" stop-color="#ff381d"/><stop offset="1.000" stop-color="#ff0000"/></linearGradient><linearGradient id="gdT" x1="0" x2="1" y1="0" y2="0"><stop offset="0.000" stop-color="#0000ff"/><stop offset="0.043" stop-color="#4926ff"/><stop offset="0.086" stop-color="#673dff"/><stop offset="0.130" stop-color="#7e52ff"/><stop offset="0.173" stop-color="#9265ff"/><stop offset="0.216" stop-color="#a378ff"/><stop offset="0.259" stop-color="#b38bff"/><stop offset="0.302" stop-color="#c19eff"/><stop offset="0.346" stop-color="#cfb1ff"/><stop offset="0.389" stop-color="#dcc4ff"/><stop offset="0.432" stop-color="#e8d8ff"/><stop offset="0.475" stop-color="#f4ebff"/><stop offset="0.518" stop-color="#ffffff"/><stop offset="0.559" stop-color="#ffefe9"/><stop offset="0.599" stop-color="#ffdfd4"/><stop offset="0.639" stop-color="#ffcfbf"/><stop offset="0.679" stop-color="#ffbfaa"/><stop offset="0.719" stop-color="#ffaf95"/><stop offset="0.759" stop-color="#ff9e81"/><stop offset="0.799" stop-color="#ff8d6d"/><stop offset="0.839" stop-color="#ff7b5a"/><stop offset="0.880" stop-color="#ff6846"/><stop offset="0.920" stop-color="#ff5232"/><stop offset="0.960" stop-color="#ff381d"/><stop offset="1.000" stop-color="#ff0000"/></linearGradient></defs>
</svg></body></html>
